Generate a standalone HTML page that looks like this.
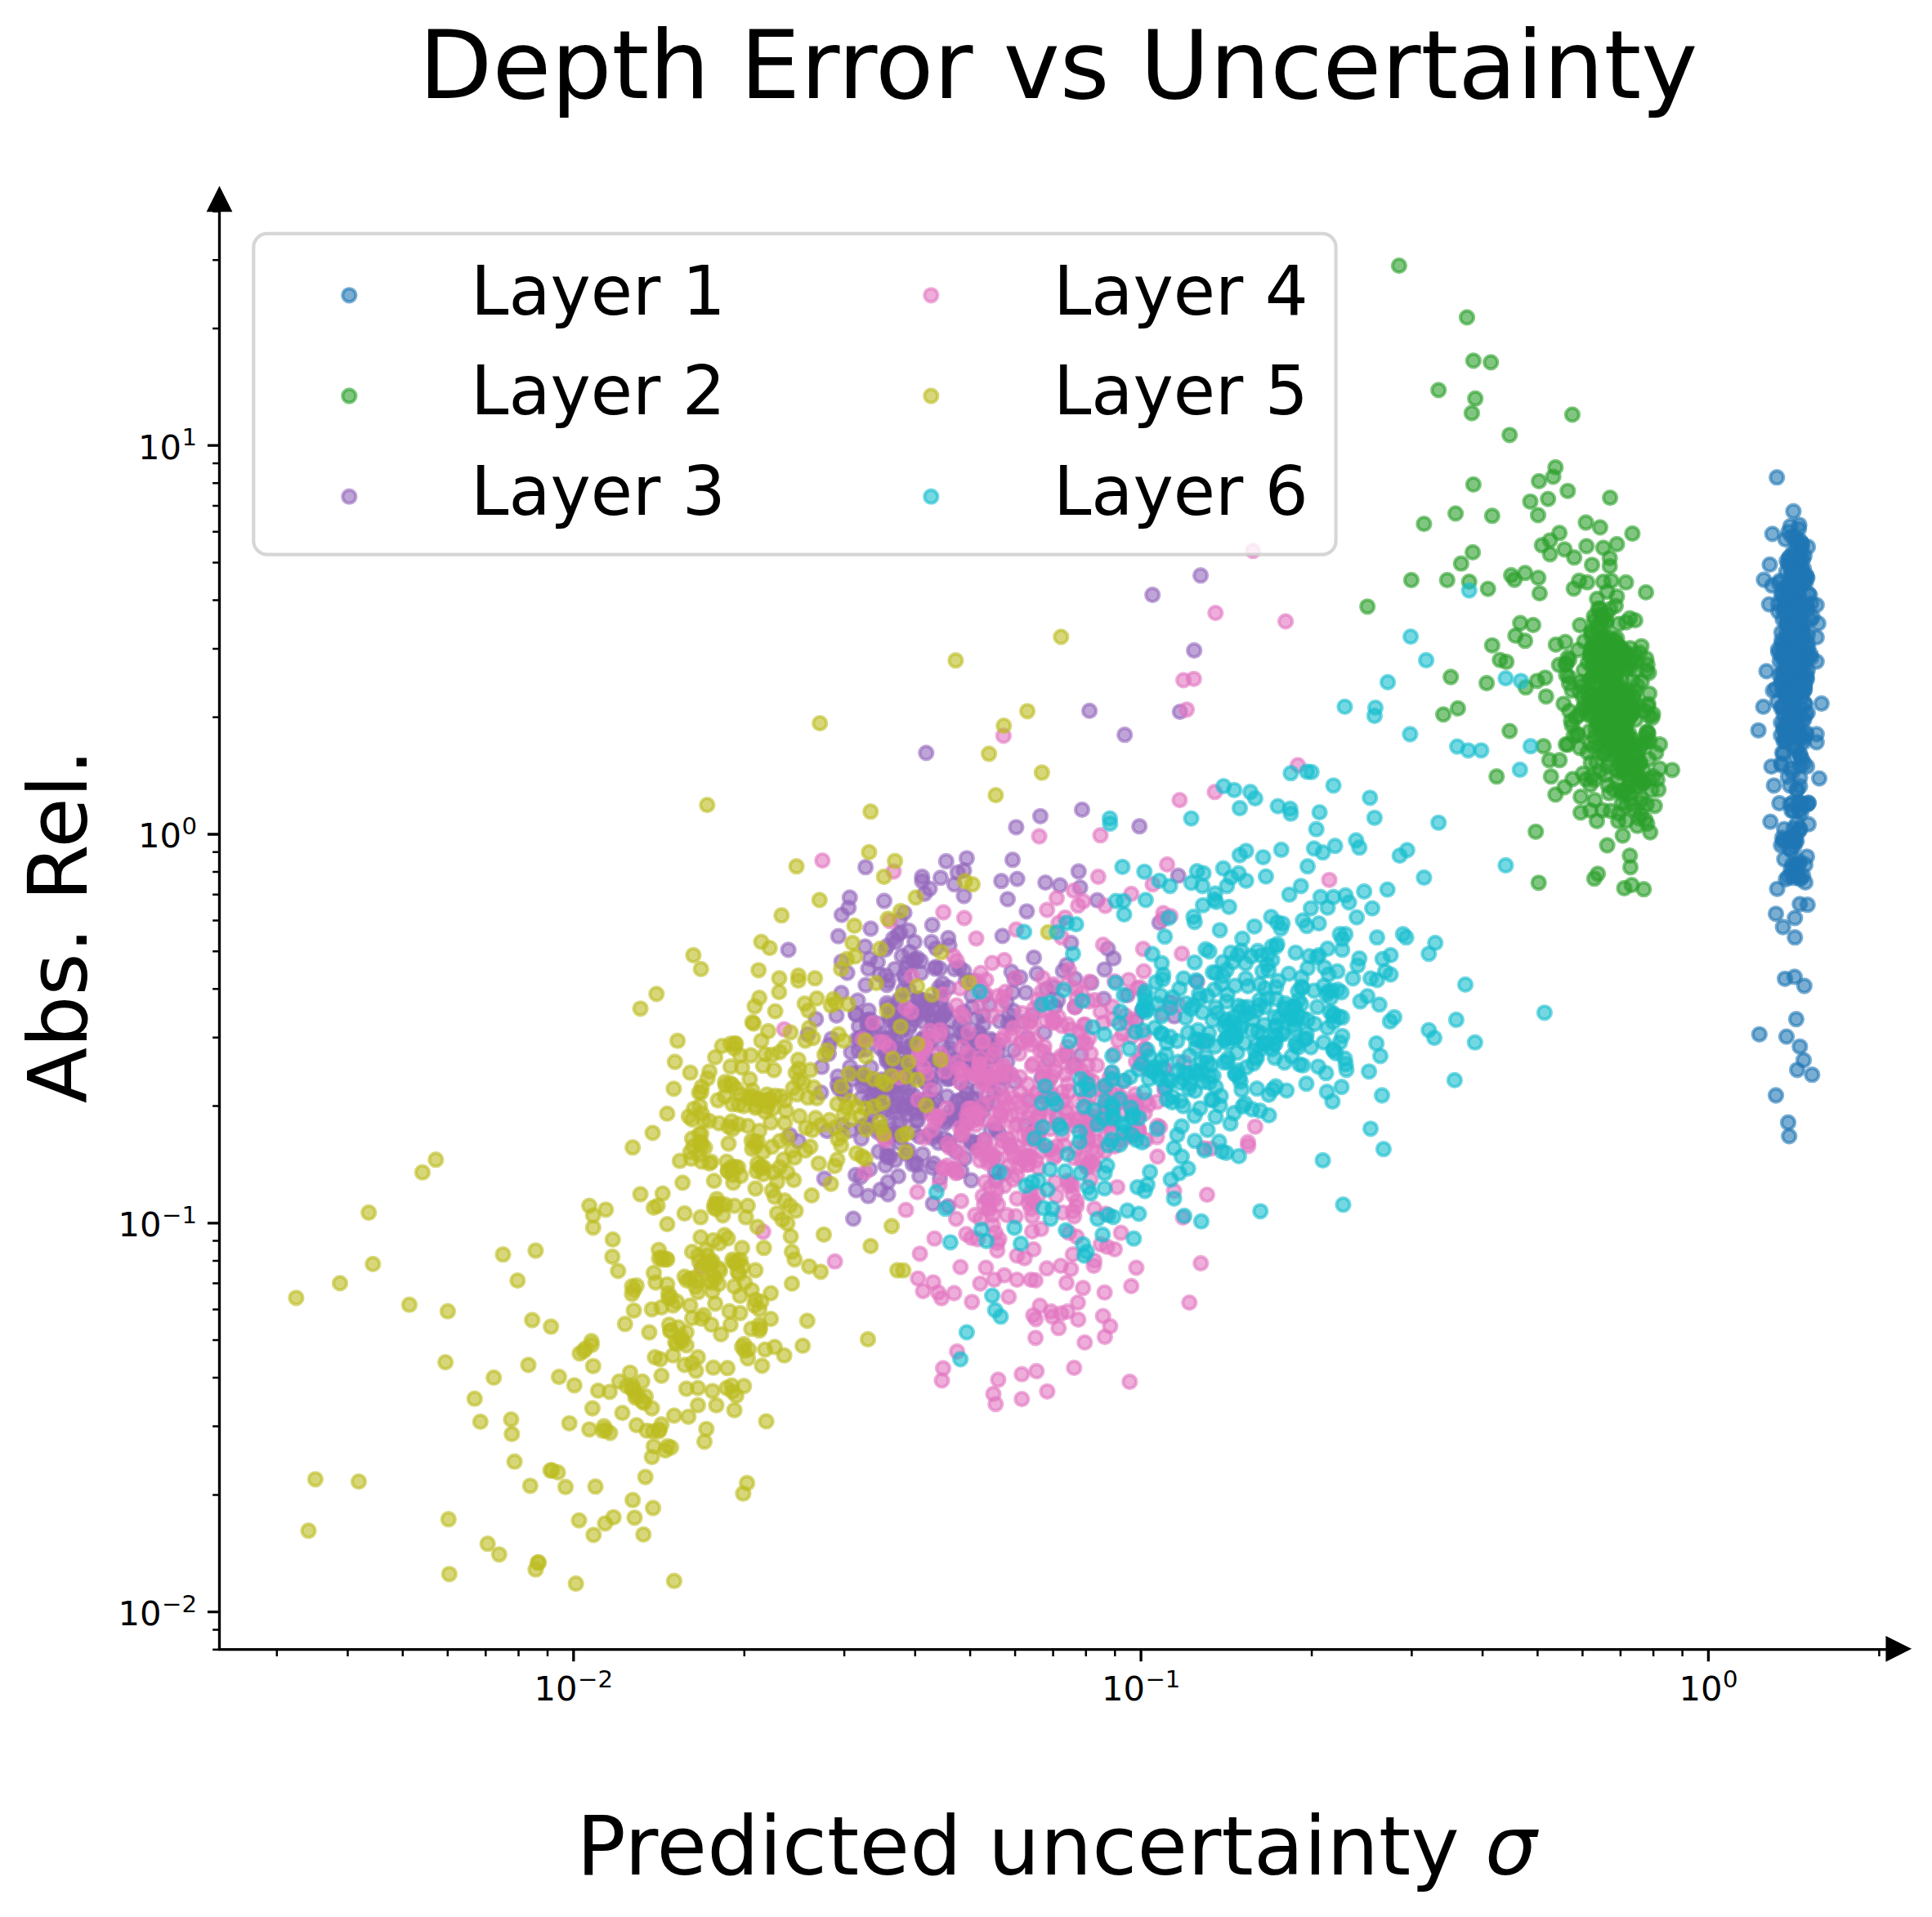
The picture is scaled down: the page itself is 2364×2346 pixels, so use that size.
<!DOCTYPE html>
<html><head><meta charset="utf-8"><title>Depth Error vs Uncertainty</title>
<style>html,body{margin:0;padding:0;background:#fff}svg{display:block}text{font-family:"DejaVu Sans","Liberation Sans",sans-serif;fill:#000}</style></head>
<body>
<svg width="2364" height="2346" viewBox="0 0 2364 2346">
<rect width="2364" height="2346" fill="#fff"/>
<g stroke="#000" fill="none">
<path stroke-width="2.5" d="M338.8 2018.7v8.33M425.5 2018.7v8.33M492.8 2018.7v8.33M547.8 2018.7v8.33M594.3 2018.7v8.33M634.5 2018.7v8.33M670.0 2018.7v8.33M910.8 2018.7v8.33M1033.1 2018.7v8.33M1119.8 2018.7v8.33M1187.1 2018.7v8.33M1242.1 2018.7v8.33M1288.6 2018.7v8.33M1328.8 2018.7v8.33M1364.3 2018.7v8.33M1605.1 2018.7v8.33M1727.4 2018.7v8.33M1814.1 2018.7v8.33M1881.4 2018.7v8.33M1936.4 2018.7v8.33M1982.9 2018.7v8.33M2023.1 2018.7v8.33M2058.6 2018.7v8.33M2299.4 2018.7v8.33"/>
<path stroke-width="2.5" d="M268.5 2018.7h-8.33M268.5 1994.4h-8.33M268.5 1829.4h-8.33M268.5 1745.6h-8.33M268.5 1686.1h-8.33M268.5 1640.0h-8.33M268.5 1602.4h-8.33M268.5 1570.5h-8.33M268.5 1542.9h-8.33M268.5 1518.6h-8.33M268.5 1353.6h-8.33M268.5 1269.8h-8.33M268.5 1210.3h-8.33M268.5 1164.2h-8.33M268.5 1126.6h-8.33M268.5 1094.7h-8.33M268.5 1067.1h-8.33M268.5 1042.8h-8.33M268.5 877.8h-8.33M268.5 794.0h-8.33M268.5 734.5h-8.33M268.5 688.4h-8.33M268.5 650.8h-8.33M268.5 618.9h-8.33M268.5 591.3h-8.33M268.5 567.0h-8.33M268.5 402.0h-8.33M268.5 318.2h-8.33M268.5 258.7h-8.33"/>
<path stroke-width="3.33" d="M701.8 2018.7v14.58M1396.1 2018.7v14.58M2090.4 2018.7v14.58M268.5 1972.6h-14.58M268.5 1496.8h-14.58M268.5 1021.0h-14.58M268.5 545.2h-14.58"/>
<path stroke-width="3.33" stroke-linecap="square" d="M268.5 244.6V2018.7H2322.0"/>
</g>
<path fill="#000" stroke="#000" stroke-width="4.17" stroke-linejoin="miter" d="M2334.5 2017.8L2309.5 2005.3V2030.3Z"/>
<path fill="#000" stroke="#000" stroke-width="4.17" stroke-linejoin="miter" d="M268.5 232.1L281.0 257.1H256.0Z"/>
<text x="653.6" y="2081" font-size="41.67">10<tspan dx="0.5" dy="-16.3" font-size="29.17">−2</tspan></text>
<text x="1347.9" y="2081" font-size="41.67">10<tspan dx="0.5" dy="-16.3" font-size="29.17">−1</tspan></text>
<text x="2054.4" y="2081" font-size="41.67">10<tspan dx="0.5" dy="-16.3" font-size="29.17">0</tspan></text>
<text x="144.5" y="1988.9" font-size="41.67">10<tspan dx="0.5" dy="-16.3" font-size="29.17">−2</tspan></text>
<text x="144.5" y="1513.1" font-size="41.67">10<tspan dx="0.5" dy="-16.3" font-size="29.17">−1</tspan></text>
<text x="168.9" y="1037.3" font-size="41.67">10<tspan dx="0.5" dy="-16.3" font-size="29.17">0</tspan></text>
<text x="168.9" y="561.5" font-size="41.67">10<tspan dx="0.5" dy="-16.3" font-size="29.17">1</tspan></text>
<text x="512.6" y="120.2" font-size="116.67" letter-spacing=".1">Depth Error vs Uncertainty</text>
<text x="705.5" y="2294" font-size="100" letter-spacing=".23">Predicted uncertainty <tspan font-style="oblique" dx="-1">σ</tspan></text>
<text transform="translate(105.8 1350.3) rotate(-90)" font-size="100">Abs. Rel.</text>
<g fill="#1f77b4" stroke="#1f77b4" stroke-width="4.17" fill-opacity=".6" stroke-opacity=".6">
<circle cx="2195.3" cy="902.0" r="8.07"/><circle cx="2207.2" cy="761.7" r="8.07"/><circle cx="2192.0" cy="760.4" r="8.07"/><circle cx="2200.7" cy="795.8" r="8.07"/><circle cx="2202.5" cy="661.5" r="8.07"/><circle cx="2210.7" cy="792.8" r="8.07"/><circle cx="2201.8" cy="789.8" r="8.07"/><circle cx="2191.2" cy="834.7" r="8.07"/>
<circle cx="2203.2" cy="784.8" r="8.07"/><circle cx="2193.5" cy="851.4" r="8.07"/><circle cx="2186.3" cy="686.4" r="8.07"/><circle cx="2198.9" cy="749.7" r="8.07"/><circle cx="2175.8" cy="738.9" r="8.07"/><circle cx="2190.3" cy="710.5" r="8.07"/><circle cx="2180.1" cy="802.7" r="8.07"/><circle cx="2204.0" cy="782.5" r="8.07"/>
<circle cx="2187.6" cy="828.9" r="8.07"/><circle cx="2202.2" cy="777.5" r="8.07"/><circle cx="2200.4" cy="878.2" r="8.07"/><circle cx="2192.9" cy="739.0" r="8.07"/><circle cx="2198.5" cy="818.6" r="8.07"/><circle cx="2206.0" cy="703.7" r="8.07"/><circle cx="2188.4" cy="737.1" r="8.07"/><circle cx="2177.7" cy="809.5" r="8.07"/>
<circle cx="2200.3" cy="744.6" r="8.07"/><circle cx="2208.9" cy="861.6" r="8.07"/><circle cx="2201.3" cy="830.1" r="8.07"/><circle cx="2204.6" cy="700.1" r="8.07"/><circle cx="2201.1" cy="845.2" r="8.07"/><circle cx="2177.3" cy="826.0" r="8.07"/><circle cx="2192.5" cy="858.6" r="8.07"/><circle cx="2190.6" cy="798.6" r="8.07"/>
<circle cx="2198.4" cy="734.3" r="8.07"/><circle cx="2201.0" cy="792.1" r="8.07"/><circle cx="2199.9" cy="760.9" r="8.07"/><circle cx="2205.9" cy="845.4" r="8.07"/><circle cx="2193.2" cy="847.4" r="8.07"/><circle cx="2207.6" cy="934.3" r="8.07"/><circle cx="2179.3" cy="866.2" r="8.07"/><circle cx="2199.7" cy="793.0" r="8.07"/>
<circle cx="2184.9" cy="894.3" r="8.07"/><circle cx="2182.4" cy="842.5" r="8.07"/><circle cx="2208.0" cy="680.0" r="8.07"/><circle cx="2192.0" cy="701.8" r="8.07"/><circle cx="2197.4" cy="913.6" r="8.07"/><circle cx="2189.3" cy="852.8" r="8.07"/><circle cx="2210.8" cy="831.6" r="8.07"/><circle cx="2187.5" cy="822.3" r="8.07"/>
<circle cx="2194.8" cy="784.7" r="8.07"/><circle cx="2187.7" cy="829.0" r="8.07"/><circle cx="2198.1" cy="793.0" r="8.07"/><circle cx="2192.8" cy="703.6" r="8.07"/><circle cx="2190.1" cy="890.5" r="8.07"/><circle cx="2193.1" cy="692.0" r="8.07"/><circle cx="2208.3" cy="839.8" r="8.07"/><circle cx="2216.1" cy="804.7" r="8.07"/>
<circle cx="2190.4" cy="691.4" r="8.07"/><circle cx="2186.8" cy="751.5" r="8.07"/><circle cx="2201.0" cy="737.7" r="8.07"/><circle cx="2192.3" cy="773.8" r="8.07"/><circle cx="2196.9" cy="882.1" r="8.07"/><circle cx="2195.2" cy="868.9" r="8.07"/><circle cx="2190.8" cy="824.6" r="8.07"/><circle cx="2203.0" cy="755.7" r="8.07"/>
<circle cx="2200.8" cy="840.7" r="8.07"/><circle cx="2208.2" cy="860.9" r="8.07"/><circle cx="2205.2" cy="791.6" r="8.07"/><circle cx="2188.0" cy="745.1" r="8.07"/><circle cx="2190.1" cy="715.3" r="8.07"/><circle cx="2189.5" cy="793.1" r="8.07"/><circle cx="2197.5" cy="774.6" r="8.07"/><circle cx="2175.8" cy="794.6" r="8.07"/>
<circle cx="2197.3" cy="881.3" r="8.07"/><circle cx="2200.8" cy="751.7" r="8.07"/><circle cx="2187.8" cy="950.8" r="8.07"/><circle cx="2202.6" cy="937.4" r="8.07"/><circle cx="2216.3" cy="738.6" r="8.07"/><circle cx="2198.9" cy="834.4" r="8.07"/><circle cx="2200.6" cy="840.6" r="8.07"/><circle cx="2197.0" cy="813.1" r="8.07"/>
<circle cx="2180.0" cy="787.6" r="8.07"/><circle cx="2187.5" cy="809.5" r="8.07"/><circle cx="2190.3" cy="846.4" r="8.07"/><circle cx="2203.2" cy="823.2" r="8.07"/><circle cx="2198.2" cy="807.0" r="8.07"/><circle cx="2190.5" cy="787.7" r="8.07"/><circle cx="2190.0" cy="829.1" r="8.07"/><circle cx="2195.1" cy="843.6" r="8.07"/>
<circle cx="2181.7" cy="866.6" r="8.07"/><circle cx="2187.4" cy="744.9" r="8.07"/><circle cx="2193.0" cy="757.7" r="8.07"/><circle cx="2197.9" cy="756.9" r="8.07"/><circle cx="2184.3" cy="736.6" r="8.07"/><circle cx="2208.1" cy="803.3" r="8.07"/><circle cx="2183.3" cy="800.6" r="8.07"/><circle cx="2179.4" cy="934.2" r="8.07"/>
<circle cx="2179.8" cy="835.9" r="8.07"/><circle cx="2200.4" cy="691.2" r="8.07"/><circle cx="2198.0" cy="874.8" r="8.07"/><circle cx="2199.7" cy="819.6" r="8.07"/><circle cx="2204.5" cy="812.1" r="8.07"/><circle cx="2198.4" cy="790.5" r="8.07"/><circle cx="2201.3" cy="729.4" r="8.07"/><circle cx="2202.9" cy="762.1" r="8.07"/>
<circle cx="2184.1" cy="827.4" r="8.07"/><circle cx="2211.9" cy="872.1" r="8.07"/><circle cx="2189.8" cy="852.4" r="8.07"/><circle cx="2190.5" cy="790.7" r="8.07"/><circle cx="2196.9" cy="722.8" r="8.07"/><circle cx="2188.0" cy="689.4" r="8.07"/><circle cx="2179.8" cy="729.3" r="8.07"/><circle cx="2203.3" cy="925.0" r="8.07"/>
<circle cx="2194.7" cy="881.9" r="8.07"/><circle cx="2192.4" cy="656.6" r="8.07"/><circle cx="2196.5" cy="833.4" r="8.07"/><circle cx="2190.7" cy="822.7" r="8.07"/><circle cx="2200.7" cy="735.2" r="8.07"/><circle cx="2180.2" cy="783.4" r="8.07"/><circle cx="2192.9" cy="773.6" r="8.07"/><circle cx="2204.9" cy="929.4" r="8.07"/>
<circle cx="2190.8" cy="852.4" r="8.07"/><circle cx="2204.4" cy="853.5" r="8.07"/><circle cx="2205.5" cy="770.8" r="8.07"/><circle cx="2202.4" cy="951.8" r="8.07"/><circle cx="2203.0" cy="753.5" r="8.07"/><circle cx="2201.1" cy="894.7" r="8.07"/><circle cx="2198.7" cy="757.7" r="8.07"/><circle cx="2210.4" cy="706.3" r="8.07"/>
<circle cx="2200.0" cy="798.8" r="8.07"/><circle cx="2183.1" cy="891.5" r="8.07"/><circle cx="2198.5" cy="712.5" r="8.07"/><circle cx="2201.0" cy="767.6" r="8.07"/><circle cx="2176.0" cy="748.3" r="8.07"/><circle cx="2197.6" cy="847.7" r="8.07"/><circle cx="2196.7" cy="803.4" r="8.07"/><circle cx="2199.7" cy="784.2" r="8.07"/>
<circle cx="2206.8" cy="811.1" r="8.07"/><circle cx="2197.9" cy="840.6" r="8.07"/><circle cx="2184.4" cy="746.8" r="8.07"/><circle cx="2210.3" cy="825.1" r="8.07"/><circle cx="2192.2" cy="825.6" r="8.07"/><circle cx="2190.2" cy="820.9" r="8.07"/><circle cx="2188.3" cy="820.7" r="8.07"/><circle cx="2179.2" cy="899.8" r="8.07"/>
<circle cx="2189.9" cy="681.4" r="8.07"/><circle cx="2192.8" cy="772.2" r="8.07"/><circle cx="2196.5" cy="714.1" r="8.07"/><circle cx="2182.2" cy="825.3" r="8.07"/><circle cx="2191.9" cy="814.4" r="8.07"/><circle cx="2176.9" cy="713.7" r="8.07"/><circle cx="2199.6" cy="797.1" r="8.07"/><circle cx="2211.4" cy="747.1" r="8.07"/>
<circle cx="2187.3" cy="732.2" r="8.07"/><circle cx="2194.6" cy="796.7" r="8.07"/><circle cx="2203.4" cy="809.7" r="8.07"/><circle cx="2187.4" cy="815.9" r="8.07"/><circle cx="2186.2" cy="846.7" r="8.07"/><circle cx="2193.3" cy="945.0" r="8.07"/><circle cx="2204.3" cy="866.8" r="8.07"/><circle cx="2196.9" cy="797.0" r="8.07"/>
<circle cx="2198.4" cy="897.1" r="8.07"/><circle cx="2200.3" cy="773.7" r="8.07"/><circle cx="2207.8" cy="814.4" r="8.07"/><circle cx="2194.2" cy="740.6" r="8.07"/><circle cx="2189.3" cy="752.3" r="8.07"/><circle cx="2200.7" cy="783.9" r="8.07"/><circle cx="2205.5" cy="832.8" r="8.07"/><circle cx="2192.7" cy="839.9" r="8.07"/>
<circle cx="2211.1" cy="938.0" r="8.07"/><circle cx="2209.3" cy="712.9" r="8.07"/><circle cx="2173.0" cy="842.8" r="8.07"/><circle cx="2195.3" cy="872.2" r="8.07"/><circle cx="2193.7" cy="816.5" r="8.07"/><circle cx="2180.0" cy="833.6" r="8.07"/><circle cx="2190.6" cy="826.2" r="8.07"/><circle cx="2199.6" cy="791.2" r="8.07"/>
<circle cx="2198.2" cy="799.0" r="8.07"/><circle cx="2202.6" cy="837.6" r="8.07"/><circle cx="2189.5" cy="755.9" r="8.07"/><circle cx="2212.4" cy="792.4" r="8.07"/><circle cx="2204.9" cy="829.5" r="8.07"/><circle cx="2189.4" cy="743.8" r="8.07"/><circle cx="2196.2" cy="819.2" r="8.07"/><circle cx="2201.1" cy="705.0" r="8.07"/>
<circle cx="2189.1" cy="792.9" r="8.07"/><circle cx="2199.4" cy="759.5" r="8.07"/><circle cx="2199.3" cy="763.1" r="8.07"/><circle cx="2198.6" cy="917.3" r="8.07"/><circle cx="2198.5" cy="832.5" r="8.07"/><circle cx="2198.7" cy="743.7" r="8.07"/><circle cx="2200.4" cy="784.4" r="8.07"/><circle cx="2186.9" cy="797.1" r="8.07"/>
<circle cx="2192.7" cy="856.5" r="8.07"/><circle cx="2194.6" cy="760.3" r="8.07"/><circle cx="2209.6" cy="874.1" r="8.07"/><circle cx="2207.7" cy="845.6" r="8.07"/><circle cx="2193.9" cy="768.6" r="8.07"/><circle cx="2192.2" cy="871.1" r="8.07"/><circle cx="2196.1" cy="688.8" r="8.07"/><circle cx="2194.6" cy="693.8" r="8.07"/>
<circle cx="2196.7" cy="709.7" r="8.07"/><circle cx="2182.4" cy="808.9" r="8.07"/><circle cx="2194.2" cy="675.4" r="8.07"/><circle cx="2202.5" cy="962.2" r="8.07"/><circle cx="2180.2" cy="936.5" r="8.07"/><circle cx="2188.1" cy="762.9" r="8.07"/><circle cx="2193.2" cy="691.6" r="8.07"/><circle cx="2208.0" cy="837.0" r="8.07"/>
<circle cx="2187.5" cy="779.2" r="8.07"/><circle cx="2179.8" cy="773.9" r="8.07"/><circle cx="2204.4" cy="671.4" r="8.07"/><circle cx="2190.6" cy="811.0" r="8.07"/><circle cx="2205.5" cy="901.2" r="8.07"/><circle cx="2190.4" cy="744.5" r="8.07"/><circle cx="2199.5" cy="772.8" r="8.07"/><circle cx="2191.9" cy="881.0" r="8.07"/>
<circle cx="2211.9" cy="819.9" r="8.07"/><circle cx="2193.1" cy="842.8" r="8.07"/><circle cx="2176.1" cy="798.6" r="8.07"/><circle cx="2202.2" cy="810.6" r="8.07"/><circle cx="2202.1" cy="922.2" r="8.07"/><circle cx="2187.7" cy="851.3" r="8.07"/><circle cx="2202.2" cy="683.9" r="8.07"/><circle cx="2204.4" cy="901.6" r="8.07"/>
<circle cx="2197.3" cy="795.3" r="8.07"/><circle cx="2202.9" cy="684.4" r="8.07"/><circle cx="2195.9" cy="879.1" r="8.07"/><circle cx="2182.6" cy="874.4" r="8.07"/><circle cx="2190.8" cy="643.9" r="8.07"/><circle cx="2193.9" cy="727.1" r="8.07"/><circle cx="2198.2" cy="712.1" r="8.07"/><circle cx="2205.5" cy="744.6" r="8.07"/>
<circle cx="2198.6" cy="755.5" r="8.07"/><circle cx="2191.8" cy="889.4" r="8.07"/><circle cx="2197.2" cy="770.4" r="8.07"/><circle cx="2182.5" cy="887.0" r="8.07"/><circle cx="2202.3" cy="775.5" r="8.07"/><circle cx="2197.4" cy="722.8" r="8.07"/><circle cx="2184.9" cy="738.0" r="8.07"/><circle cx="2198.5" cy="822.2" r="8.07"/>
<circle cx="2187.5" cy="855.3" r="8.07"/><circle cx="2202.8" cy="813.0" r="8.07"/><circle cx="2205.4" cy="778.4" r="8.07"/><circle cx="2193.9" cy="835.5" r="8.07"/><circle cx="2194.7" cy="859.5" r="8.07"/><circle cx="2182.5" cy="906.9" r="8.07"/><circle cx="2187.2" cy="787.6" r="8.07"/><circle cx="2181.2" cy="845.0" r="8.07"/>
<circle cx="2207.7" cy="880.3" r="8.07"/><circle cx="2203.3" cy="683.2" r="8.07"/><circle cx="2187.2" cy="765.3" r="8.07"/><circle cx="2185.7" cy="884.2" r="8.07"/><circle cx="2196.8" cy="798.2" r="8.07"/><circle cx="2199.9" cy="728.6" r="8.07"/><circle cx="2185.9" cy="733.9" r="8.07"/><circle cx="2200.0" cy="825.6" r="8.07"/>
<circle cx="2200.8" cy="880.9" r="8.07"/><circle cx="2181.4" cy="758.0" r="8.07"/><circle cx="2196.5" cy="698.8" r="8.07"/><circle cx="2189.7" cy="876.1" r="8.07"/><circle cx="2206.0" cy="880.8" r="8.07"/><circle cx="2195.4" cy="784.1" r="8.07"/><circle cx="2205.8" cy="772.1" r="8.07"/><circle cx="2198.4" cy="899.4" r="8.07"/>
<circle cx="2191.3" cy="754.2" r="8.07"/><circle cx="2194.9" cy="844.9" r="8.07"/><circle cx="2199.8" cy="811.7" r="8.07"/><circle cx="2200.6" cy="680.0" r="8.07"/><circle cx="2186.4" cy="812.2" r="8.07"/><circle cx="2185.7" cy="699.4" r="8.07"/><circle cx="2182.9" cy="731.1" r="8.07"/><circle cx="2193.2" cy="723.3" r="8.07"/>
<circle cx="2197.3" cy="927.2" r="8.07"/><circle cx="2193.5" cy="895.6" r="8.07"/><circle cx="2197.9" cy="716.0" r="8.07"/><circle cx="2192.4" cy="726.4" r="8.07"/><circle cx="2202.7" cy="713.5" r="8.07"/><circle cx="2208.2" cy="843.4" r="8.07"/><circle cx="2174.8" cy="858.8" r="8.07"/><circle cx="2210.5" cy="740.7" r="8.07"/>
<circle cx="2204.9" cy="665.1" r="8.07"/><circle cx="2197.5" cy="675.4" r="8.07"/><circle cx="2199.8" cy="665.9" r="8.07"/><circle cx="2217.9" cy="755.3" r="8.07"/><circle cx="2203.3" cy="808.3" r="8.07"/><circle cx="2191.8" cy="846.2" r="8.07"/><circle cx="2211.4" cy="707.4" r="8.07"/><circle cx="2200.6" cy="825.9" r="8.07"/>
<circle cx="2180.8" cy="921.1" r="8.07"/><circle cx="2214.5" cy="728.5" r="8.07"/><circle cx="2212.4" cy="804.2" r="8.07"/><circle cx="2193.4" cy="912.8" r="8.07"/><circle cx="2197.3" cy="824.2" r="8.07"/><circle cx="2210.2" cy="896.6" r="8.07"/><circle cx="2203.9" cy="695.0" r="8.07"/><circle cx="2179.3" cy="884.5" r="8.07"/>
<circle cx="2185.7" cy="811.1" r="8.07"/><circle cx="2184.3" cy="786.2" r="8.07"/><circle cx="2182.2" cy="922.3" r="8.07"/><circle cx="2184.8" cy="790.9" r="8.07"/><circle cx="2193.1" cy="890.5" r="8.07"/><circle cx="2180.8" cy="797.5" r="8.07"/><circle cx="2192.9" cy="839.7" r="8.07"/><circle cx="2199.7" cy="765.2" r="8.07"/>
<circle cx="2197.4" cy="771.9" r="8.07"/><circle cx="2199.7" cy="792.3" r="8.07"/><circle cx="2188.4" cy="797.9" r="8.07"/><circle cx="2190.1" cy="823.0" r="8.07"/><circle cx="2177.6" cy="710.9" r="8.07"/><circle cx="2198.9" cy="890.6" r="8.07"/><circle cx="2196.8" cy="702.6" r="8.07"/><circle cx="2206.2" cy="684.6" r="8.07"/>
<circle cx="2206.3" cy="908.9" r="8.07"/><circle cx="2187.4" cy="716.9" r="8.07"/><circle cx="2203.4" cy="717.9" r="8.07"/><circle cx="2203.6" cy="710.4" r="8.07"/><circle cx="2203.1" cy="807.0" r="8.07"/><circle cx="2190.7" cy="732.8" r="8.07"/><circle cx="2197.4" cy="658.1" r="8.07"/><circle cx="2192.2" cy="770.3" r="8.07"/>
<circle cx="2201.8" cy="706.0" r="8.07"/><circle cx="2212.1" cy="776.6" r="8.07"/><circle cx="2183.6" cy="904.0" r="8.07"/><circle cx="2211.6" cy="785.9" r="8.07"/><circle cx="2186.1" cy="801.2" r="8.07"/><circle cx="2188.1" cy="776.6" r="8.07"/><circle cx="2210.6" cy="829.4" r="8.07"/><circle cx="2196.5" cy="826.0" r="8.07"/>
<circle cx="2194.4" cy="863.1" r="8.07"/><circle cx="2203.8" cy="772.3" r="8.07"/><circle cx="2199.2" cy="786.1" r="8.07"/><circle cx="2215.5" cy="800.7" r="8.07"/><circle cx="2184.0" cy="850.6" r="8.07"/><circle cx="2186.0" cy="762.7" r="8.07"/><circle cx="2198.3" cy="790.5" r="8.07"/><circle cx="2187.4" cy="758.7" r="8.07"/>
<circle cx="2189.1" cy="887.5" r="8.07"/><circle cx="2187.8" cy="757.1" r="8.07"/><circle cx="2215.4" cy="758.5" r="8.07"/><circle cx="2209.9" cy="898.7" r="8.07"/><circle cx="2193.5" cy="693.5" r="8.07"/><circle cx="2199.5" cy="850.5" r="8.07"/><circle cx="2204.7" cy="805.4" r="8.07"/><circle cx="2207.0" cy="904.3" r="8.07"/>
<circle cx="2184.5" cy="907.2" r="8.07"/><circle cx="2196.7" cy="757.6" r="8.07"/><circle cx="2191.8" cy="940.8" r="8.07"/><circle cx="2204.8" cy="665.8" r="8.07"/><circle cx="2195.8" cy="789.5" r="8.07"/><circle cx="2193.2" cy="761.5" r="8.07"/><circle cx="2180.4" cy="864.6" r="8.07"/><circle cx="2185.6" cy="772.2" r="8.07"/>
<circle cx="2189.0" cy="745.4" r="8.07"/><circle cx="2202.4" cy="828.8" r="8.07"/><circle cx="2188.3" cy="729.1" r="8.07"/><circle cx="2190.3" cy="872.5" r="8.07"/><circle cx="2196.3" cy="817.5" r="8.07"/><circle cx="2191.7" cy="780.7" r="8.07"/><circle cx="2197.2" cy="661.7" r="8.07"/><circle cx="2211.1" cy="740.9" r="8.07"/>
<circle cx="2189.3" cy="900.4" r="8.07"/><circle cx="2197.2" cy="803.2" r="8.07"/><circle cx="2189.2" cy="682.9" r="8.07"/><circle cx="2196.8" cy="889.6" r="8.07"/><circle cx="2186.0" cy="902.2" r="8.07"/><circle cx="2183.7" cy="744.9" r="8.07"/><circle cx="2200.1" cy="800.0" r="8.07"/><circle cx="2201.9" cy="744.4" r="8.07"/>
<circle cx="2184.7" cy="660.0" r="8.07"/><circle cx="2183.0" cy="719.3" r="8.07"/><circle cx="2180.7" cy="823.1" r="8.07"/><circle cx="2188.4" cy="650.9" r="8.07"/><circle cx="2182.4" cy="893.0" r="8.07"/><circle cx="2206.7" cy="713.6" r="8.07"/><circle cx="2180.3" cy="725.0" r="8.07"/><circle cx="2206.3" cy="776.7" r="8.07"/>
<circle cx="2186.9" cy="797.9" r="8.07"/><circle cx="2207.0" cy="695.8" r="8.07"/><circle cx="2191.2" cy="696.2" r="8.07"/><circle cx="2204.5" cy="790.0" r="8.07"/><circle cx="2201.6" cy="642.3" r="8.07"/><circle cx="2197.8" cy="699.8" r="8.07"/><circle cx="2181.8" cy="747.1" r="8.07"/><circle cx="2191.5" cy="843.1" r="8.07"/>
<circle cx="2202.0" cy="819.7" r="8.07"/><circle cx="2185.6" cy="850.7" r="8.07"/><circle cx="2193.8" cy="888.5" r="8.07"/><circle cx="2190.2" cy="961.3" r="8.07"/><circle cx="2199.7" cy="785.4" r="8.07"/><circle cx="2203.8" cy="837.7" r="8.07"/><circle cx="2199.6" cy="761.5" r="8.07"/><circle cx="2195.8" cy="815.1" r="8.07"/>
<circle cx="2188.6" cy="716.1" r="8.07"/><circle cx="2196.4" cy="872.6" r="8.07"/><circle cx="2201.5" cy="837.0" r="8.07"/><circle cx="2201.7" cy="991.4" r="8.07"/><circle cx="2212.7" cy="982.5" r="8.07"/><circle cx="2201.7" cy="991.4" r="8.07"/><circle cx="2211.0" cy="984.8" r="8.07"/><circle cx="2202.4" cy="982.8" r="8.07"/>
<circle cx="2192.2" cy="992.1" r="8.07"/><circle cx="2198.4" cy="966.5" r="8.07"/><circle cx="2199.1" cy="966.5" r="8.07"/><circle cx="2193.5" cy="982.2" r="8.07"/><circle cx="2194.0" cy="991.7" r="8.07"/><circle cx="2190.5" cy="984.4" r="8.07"/><circle cx="2203.7" cy="995.2" r="8.07"/><circle cx="2206.0" cy="984.2" r="8.07"/>
<circle cx="2200.6" cy="981.5" r="8.07"/><circle cx="2200.6" cy="1017.9" r="8.07"/><circle cx="2196.0" cy="1024.1" r="8.07"/><circle cx="2193.9" cy="1022.2" r="8.07"/><circle cx="2194.0" cy="1028.2" r="8.07"/><circle cx="2196.6" cy="1030.1" r="8.07"/><circle cx="2195.3" cy="1035.9" r="8.07"/><circle cx="2180.8" cy="1025.2" r="8.07"/>
<circle cx="2182.8" cy="1027.7" r="8.07"/><circle cx="2183.2" cy="1014.6" r="8.07"/><circle cx="2191.6" cy="1040.5" r="8.07"/><circle cx="2196.4" cy="1028.4" r="8.07"/><circle cx="2202.6" cy="1014.7" r="8.07"/><circle cx="2190.0" cy="1038.7" r="8.07"/><circle cx="2198.4" cy="1029.2" r="8.07"/><circle cx="2188.6" cy="1026.7" r="8.07"/>
<circle cx="2181.8" cy="1030.3" r="8.07"/><circle cx="2191.3" cy="1028.8" r="8.07"/><circle cx="2194.8" cy="1013.5" r="8.07"/><circle cx="2202.0" cy="1014.0" r="8.07"/><circle cx="2198.8" cy="1007.6" r="8.07"/><circle cx="2199.5" cy="1057.7" r="8.07"/><circle cx="2197.4" cy="1059.3" r="8.07"/><circle cx="2197.5" cy="1070.8" r="8.07"/>
<circle cx="2191.4" cy="1063.2" r="8.07"/><circle cx="2193.0" cy="1057.9" r="8.07"/><circle cx="2202.6" cy="1073.8" r="8.07"/><circle cx="2201.9" cy="1056.7" r="8.07"/><circle cx="2197.6" cy="1063.4" r="8.07"/><circle cx="2187.8" cy="1073.1" r="8.07"/><circle cx="2197.7" cy="1060.8" r="8.07"/><circle cx="2206.3" cy="1072.0" r="8.07"/>
<circle cx="2202.7" cy="1075.9" r="8.07"/><circle cx="2201.8" cy="1053.7" r="8.07"/><circle cx="2194.6" cy="1074.2" r="8.07"/><circle cx="2174.2" cy="584.2" r="8.07"/><circle cx="2194.4" cy="625.7" r="8.07"/><circle cx="2168.7" cy="653.4" r="8.07"/><circle cx="2201.1" cy="647.4" r="8.07"/><circle cx="2212.1" cy="669.2" r="8.07"/>
<circle cx="2165.5" cy="690.9" r="8.07"/><circle cx="2158.4" cy="709.5" r="8.07"/><circle cx="2168.3" cy="716.6" r="8.07"/><circle cx="2210.2" cy="704.0" r="8.07"/><circle cx="2212.9" cy="726.5" r="8.07"/><circle cx="2164.7" cy="739.6" r="8.07"/><circle cx="2222.8" cy="740.4" r="8.07"/><circle cx="2224.8" cy="762.9" r="8.07"/>
<circle cx="2222.8" cy="779.9" r="8.07"/><circle cx="2161.5" cy="821.4" r="8.07"/><circle cx="2222.8" cy="809.6" r="8.07"/><circle cx="2169.4" cy="845.1" r="8.07"/><circle cx="2157.6" cy="864.9" r="8.07"/><circle cx="2228.8" cy="861.0" r="8.07"/><circle cx="2151.6" cy="893.8" r="8.07"/><circle cx="2222.8" cy="898.5" r="8.07"/>
<circle cx="2222.8" cy="908.4" r="8.07"/><circle cx="2167.5" cy="938.1" r="8.07"/><circle cx="2226.0" cy="952.6" r="8.07"/><circle cx="2170.6" cy="961.3" r="8.07"/><circle cx="2177.3" cy="983.0" r="8.07"/><circle cx="2212.9" cy="983.0" r="8.07"/><circle cx="2166.3" cy="1005.6" r="8.07"/><circle cx="2212.9" cy="1008.7" r="8.07"/>
<circle cx="2179.3" cy="1034.5" r="8.07"/><circle cx="2183.3" cy="1051.5" r="8.07"/><circle cx="2211.0" cy="1048.3" r="8.07"/><circle cx="2209.0" cy="1058.2" r="8.07"/><circle cx="2209.0" cy="1079.9" r="8.07"/><circle cx="2192.0" cy="1070.0" r="8.07"/><circle cx="2185.3" cy="1076.0" r="8.07"/><circle cx="2174.6" cy="1087.8" r="8.07"/>
<circle cx="2202.3" cy="1106.4" r="8.07"/><circle cx="2211.8" cy="1107.2" r="8.07"/><circle cx="2173.0" cy="1118.3" r="8.07"/><circle cx="2196.3" cy="1123.4" r="8.07"/><circle cx="2181.7" cy="1134.5" r="8.07"/><circle cx="2196.3" cy="1147.2" r="8.07"/><circle cx="2184.1" cy="1197.8" r="8.07"/><circle cx="2195.9" cy="1195.4" r="8.07"/>
<circle cx="2207.8" cy="1206.5" r="8.07"/><circle cx="2197.9" cy="1247.2" r="8.07"/><circle cx="2152.8" cy="1265.8" r="8.07"/><circle cx="2186.0" cy="1268.6" r="8.07"/><circle cx="2202.3" cy="1280.8" r="8.07"/><circle cx="2207.0" cy="1297.4" r="8.07"/><circle cx="2199.1" cy="1309.3" r="8.07"/><circle cx="2217.3" cy="1315.2" r="8.07"/>
<circle cx="2173.0" cy="1340.5" r="8.07"/><circle cx="2188.0" cy="1373.7" r="8.07"/><circle cx="2189.2" cy="1390.4" r="8.07"/>
</g>
<g fill="#2ca02c" stroke="#2ca02c" stroke-width="4.17" fill-opacity=".6" stroke-opacity=".6">
<circle cx="1954.7" cy="770.9" r="8.07"/><circle cx="1956.7" cy="806.9" r="8.07"/><circle cx="2014.4" cy="805.9" r="8.07"/><circle cx="2003.8" cy="963.2" r="8.07"/><circle cx="1976.5" cy="821.7" r="8.07"/><circle cx="1993.9" cy="950.7" r="8.07"/><circle cx="2029.3" cy="966.3" r="8.07"/><circle cx="2017.5" cy="876.3" r="8.07"/>
<circle cx="1965.6" cy="751.5" r="8.07"/><circle cx="1959.8" cy="825.1" r="8.07"/><circle cx="1988.1" cy="797.1" r="8.07"/><circle cx="2001.1" cy="880.7" r="8.07"/><circle cx="1970.5" cy="812.1" r="8.07"/><circle cx="2026.4" cy="921.2" r="8.07"/><circle cx="1965.1" cy="795.8" r="8.07"/><circle cx="2022.6" cy="873.8" r="8.07"/>
<circle cx="2009.0" cy="977.6" r="8.07"/><circle cx="1979.6" cy="802.3" r="8.07"/><circle cx="1972.6" cy="891.7" r="8.07"/><circle cx="1991.9" cy="902.6" r="8.07"/><circle cx="1968.8" cy="930.0" r="8.07"/><circle cx="2015.5" cy="1008.1" r="8.07"/><circle cx="2005.0" cy="1001.3" r="8.07"/><circle cx="2028.0" cy="954.1" r="8.07"/>
<circle cx="2002.5" cy="922.1" r="8.07"/><circle cx="1995.6" cy="931.8" r="8.07"/><circle cx="1948.1" cy="816.1" r="8.07"/><circle cx="1994.2" cy="756.6" r="8.07"/><circle cx="1953.7" cy="933.2" r="8.07"/><circle cx="1961.8" cy="821.2" r="8.07"/><circle cx="1991.9" cy="849.8" r="8.07"/><circle cx="1965.9" cy="822.2" r="8.07"/>
<circle cx="1975.0" cy="827.3" r="8.07"/><circle cx="1987.8" cy="967.9" r="8.07"/><circle cx="1991.5" cy="972.4" r="8.07"/><circle cx="1999.5" cy="934.1" r="8.07"/><circle cx="1996.3" cy="864.5" r="8.07"/><circle cx="1992.9" cy="896.4" r="8.07"/><circle cx="1960.6" cy="891.0" r="8.07"/><circle cx="1996.1" cy="903.4" r="8.07"/>
<circle cx="2014.8" cy="895.9" r="8.07"/><circle cx="1938.3" cy="863.5" r="8.07"/><circle cx="1969.3" cy="895.9" r="8.07"/><circle cx="1981.9" cy="934.3" r="8.07"/><circle cx="1988.9" cy="891.1" r="8.07"/><circle cx="1987.1" cy="945.1" r="8.07"/><circle cx="1956.8" cy="912.4" r="8.07"/><circle cx="1998.5" cy="851.6" r="8.07"/>
<circle cx="1984.0" cy="843.8" r="8.07"/><circle cx="1985.2" cy="926.2" r="8.07"/><circle cx="1969.7" cy="899.6" r="8.07"/><circle cx="2003.8" cy="926.5" r="8.07"/><circle cx="2016.8" cy="897.8" r="8.07"/><circle cx="1984.6" cy="862.4" r="8.07"/><circle cx="1984.1" cy="904.4" r="8.07"/><circle cx="1971.0" cy="843.0" r="8.07"/>
<circle cx="1947.1" cy="772.7" r="8.07"/><circle cx="1962.6" cy="781.2" r="8.07"/><circle cx="1974.7" cy="901.5" r="8.07"/><circle cx="1976.0" cy="784.7" r="8.07"/><circle cx="1989.1" cy="884.9" r="8.07"/><circle cx="1954.6" cy="850.0" r="8.07"/><circle cx="1961.5" cy="811.0" r="8.07"/><circle cx="1968.5" cy="902.9" r="8.07"/>
<circle cx="1966.7" cy="834.3" r="8.07"/><circle cx="1987.8" cy="934.1" r="8.07"/><circle cx="2008.8" cy="834.4" r="8.07"/><circle cx="2008.9" cy="911.6" r="8.07"/><circle cx="2009.1" cy="956.0" r="8.07"/><circle cx="1972.8" cy="861.3" r="8.07"/><circle cx="1977.8" cy="885.8" r="8.07"/><circle cx="2018.7" cy="907.0" r="8.07"/>
<circle cx="1963.1" cy="849.7" r="8.07"/><circle cx="1983.7" cy="795.3" r="8.07"/><circle cx="2000.6" cy="948.4" r="8.07"/><circle cx="1982.3" cy="871.7" r="8.07"/><circle cx="1980.6" cy="763.6" r="8.07"/><circle cx="1989.1" cy="802.2" r="8.07"/><circle cx="1963.9" cy="873.7" r="8.07"/><circle cx="2003.4" cy="838.2" r="8.07"/>
<circle cx="2007.9" cy="996.7" r="8.07"/><circle cx="1987.6" cy="869.1" r="8.07"/><circle cx="1988.3" cy="850.8" r="8.07"/><circle cx="1966.1" cy="890.4" r="8.07"/><circle cx="1999.1" cy="855.6" r="8.07"/><circle cx="1975.6" cy="825.6" r="8.07"/><circle cx="1969.4" cy="799.3" r="8.07"/><circle cx="1952.5" cy="892.3" r="8.07"/>
<circle cx="1976.7" cy="867.0" r="8.07"/><circle cx="2021.6" cy="878.4" r="8.07"/><circle cx="1996.1" cy="803.1" r="8.07"/><circle cx="1970.9" cy="897.8" r="8.07"/><circle cx="1978.5" cy="781.1" r="8.07"/><circle cx="1951.9" cy="858.0" r="8.07"/><circle cx="1964.4" cy="890.2" r="8.07"/><circle cx="1989.6" cy="856.4" r="8.07"/>
<circle cx="1982.4" cy="911.7" r="8.07"/><circle cx="1984.5" cy="814.9" r="8.07"/><circle cx="1990.8" cy="855.5" r="8.07"/><circle cx="1979.0" cy="897.6" r="8.07"/><circle cx="1990.6" cy="934.8" r="8.07"/><circle cx="1980.0" cy="839.2" r="8.07"/><circle cx="1976.8" cy="884.3" r="8.07"/><circle cx="1967.2" cy="832.3" r="8.07"/>
<circle cx="1966.4" cy="807.6" r="8.07"/><circle cx="1980.2" cy="1004.9" r="8.07"/><circle cx="1976.0" cy="876.7" r="8.07"/><circle cx="1985.8" cy="861.5" r="8.07"/><circle cx="1984.5" cy="982.7" r="8.07"/><circle cx="1978.6" cy="956.4" r="8.07"/><circle cx="1997.3" cy="833.0" r="8.07"/><circle cx="1970.6" cy="830.5" r="8.07"/>
<circle cx="1961.6" cy="913.8" r="8.07"/><circle cx="1992.4" cy="908.4" r="8.07"/><circle cx="1962.9" cy="876.0" r="8.07"/><circle cx="1982.1" cy="884.3" r="8.07"/><circle cx="1992.5" cy="851.1" r="8.07"/><circle cx="1976.0" cy="839.7" r="8.07"/><circle cx="2001.4" cy="845.4" r="8.07"/><circle cx="1980.7" cy="885.5" r="8.07"/>
<circle cx="1975.6" cy="783.9" r="8.07"/><circle cx="1959.6" cy="822.4" r="8.07"/><circle cx="1964.2" cy="905.4" r="8.07"/><circle cx="1984.2" cy="868.5" r="8.07"/><circle cx="1963.3" cy="879.4" r="8.07"/><circle cx="1976.6" cy="808.2" r="8.07"/><circle cx="1970.8" cy="992.3" r="8.07"/><circle cx="1971.4" cy="807.9" r="8.07"/>
<circle cx="2007.3" cy="934.2" r="8.07"/><circle cx="1978.0" cy="941.9" r="8.07"/><circle cx="1953.9" cy="812.8" r="8.07"/><circle cx="1950.3" cy="914.1" r="8.07"/><circle cx="1993.1" cy="904.9" r="8.07"/><circle cx="1960.6" cy="778.8" r="8.07"/><circle cx="1973.5" cy="909.3" r="8.07"/><circle cx="2000.4" cy="934.9" r="8.07"/>
<circle cx="1964.2" cy="872.2" r="8.07"/><circle cx="2005.5" cy="953.6" r="8.07"/><circle cx="1950.6" cy="836.8" r="8.07"/><circle cx="1966.6" cy="903.1" r="8.07"/><circle cx="1984.1" cy="796.3" r="8.07"/><circle cx="1984.2" cy="898.6" r="8.07"/><circle cx="1950.3" cy="754.2" r="8.07"/><circle cx="1968.0" cy="830.8" r="8.07"/>
<circle cx="1970.1" cy="745.5" r="8.07"/><circle cx="1949.5" cy="827.5" r="8.07"/><circle cx="1990.0" cy="818.4" r="8.07"/><circle cx="1985.0" cy="971.9" r="8.07"/><circle cx="1977.4" cy="832.1" r="8.07"/><circle cx="1967.4" cy="874.9" r="8.07"/><circle cx="1986.7" cy="881.7" r="8.07"/><circle cx="1974.5" cy="879.4" r="8.07"/>
<circle cx="1990.8" cy="864.0" r="8.07"/><circle cx="2006.2" cy="798.7" r="8.07"/><circle cx="1997.3" cy="872.1" r="8.07"/><circle cx="2000.0" cy="991.3" r="8.07"/><circle cx="1984.0" cy="856.3" r="8.07"/><circle cx="1982.7" cy="945.7" r="8.07"/><circle cx="2014.9" cy="907.8" r="8.07"/><circle cx="1996.7" cy="984.0" r="8.07"/>
<circle cx="1994.6" cy="793.2" r="8.07"/><circle cx="1966.9" cy="824.7" r="8.07"/><circle cx="1991.9" cy="844.9" r="8.07"/><circle cx="2012.5" cy="870.3" r="8.07"/><circle cx="2016.4" cy="863.9" r="8.07"/><circle cx="2011.9" cy="908.5" r="8.07"/><circle cx="2020.6" cy="966.9" r="8.07"/><circle cx="1969.1" cy="810.4" r="8.07"/>
<circle cx="2011.0" cy="957.6" r="8.07"/><circle cx="1971.1" cy="910.5" r="8.07"/><circle cx="1951.5" cy="806.1" r="8.07"/><circle cx="2010.7" cy="959.0" r="8.07"/><circle cx="1962.8" cy="847.9" r="8.07"/><circle cx="2008.5" cy="790.8" r="8.07"/><circle cx="2001.2" cy="800.3" r="8.07"/><circle cx="1998.3" cy="872.0" r="8.07"/>
<circle cx="2005.5" cy="863.8" r="8.07"/><circle cx="1977.6" cy="845.3" r="8.07"/><circle cx="1964.7" cy="836.3" r="8.07"/><circle cx="1963.2" cy="817.8" r="8.07"/><circle cx="1998.4" cy="865.7" r="8.07"/><circle cx="2006.5" cy="933.3" r="8.07"/><circle cx="2001.4" cy="821.0" r="8.07"/><circle cx="1992.7" cy="962.5" r="8.07"/>
<circle cx="2003.0" cy="960.1" r="8.07"/><circle cx="2015.8" cy="813.3" r="8.07"/><circle cx="1996.0" cy="913.9" r="8.07"/><circle cx="1980.0" cy="790.1" r="8.07"/><circle cx="1987.1" cy="864.0" r="8.07"/><circle cx="2024.8" cy="986.3" r="8.07"/><circle cx="1975.5" cy="800.7" r="8.07"/><circle cx="1966.4" cy="850.1" r="8.07"/>
<circle cx="1969.0" cy="970.7" r="8.07"/><circle cx="1959.2" cy="841.1" r="8.07"/><circle cx="1987.2" cy="897.9" r="8.07"/><circle cx="1964.9" cy="839.0" r="8.07"/><circle cx="1988.1" cy="894.0" r="8.07"/><circle cx="1972.2" cy="841.8" r="8.07"/><circle cx="1989.0" cy="987.4" r="8.07"/><circle cx="1959.4" cy="888.1" r="8.07"/>
<circle cx="2017.6" cy="823.4" r="8.07"/><circle cx="2014.9" cy="984.3" r="8.07"/><circle cx="1986.3" cy="931.0" r="8.07"/><circle cx="2016.0" cy="895.7" r="8.07"/><circle cx="1990.0" cy="817.4" r="8.07"/><circle cx="1971.0" cy="865.6" r="8.07"/><circle cx="1983.7" cy="967.9" r="8.07"/><circle cx="1981.1" cy="801.6" r="8.07"/>
<circle cx="2004.2" cy="948.2" r="8.07"/><circle cx="1994.1" cy="877.0" r="8.07"/><circle cx="1969.4" cy="823.4" r="8.07"/><circle cx="2017.6" cy="953.4" r="8.07"/><circle cx="1988.0" cy="903.6" r="8.07"/><circle cx="1978.7" cy="816.4" r="8.07"/><circle cx="1976.0" cy="864.2" r="8.07"/><circle cx="1951.5" cy="759.2" r="8.07"/>
<circle cx="1949.5" cy="814.1" r="8.07"/><circle cx="1998.0" cy="809.1" r="8.07"/><circle cx="1961.2" cy="756.8" r="8.07"/><circle cx="1975.0" cy="793.5" r="8.07"/><circle cx="1963.4" cy="786.8" r="8.07"/><circle cx="2031.1" cy="911.0" r="8.07"/><circle cx="1970.5" cy="830.8" r="8.07"/><circle cx="2002.2" cy="944.4" r="8.07"/>
<circle cx="1989.6" cy="761.5" r="8.07"/><circle cx="2004.6" cy="952.3" r="8.07"/><circle cx="2000.3" cy="913.7" r="8.07"/><circle cx="1985.7" cy="941.8" r="8.07"/><circle cx="1977.9" cy="925.1" r="8.07"/><circle cx="1974.2" cy="838.8" r="8.07"/><circle cx="1975.0" cy="829.6" r="8.07"/><circle cx="1974.0" cy="904.8" r="8.07"/>
<circle cx="2016.7" cy="861.5" r="8.07"/><circle cx="1962.5" cy="922.2" r="8.07"/><circle cx="1977.2" cy="880.0" r="8.07"/><circle cx="1987.3" cy="926.5" r="8.07"/><circle cx="1965.8" cy="919.1" r="8.07"/><circle cx="2000.8" cy="759.1" r="8.07"/><circle cx="1980.8" cy="845.0" r="8.07"/><circle cx="1992.0" cy="874.4" r="8.07"/>
<circle cx="1968.4" cy="834.8" r="8.07"/><circle cx="1991.3" cy="879.5" r="8.07"/><circle cx="1980.8" cy="995.6" r="8.07"/><circle cx="1995.0" cy="816.0" r="8.07"/><circle cx="1986.5" cy="891.3" r="8.07"/><circle cx="1963.4" cy="856.6" r="8.07"/><circle cx="1966.5" cy="724.0" r="8.07"/><circle cx="1991.2" cy="913.5" r="8.07"/>
<circle cx="1996.9" cy="874.1" r="8.07"/><circle cx="1971.7" cy="871.8" r="8.07"/><circle cx="1992.9" cy="932.1" r="8.07"/><circle cx="2011.9" cy="944.4" r="8.07"/><circle cx="1972.1" cy="855.7" r="8.07"/><circle cx="1955.0" cy="883.8" r="8.07"/><circle cx="1996.3" cy="951.6" r="8.07"/><circle cx="1994.4" cy="971.9" r="8.07"/>
<circle cx="1969.9" cy="876.3" r="8.07"/><circle cx="1979.2" cy="853.4" r="8.07"/><circle cx="1947.5" cy="791.9" r="8.07"/><circle cx="1942.8" cy="810.9" r="8.07"/><circle cx="1969.5" cy="863.4" r="8.07"/><circle cx="1946.0" cy="802.2" r="8.07"/><circle cx="1978.4" cy="730.0" r="8.07"/><circle cx="2017.5" cy="928.8" r="8.07"/>
<circle cx="1967.5" cy="961.0" r="8.07"/><circle cx="1977.0" cy="824.8" r="8.07"/><circle cx="1984.1" cy="812.6" r="8.07"/><circle cx="1977.7" cy="865.9" r="8.07"/><circle cx="2012.3" cy="902.3" r="8.07"/><circle cx="2007.1" cy="982.2" r="8.07"/><circle cx="1989.3" cy="896.1" r="8.07"/><circle cx="1991.9" cy="851.7" r="8.07"/>
<circle cx="2030.9" cy="940.6" r="8.07"/><circle cx="1995.4" cy="936.0" r="8.07"/><circle cx="2014.7" cy="820.6" r="8.07"/><circle cx="1962.6" cy="857.1" r="8.07"/><circle cx="1994.8" cy="810.0" r="8.07"/><circle cx="1955.3" cy="886.4" r="8.07"/><circle cx="1998.9" cy="867.2" r="8.07"/><circle cx="1977.7" cy="825.9" r="8.07"/>
<circle cx="1959.0" cy="793.1" r="8.07"/><circle cx="1986.8" cy="859.8" r="8.07"/><circle cx="2003.3" cy="809.4" r="8.07"/><circle cx="1947.5" cy="864.4" r="8.07"/><circle cx="1963.2" cy="827.9" r="8.07"/><circle cx="1983.3" cy="792.1" r="8.07"/><circle cx="1950.5" cy="848.6" r="8.07"/><circle cx="1945.1" cy="873.8" r="8.07"/>
<circle cx="1988.6" cy="882.9" r="8.07"/><circle cx="1992.4" cy="881.1" r="8.07"/><circle cx="1953.5" cy="883.2" r="8.07"/><circle cx="1984.9" cy="892.9" r="8.07"/><circle cx="1979.5" cy="845.7" r="8.07"/><circle cx="2001.5" cy="937.0" r="8.07"/><circle cx="1987.2" cy="798.6" r="8.07"/><circle cx="1962.9" cy="786.5" r="8.07"/>
<circle cx="2005.9" cy="917.1" r="8.07"/><circle cx="1984.3" cy="859.0" r="8.07"/><circle cx="1967.8" cy="899.4" r="8.07"/><circle cx="1961.6" cy="797.2" r="8.07"/><circle cx="2001.1" cy="922.2" r="8.07"/><circle cx="1982.3" cy="794.2" r="8.07"/><circle cx="1957.5" cy="893.2" r="8.07"/><circle cx="1991.8" cy="964.3" r="8.07"/>
<circle cx="1974.4" cy="856.6" r="8.07"/><circle cx="1964.6" cy="948.1" r="8.07"/><circle cx="1949.2" cy="873.1" r="8.07"/><circle cx="2018.1" cy="848.8" r="8.07"/><circle cx="1954.4" cy="783.5" r="8.07"/><circle cx="1954.7" cy="862.7" r="8.07"/><circle cx="1951.0" cy="799.4" r="8.07"/><circle cx="1945.9" cy="960.6" r="8.07"/>
<circle cx="1946.7" cy="830.9" r="8.07"/><circle cx="1940.8" cy="953.7" r="8.07"/><circle cx="1954.2" cy="732.9" r="8.07"/><circle cx="1935.4" cy="869.1" r="8.07"/><circle cx="1908.3" cy="930.2" r="8.07"/><circle cx="1986.5" cy="942.5" r="8.07"/><circle cx="1932.8" cy="846.4" r="8.07"/><circle cx="1967.4" cy="937.9" r="8.07"/>
<circle cx="1933.3" cy="765.1" r="8.07"/><circle cx="1943.3" cy="867.0" r="8.07"/><circle cx="1976.9" cy="887.2" r="8.07"/><circle cx="1951.4" cy="979.2" r="8.07"/><circle cx="1922.3" cy="882.3" r="8.07"/><circle cx="1938.5" cy="785.0" r="8.07"/><circle cx="1918.4" cy="804.6" r="8.07"/><circle cx="1952.4" cy="860.9" r="8.07"/>
<circle cx="1982.9" cy="862.6" r="8.07"/><circle cx="1960.9" cy="752.6" r="8.07"/><circle cx="1934.3" cy="834.3" r="8.07"/><circle cx="1976.0" cy="883.5" r="8.07"/><circle cx="1958.0" cy="863.5" r="8.07"/><circle cx="1919.8" cy="836.3" r="8.07"/><circle cx="1936.9" cy="853.3" r="8.07"/><circle cx="1954.0" cy="868.8" r="8.07"/>
<circle cx="1916.4" cy="826.4" r="8.07"/><circle cx="1945.8" cy="803.5" r="8.07"/><circle cx="1978.8" cy="879.8" r="8.07"/><circle cx="1903.8" cy="788.9" r="8.07"/><circle cx="1953.3" cy="806.5" r="8.07"/><circle cx="1949.6" cy="826.5" r="8.07"/><circle cx="1945.2" cy="852.8" r="8.07"/><circle cx="1947.3" cy="778.4" r="8.07"/>
<circle cx="1934.1" cy="994.4" r="8.07"/><circle cx="1920.2" cy="807.4" r="8.07"/><circle cx="1916.8" cy="811.8" r="8.07"/><circle cx="1957.5" cy="943.7" r="8.07"/><circle cx="1956.8" cy="859.8" r="8.07"/><circle cx="1960.7" cy="901.9" r="8.07"/><circle cx="1950.0" cy="853.1" r="8.07"/><circle cx="1984.3" cy="832.7" r="8.07"/>
<circle cx="1948.8" cy="790.0" r="8.07"/><circle cx="1937.0" cy="946.7" r="8.07"/><circle cx="1931.8" cy="875.1" r="8.07"/><circle cx="1946.5" cy="797.7" r="8.07"/><circle cx="1925.7" cy="900.4" r="8.07"/><circle cx="1969.5" cy="779.6" r="8.07"/><circle cx="1967.4" cy="823.3" r="8.07"/><circle cx="1969.1" cy="842.6" r="8.07"/>
<circle cx="1983.2" cy="921.1" r="8.07"/><circle cx="1945.4" cy="909.4" r="8.07"/><circle cx="1930.3" cy="898.3" r="8.07"/><circle cx="1957.9" cy="751.6" r="8.07"/><circle cx="1966.1" cy="868.5" r="8.07"/><circle cx="1942.3" cy="846.9" r="8.07"/><circle cx="1973.8" cy="799.3" r="8.07"/><circle cx="1923.5" cy="887.7" r="8.07"/>
<circle cx="1957.5" cy="744.8" r="8.07"/><circle cx="1955.6" cy="744.8" r="8.07"/><circle cx="1971.0" cy="893.3" r="8.07"/><circle cx="1965.1" cy="763.0" r="8.07"/><circle cx="1930.2" cy="899.2" r="8.07"/><circle cx="1913.3" cy="861.3" r="8.07"/><circle cx="1945.2" cy="860.7" r="8.07"/><circle cx="1928.5" cy="878.3" r="8.07"/>
<circle cx="1961.6" cy="922.5" r="8.07"/><circle cx="1953.2" cy="785.6" r="8.07"/><circle cx="1972.7" cy="796.4" r="8.07"/><circle cx="1945.1" cy="894.8" r="8.07"/><circle cx="1965.1" cy="851.0" r="8.07"/><circle cx="1976.8" cy="888.2" r="8.07"/><circle cx="1981.4" cy="868.3" r="8.07"/><circle cx="1970.7" cy="844.3" r="8.07"/>
<circle cx="1987.9" cy="891.1" r="8.07"/><circle cx="1955.1" cy="825.6" r="8.07"/><circle cx="1981.0" cy="897.0" r="8.07"/><circle cx="1947.6" cy="950.4" r="8.07"/><circle cx="1933.0" cy="915.3" r="8.07"/><circle cx="1977.8" cy="920.3" r="8.07"/><circle cx="1958.7" cy="891.5" r="8.07"/><circle cx="1920.1" cy="870.1" r="8.07"/>
<circle cx="1959.1" cy="764.4" r="8.07"/><circle cx="1947.7" cy="774.2" r="8.07"/><circle cx="1955.3" cy="802.0" r="8.07"/><circle cx="1955.6" cy="764.8" r="8.07"/><circle cx="1937.9" cy="820.1" r="8.07"/><circle cx="1946.6" cy="933.2" r="8.07"/><circle cx="1974.9" cy="859.0" r="8.07"/><circle cx="1944.6" cy="832.7" r="8.07"/>
<circle cx="1948.3" cy="850.9" r="8.07"/><circle cx="1975.0" cy="966.2" r="8.07"/><circle cx="1962.4" cy="872.3" r="8.07"/><circle cx="1968.3" cy="901.8" r="8.07"/><circle cx="1915.6" cy="813.1" r="8.07"/><circle cx="1960.7" cy="851.6" r="8.07"/><circle cx="1931.1" cy="795.3" r="8.07"/><circle cx="1915.3" cy="785.6" r="8.07"/>
<circle cx="1944.5" cy="875.5" r="8.07"/><circle cx="1925.7" cy="720.3" r="8.07"/><circle cx="1960.9" cy="991.5" r="8.07"/><circle cx="1954.0" cy="863.3" r="8.07"/><circle cx="1923.5" cy="845.0" r="8.07"/><circle cx="1977.0" cy="741.3" r="8.07"/><circle cx="1989.8" cy="940.2" r="8.07"/><circle cx="1942.2" cy="866.3" r="8.07"/>
<circle cx="1982.3" cy="920.2" r="8.07"/><circle cx="1951.3" cy="954.2" r="8.07"/><circle cx="1907.7" cy="813.7" r="8.07"/><circle cx="1919.7" cy="828.1" r="8.07"/><circle cx="1965.7" cy="759.9" r="8.07"/><circle cx="1959.0" cy="882.3" r="8.07"/><circle cx="1935.9" cy="839.2" r="8.07"/><circle cx="1980.5" cy="901.7" r="8.07"/>
<circle cx="1918.3" cy="911.3" r="8.07"/><circle cx="1916.0" cy="911.0" r="8.07"/><circle cx="1951.2" cy="902.5" r="8.07"/><circle cx="1942.6" cy="920.8" r="8.07"/><circle cx="1987.2" cy="968.4" r="8.07"/><circle cx="1965.1" cy="780.3" r="8.07"/><circle cx="1711.9" cy="325.1" r="8.07"/><circle cx="1795.0" cy="388.4" r="8.07"/>
<circle cx="1802.9" cy="441.4" r="8.07"/><circle cx="1824.2" cy="443.4" r="8.07"/><circle cx="1760.2" cy="477.4" r="8.07"/><circle cx="1805.2" cy="487.7" r="8.07"/><circle cx="1800.9" cy="505.5" r="8.07"/><circle cx="1923.9" cy="507.4" r="8.07"/><circle cx="1847.2" cy="532.3" r="8.07"/><circle cx="1903.3" cy="571.9" r="8.07"/>
<circle cx="1883.1" cy="588.9" r="8.07"/><circle cx="1900.5" cy="583.4" r="8.07"/><circle cx="1918.3" cy="600.8" r="8.07"/><circle cx="1802.9" cy="592.9" r="8.07"/><circle cx="1894.2" cy="610.6" r="8.07"/><circle cx="1872.5" cy="613.8" r="8.07"/><circle cx="1970.1" cy="609.1" r="8.07"/><circle cx="1882.0" cy="630.4" r="8.07"/>
<circle cx="1781.1" cy="628.4" r="8.07"/><circle cx="1825.8" cy="631.2" r="8.07"/><circle cx="1742.4" cy="641.1" r="8.07"/><circle cx="1940.5" cy="639.5" r="8.07"/><circle cx="1957.9" cy="645.4" r="8.07"/><circle cx="1997.4" cy="653.0" r="8.07"/><circle cx="1908.1" cy="652.2" r="8.07"/><circle cx="1896.6" cy="661.3" r="8.07"/>
<circle cx="1886.7" cy="667.2" r="8.07"/><circle cx="1978.4" cy="666.0" r="8.07"/><circle cx="1961.8" cy="670.4" r="8.07"/><circle cx="1941.3" cy="668.4" r="8.07"/><circle cx="1914.4" cy="672.3" r="8.07"/><circle cx="1896.6" cy="678.3" r="8.07"/><circle cx="1926.2" cy="682.2" r="8.07"/><circle cx="1969.7" cy="683.0" r="8.07"/>
<circle cx="1802.1" cy="675.9" r="8.07"/><circle cx="1787.8" cy="689.7" r="8.07"/><circle cx="1948.0" cy="691.3" r="8.07"/><circle cx="1969.7" cy="692.9" r="8.07"/><circle cx="1726.9" cy="709.9" r="8.07"/><circle cx="1770.8" cy="709.9" r="8.07"/><circle cx="1797.7" cy="711.9" r="8.07"/><circle cx="1820.7" cy="720.6" r="8.07"/>
<circle cx="1849.1" cy="704.0" r="8.07"/><circle cx="1853.1" cy="709.5" r="8.07"/><circle cx="1866.1" cy="701.2" r="8.07"/><circle cx="1882.3" cy="707.1" r="8.07"/><circle cx="1883.9" cy="726.1" r="8.07"/><circle cx="2014.0" cy="724.9" r="8.07"/><circle cx="1989.5" cy="712.7" r="8.07"/><circle cx="1971.7" cy="710.7" r="8.07"/>
<circle cx="1961.8" cy="711.9" r="8.07"/><circle cx="1932.2" cy="710.7" r="8.07"/><circle cx="1942.1" cy="712.7" r="8.07"/><circle cx="1673.2" cy="742.3" r="8.07"/><circle cx="1860.2" cy="762.5" r="8.07"/><circle cx="1876.0" cy="764.9" r="8.07"/><circle cx="1854.3" cy="777.9" r="8.07"/><circle cx="1866.1" cy="784.2" r="8.07"/>
<circle cx="1825.8" cy="789.8" r="8.07"/><circle cx="1835.3" cy="807.6" r="8.07"/><circle cx="1843.2" cy="810.0" r="8.07"/><circle cx="1775.2" cy="828.5" r="8.07"/><circle cx="1819.1" cy="836.0" r="8.07"/><circle cx="1880.8" cy="833.3" r="8.07"/><circle cx="1890.7" cy="829.3" r="8.07"/><circle cx="1866.9" cy="841.2" r="8.07"/>
<circle cx="1891.8" cy="852.3" r="8.07"/><circle cx="1783.9" cy="866.9" r="8.07"/><circle cx="1766.1" cy="874.4" r="8.07"/><circle cx="1847.2" cy="894.6" r="8.07"/><circle cx="1888.7" cy="913.2" r="8.07"/><circle cx="1895.8" cy="930.2" r="8.07"/><circle cx="1831.3" cy="950.2" r="8.07"/><circle cx="1897.8" cy="950.2" r="8.07"/>
<circle cx="2046.1" cy="942.3" r="8.07"/><circle cx="1903.3" cy="972.4" r="8.07"/><circle cx="1924.3" cy="953.4" r="8.07"/><circle cx="1914.4" cy="963.3" r="8.07"/><circle cx="1934.2" cy="975.1" r="8.07"/><circle cx="1946.0" cy="991.7" r="8.07"/><circle cx="1953.9" cy="1004.8" r="8.07"/><circle cx="2023.1" cy="950.2" r="8.07"/>
<circle cx="2013.2" cy="1002.8" r="8.07"/><circle cx="2019.2" cy="1018.6" r="8.07"/><circle cx="2003.4" cy="1010.7" r="8.07"/><circle cx="1985.6" cy="1022.6" r="8.07"/><circle cx="1989.5" cy="1004.8" r="8.07"/><circle cx="1879.2" cy="1017.8" r="8.07"/><circle cx="1966.6" cy="1034.5" r="8.07"/><circle cx="1994.3" cy="1047.1" r="8.07"/>
<circle cx="1995.0" cy="1061.3" r="8.07"/><circle cx="1955.1" cy="1069.3" r="8.07"/><circle cx="1950.8" cy="1075.2" r="8.07"/><circle cx="1882.7" cy="1080.3" r="8.07"/><circle cx="1987.5" cy="1087.0" r="8.07"/><circle cx="1996.6" cy="1083.1" r="8.07"/><circle cx="2011.3" cy="1088.2" r="8.07"/>
</g>
<g fill="#9467bd" stroke="#9467bd" stroke-width="4.17" fill-opacity=".6" stroke-opacity=".6">
<circle cx="1237.5" cy="1189.2" r="8.07"/><circle cx="1335.3" cy="1202.7" r="8.07"/><circle cx="1300.6" cy="1188.3" r="8.07"/><circle cx="1431.9" cy="1226.4" r="8.07"/><circle cx="1310.5" cy="1154.0" r="8.07"/><circle cx="1342.6" cy="1101.7" r="8.07"/><circle cx="1223.9" cy="1332.8" r="8.07"/><circle cx="1397.5" cy="1236.8" r="8.07"/>
<circle cx="1424.9" cy="1332.7" r="8.07"/><circle cx="1241.3" cy="1198.3" r="8.07"/><circle cx="1379.6" cy="1217.8" r="8.07"/><circle cx="1256.4" cy="1115.3" r="8.07"/><circle cx="1263.5" cy="1241.8" r="8.07"/><circle cx="1315.5" cy="1198.0" r="8.07"/><circle cx="1265.1" cy="1171.9" r="8.07"/><circle cx="1362.5" cy="1172.9" r="8.07"/>
<circle cx="1390.1" cy="1249.4" r="8.07"/><circle cx="1304.5" cy="1290.0" r="8.07"/><circle cx="1288.9" cy="1208.0" r="8.07"/><circle cx="1354.2" cy="1353.2" r="8.07"/><circle cx="1436.9" cy="1243.7" r="8.07"/><circle cx="1464.7" cy="1201.4" r="8.07"/><circle cx="1350.6" cy="1222.5" r="8.07"/><circle cx="1314.4" cy="1303.6" r="8.07"/>
<circle cx="1255.2" cy="1214.8" r="8.07"/><circle cx="1322.8" cy="1290.7" r="8.07"/><circle cx="1294.5" cy="1224.0" r="8.07"/><circle cx="1355.6" cy="1161.1" r="8.07"/><circle cx="1293.4" cy="1367.3" r="8.07"/><circle cx="1240.6" cy="1285.0" r="8.07"/><circle cx="1351.6" cy="1186.3" r="8.07"/><circle cx="1221.9" cy="1278.1" r="8.07"/>
<circle cx="1291.0" cy="1231.8" r="8.07"/><circle cx="1305.2" cy="1180.8" r="8.07"/><circle cx="1425.2" cy="1307.7" r="8.07"/><circle cx="1268.6" cy="1191.4" r="8.07"/><circle cx="1152.7" cy="1264.5" r="8.07"/><circle cx="1164.5" cy="1308.0" r="8.07"/><circle cx="1030.6" cy="1377.1" r="8.07"/><circle cx="1121.9" cy="1349.6" r="8.07"/>
<circle cx="1241.9" cy="1324.3" r="8.07"/><circle cx="1061.4" cy="1256.0" r="8.07"/><circle cx="1191.0" cy="1200.1" r="8.07"/><circle cx="1144.3" cy="1332.0" r="8.07"/><circle cx="1056.7" cy="1317.2" r="8.07"/><circle cx="1162.5" cy="1249.4" r="8.07"/><circle cx="1098.2" cy="1344.2" r="8.07"/><circle cx="1047.5" cy="1241.6" r="8.07"/>
<circle cx="1187.1" cy="1311.2" r="8.07"/><circle cx="1040.2" cy="1305.8" r="8.07"/><circle cx="1248.4" cy="1196.1" r="8.07"/><circle cx="1178.6" cy="1359.6" r="8.07"/><circle cx="1117.0" cy="1348.6" r="8.07"/><circle cx="1086.2" cy="1416.2" r="8.07"/><circle cx="1234.7" cy="1241.6" r="8.07"/><circle cx="1114.8" cy="1314.5" r="8.07"/>
<circle cx="1089.2" cy="1330.4" r="8.07"/><circle cx="1063.7" cy="1346.6" r="8.07"/><circle cx="1109.4" cy="1301.5" r="8.07"/><circle cx="1157.2" cy="1371.7" r="8.07"/><circle cx="1067.0" cy="1361.8" r="8.07"/><circle cx="1182.5" cy="1296.7" r="8.07"/><circle cx="1223.3" cy="1249.9" r="8.07"/><circle cx="1094.2" cy="1332.5" r="8.07"/>
<circle cx="1085.8" cy="1405.3" r="8.07"/><circle cx="1140.3" cy="1428.8" r="8.07"/><circle cx="1062.6" cy="1236.6" r="8.07"/><circle cx="1210.8" cy="1229.5" r="8.07"/><circle cx="1194.7" cy="1246.9" r="8.07"/><circle cx="1144.4" cy="1388.9" r="8.07"/><circle cx="1124.3" cy="1222.4" r="8.07"/><circle cx="1097.8" cy="1387.0" r="8.07"/>
<circle cx="1140.1" cy="1356.0" r="8.07"/><circle cx="1133.5" cy="1325.8" r="8.07"/><circle cx="1116.4" cy="1232.1" r="8.07"/><circle cx="1161.9" cy="1318.4" r="8.07"/><circle cx="1005.4" cy="1305.7" r="8.07"/><circle cx="1188.5" cy="1444.4" r="8.07"/><circle cx="1044.2" cy="1313.4" r="8.07"/><circle cx="1162.8" cy="1359.8" r="8.07"/>
<circle cx="1085.0" cy="1342.1" r="8.07"/><circle cx="1102.4" cy="1302.0" r="8.07"/><circle cx="1095.2" cy="1327.4" r="8.07"/><circle cx="1104.1" cy="1327.0" r="8.07"/><circle cx="1123.0" cy="1371.2" r="8.07"/><circle cx="1232.5" cy="1299.6" r="8.07"/><circle cx="1082.7" cy="1288.7" r="8.07"/><circle cx="1095.1" cy="1185.8" r="8.07"/>
<circle cx="1129.7" cy="1269.9" r="8.07"/><circle cx="1184.1" cy="1296.0" r="8.07"/><circle cx="1185.7" cy="1360.5" r="8.07"/><circle cx="1097.3" cy="1281.5" r="8.07"/><circle cx="1095.6" cy="1272.5" r="8.07"/><circle cx="1179.0" cy="1267.7" r="8.07"/><circle cx="1102.0" cy="1247.0" r="8.07"/><circle cx="1214.7" cy="1278.9" r="8.07"/>
<circle cx="1118.2" cy="1242.3" r="8.07"/><circle cx="1141.9" cy="1247.9" r="8.07"/><circle cx="1085.9" cy="1157.4" r="8.07"/><circle cx="1025.2" cy="1317.3" r="8.07"/><circle cx="1173.9" cy="1183.8" r="8.07"/><circle cx="1136.8" cy="1316.9" r="8.07"/><circle cx="1315.4" cy="1232.0" r="8.07"/><circle cx="1085.1" cy="1227.7" r="8.07"/>
<circle cx="1177.6" cy="1378.5" r="8.07"/><circle cx="1109.8" cy="1412.5" r="8.07"/><circle cx="1256.9" cy="1269.9" r="8.07"/><circle cx="1160.8" cy="1289.6" r="8.07"/><circle cx="1087.5" cy="1270.3" r="8.07"/><circle cx="1112.2" cy="1211.3" r="8.07"/><circle cx="1121.7" cy="1361.5" r="8.07"/><circle cx="1068.8" cy="1266.5" r="8.07"/>
<circle cx="1070.9" cy="1331.5" r="8.07"/><circle cx="1120.9" cy="1371.2" r="8.07"/><circle cx="1107.9" cy="1198.6" r="8.07"/><circle cx="1162.4" cy="1282.9" r="8.07"/><circle cx="1198.3" cy="1356.1" r="8.07"/><circle cx="964.6" cy="1162.4" r="8.07"/><circle cx="1129.4" cy="1250.2" r="8.07"/><circle cx="988.5" cy="1265.8" r="8.07"/>
<circle cx="1207.4" cy="1350.1" r="8.07"/><circle cx="1072.5" cy="1324.9" r="8.07"/><circle cx="1190.3" cy="1291.0" r="8.07"/><circle cx="1237.4" cy="1253.3" r="8.07"/><circle cx="1258.0" cy="1414.8" r="8.07"/><circle cx="1159.7" cy="1320.7" r="8.07"/><circle cx="1129.6" cy="1237.2" r="8.07"/><circle cx="1188.4" cy="1396.2" r="8.07"/>
<circle cx="1176.3" cy="1324.9" r="8.07"/><circle cx="1134.3" cy="1237.5" r="8.07"/><circle cx="1087.0" cy="1200.6" r="8.07"/><circle cx="1157.6" cy="1239.7" r="8.07"/><circle cx="1179.6" cy="1256.9" r="8.07"/><circle cx="1215.8" cy="1417.6" r="8.07"/><circle cx="1222.7" cy="1387.0" r="8.07"/><circle cx="1108.8" cy="1282.0" r="8.07"/>
<circle cx="1082.0" cy="1328.3" r="8.07"/><circle cx="1231.6" cy="1226.2" r="8.07"/><circle cx="1277.9" cy="1263.7" r="8.07"/><circle cx="1055.2" cy="1329.0" r="8.07"/><circle cx="1194.4" cy="1278.8" r="8.07"/><circle cx="1064.3" cy="1430.8" r="8.07"/><circle cx="1059.4" cy="1376.2" r="8.07"/><circle cx="1137.0" cy="1277.7" r="8.07"/>
<circle cx="1130.6" cy="1226.3" r="8.07"/><circle cx="1058.7" cy="1326.7" r="8.07"/><circle cx="1063.3" cy="1249.2" r="8.07"/><circle cx="1217.5" cy="1434.1" r="8.07"/><circle cx="1196.4" cy="1369.1" r="8.07"/><circle cx="1112.1" cy="1311.2" r="8.07"/><circle cx="1081.9" cy="1102.5" r="8.07"/><circle cx="1139.9" cy="1320.6" r="8.07"/>
<circle cx="1188.9" cy="1218.3" r="8.07"/><circle cx="1198.8" cy="1265.7" r="8.07"/><circle cx="1050.7" cy="1285.8" r="8.07"/><circle cx="1185.0" cy="1303.4" r="8.07"/><circle cx="1154.7" cy="1240.7" r="8.07"/><circle cx="1156.8" cy="1374.9" r="8.07"/><circle cx="1072.4" cy="1334.3" r="8.07"/><circle cx="1043.8" cy="1320.5" r="8.07"/>
<circle cx="1034.4" cy="1333.2" r="8.07"/><circle cx="1126.8" cy="1223.3" r="8.07"/><circle cx="1149.5" cy="1233.1" r="8.07"/><circle cx="1132.5" cy="1238.4" r="8.07"/><circle cx="1160.5" cy="1263.9" r="8.07"/><circle cx="1216.1" cy="1337.0" r="8.07"/><circle cx="1160.7" cy="1208.7" r="8.07"/><circle cx="998.4" cy="1247.2" r="8.07"/>
<circle cx="1239.9" cy="1237.0" r="8.07"/><circle cx="1203.5" cy="1395.2" r="8.07"/><circle cx="1091.7" cy="1289.6" r="8.07"/><circle cx="1208.9" cy="1286.5" r="8.07"/><circle cx="1102.7" cy="1263.5" r="8.07"/><circle cx="1132.4" cy="1297.0" r="8.07"/><circle cx="1204.5" cy="1322.0" r="8.07"/><circle cx="1201.1" cy="1297.3" r="8.07"/>
<circle cx="1283.1" cy="1296.7" r="8.07"/><circle cx="1119.0" cy="1247.7" r="8.07"/><circle cx="1023.5" cy="1242.8" r="8.07"/><circle cx="1141.3" cy="1233.9" r="8.07"/><circle cx="1179.5" cy="1188.1" r="8.07"/><circle cx="1024.6" cy="1327.1" r="8.07"/><circle cx="1151.8" cy="1224.1" r="8.07"/><circle cx="1195.2" cy="1404.8" r="8.07"/>
<circle cx="1150.7" cy="1213.1" r="8.07"/><circle cx="1205.4" cy="1284.9" r="8.07"/><circle cx="1117.6" cy="1340.3" r="8.07"/><circle cx="1085.5" cy="1414.1" r="8.07"/><circle cx="1090.1" cy="1382.2" r="8.07"/><circle cx="1176.4" cy="1432.9" r="8.07"/><circle cx="1159.9" cy="1367.9" r="8.07"/><circle cx="1104.8" cy="1289.5" r="8.07"/>
<circle cx="1091.7" cy="1360.6" r="8.07"/><circle cx="1089.2" cy="1415.2" r="8.07"/><circle cx="1122.9" cy="1222.1" r="8.07"/><circle cx="1088.8" cy="1390.6" r="8.07"/><circle cx="1100.4" cy="1350.0" r="8.07"/><circle cx="1033.1" cy="1340.1" r="8.07"/><circle cx="1178.3" cy="1344.6" r="8.07"/><circle cx="1179.5" cy="1238.2" r="8.07"/>
<circle cx="1029.4" cy="1215.2" r="8.07"/><circle cx="1183.4" cy="1338.2" r="8.07"/><circle cx="1181.5" cy="1269.7" r="8.07"/><circle cx="1181.8" cy="1199.6" r="8.07"/><circle cx="1157.8" cy="1236.1" r="8.07"/><circle cx="1106.3" cy="1357.6" r="8.07"/><circle cx="1186.9" cy="1299.7" r="8.07"/><circle cx="1111.4" cy="1407.9" r="8.07"/>
<circle cx="1197.5" cy="1263.3" r="8.07"/><circle cx="1151.9" cy="1297.0" r="8.07"/><circle cx="1193.8" cy="1345.0" r="8.07"/><circle cx="1161.2" cy="1319.5" r="8.07"/><circle cx="1101.7" cy="1391.5" r="8.07"/><circle cx="1160.3" cy="1147.9" r="8.07"/><circle cx="1111.7" cy="1332.3" r="8.07"/><circle cx="1089.6" cy="1247.4" r="8.07"/>
<circle cx="1096.0" cy="1338.1" r="8.07"/><circle cx="1076.4" cy="1339.2" r="8.07"/><circle cx="1218.5" cy="1380.8" r="8.07"/><circle cx="1195.6" cy="1298.0" r="8.07"/><circle cx="1207.9" cy="1314.7" r="8.07"/><circle cx="1189.4" cy="1232.4" r="8.07"/><circle cx="1212.0" cy="1271.6" r="8.07"/><circle cx="1136.9" cy="1388.4" r="8.07"/>
<circle cx="1134.9" cy="1279.2" r="8.07"/><circle cx="1124.7" cy="1390.8" r="8.07"/><circle cx="1202.8" cy="1359.9" r="8.07"/><circle cx="1095.6" cy="1283.1" r="8.07"/><circle cx="1174.4" cy="1365.1" r="8.07"/><circle cx="1089.9" cy="1261.6" r="8.07"/><circle cx="1176.4" cy="1389.3" r="8.07"/><circle cx="1138.5" cy="1226.3" r="8.07"/>
<circle cx="1231.1" cy="1313.8" r="8.07"/><circle cx="1161.7" cy="1157.1" r="8.07"/><circle cx="1088.1" cy="1296.4" r="8.07"/><circle cx="1151.1" cy="1245.7" r="8.07"/><circle cx="1036.7" cy="1190.6" r="8.07"/><circle cx="1106.7" cy="1328.0" r="8.07"/><circle cx="1145.0" cy="1183.3" r="8.07"/><circle cx="1085.4" cy="1298.8" r="8.07"/>
<circle cx="1189.4" cy="1344.9" r="8.07"/><circle cx="1144.0" cy="1185.3" r="8.07"/><circle cx="1194.5" cy="1298.3" r="8.07"/><circle cx="1140.9" cy="1256.7" r="8.07"/><circle cx="1115.0" cy="1280.2" r="8.07"/><circle cx="1102.5" cy="1241.3" r="8.07"/><circle cx="1168.7" cy="1368.5" r="8.07"/><circle cx="1094.4" cy="1245.1" r="8.07"/>
<circle cx="1077.0" cy="1282.6" r="8.07"/><circle cx="1214.3" cy="1294.5" r="8.07"/><circle cx="1239.0" cy="1214.3" r="8.07"/><circle cx="1060.6" cy="1248.4" r="8.07"/><circle cx="1074.6" cy="1327.3" r="8.07"/><circle cx="1233.7" cy="1252.0" r="8.07"/><circle cx="1148.3" cy="1398.6" r="8.07"/><circle cx="1274.3" cy="1319.5" r="8.07"/>
<circle cx="1188.0" cy="1399.0" r="8.07"/><circle cx="1134.0" cy="1345.5" r="8.07"/><circle cx="1106.7" cy="1242.5" r="8.07"/><circle cx="1092.1" cy="1387.5" r="8.07"/><circle cx="1210.5" cy="1323.5" r="8.07"/><circle cx="1054.0" cy="1393.4" r="8.07"/><circle cx="1128.9" cy="1412.5" r="8.07"/><circle cx="1135.3" cy="1224.6" r="8.07"/>
<circle cx="1111.9" cy="1259.2" r="8.07"/><circle cx="1226.6" cy="1145.4" r="8.07"/><circle cx="1093.3" cy="1284.5" r="8.07"/><circle cx="1004.6" cy="1337.1" r="8.07"/><circle cx="1167.2" cy="1367.2" r="8.07"/><circle cx="1180.6" cy="1300.0" r="8.07"/><circle cx="1187.3" cy="1275.3" r="8.07"/><circle cx="1131.6" cy="1322.6" r="8.07"/>
<circle cx="1134.2" cy="1343.4" r="8.07"/><circle cx="1089.6" cy="1298.3" r="8.07"/><circle cx="1093.7" cy="1311.8" r="8.07"/><circle cx="1148.7" cy="1253.6" r="8.07"/><circle cx="1218.3" cy="1444.9" r="8.07"/><circle cx="1164.1" cy="1314.2" r="8.07"/><circle cx="1092.0" cy="1295.5" r="8.07"/><circle cx="1117.1" cy="1356.9" r="8.07"/>
<circle cx="1130.1" cy="1357.9" r="8.07"/><circle cx="1165.2" cy="1273.9" r="8.07"/><circle cx="1049.6" cy="1224.5" r="8.07"/><circle cx="1065.7" cy="1306.4" r="8.07"/><circle cx="1203.0" cy="1242.8" r="8.07"/><circle cx="1170.7" cy="1296.1" r="8.07"/><circle cx="1208.2" cy="1468.1" r="8.07"/><circle cx="1196.3" cy="1333.0" r="8.07"/>
<circle cx="1162.4" cy="1402.3" r="8.07"/><circle cx="1114.1" cy="1254.5" r="8.07"/><circle cx="1142.5" cy="1423.9" r="8.07"/><circle cx="1089.1" cy="1389.0" r="8.07"/><circle cx="1185.9" cy="1294.2" r="8.07"/><circle cx="1083.9" cy="1193.8" r="8.07"/><circle cx="1061.1" cy="1321.2" r="8.07"/><circle cx="1176.7" cy="1264.3" r="8.07"/>
<circle cx="1096.4" cy="1253.8" r="8.07"/><circle cx="1280.4" cy="1210.5" r="8.07"/><circle cx="1040.1" cy="1383.3" r="8.07"/><circle cx="1063.0" cy="1378.5" r="8.07"/><circle cx="1078.9" cy="1380.1" r="8.07"/><circle cx="1214.1" cy="1273.8" r="8.07"/><circle cx="1128.0" cy="1235.8" r="8.07"/><circle cx="1183.0" cy="1283.7" r="8.07"/>
<circle cx="1070.6" cy="1337.2" r="8.07"/><circle cx="1151.3" cy="1302.3" r="8.07"/><circle cx="1102.0" cy="1373.9" r="8.07"/><circle cx="1088.1" cy="1243.7" r="8.07"/><circle cx="1113.0" cy="1342.2" r="8.07"/><circle cx="1104.1" cy="1259.8" r="8.07"/><circle cx="1064.8" cy="1247.5" r="8.07"/><circle cx="1086.5" cy="1446.6" r="8.07"/>
<circle cx="1017.5" cy="1271.3" r="8.07"/><circle cx="1131.2" cy="1240.8" r="8.07"/><circle cx="1053.8" cy="1343.8" r="8.07"/><circle cx="1212.3" cy="1383.0" r="8.07"/><circle cx="1128.3" cy="1272.4" r="8.07"/><circle cx="1168.0" cy="1186.0" r="8.07"/><circle cx="1075.4" cy="1409.3" r="8.07"/><circle cx="1153.8" cy="1315.8" r="8.07"/>
<circle cx="1115.8" cy="1276.9" r="8.07"/><circle cx="1075.3" cy="1345.8" r="8.07"/><circle cx="1158.8" cy="1341.8" r="8.07"/><circle cx="976.8" cy="1396.6" r="8.07"/><circle cx="1180.7" cy="1417.3" r="8.07"/><circle cx="1093.0" cy="1148.5" r="8.07"/><circle cx="1047.1" cy="1240.9" r="8.07"/><circle cx="1252.3" cy="1250.7" r="8.07"/>
<circle cx="1099.0" cy="1376.5" r="8.07"/><circle cx="1183.3" cy="1374.7" r="8.07"/><circle cx="1099.1" cy="1439.4" r="8.07"/><circle cx="1152.8" cy="1244.0" r="8.07"/><circle cx="1153.3" cy="1203.4" r="8.07"/><circle cx="1050.9" cy="1255.9" r="8.07"/><circle cx="1054.4" cy="1269.2" r="8.07"/><circle cx="1087.6" cy="1271.0" r="8.07"/>
<circle cx="1073.9" cy="1385.4" r="8.07"/><circle cx="1066.2" cy="1266.6" r="8.07"/><circle cx="1071.5" cy="1262.2" r="8.07"/><circle cx="1047.6" cy="1456.5" r="8.07"/><circle cx="1111.0" cy="1364.0" r="8.07"/><circle cx="1105.4" cy="1211.3" r="8.07"/><circle cx="1096.1" cy="1255.9" r="8.07"/><circle cx="1051.8" cy="1312.8" r="8.07"/>
<circle cx="1228.1" cy="1319.0" r="8.07"/><circle cx="1192.7" cy="1398.6" r="8.07"/><circle cx="1008.7" cy="1442.5" r="8.07"/><circle cx="1047.0" cy="1437.9" r="8.07"/><circle cx="1142.1" cy="1349.4" r="8.07"/><circle cx="1265.9" cy="1382.0" r="8.07"/><circle cx="1029.7" cy="1176.8" r="8.07"/><circle cx="1054.9" cy="1378.8" r="8.07"/>
<circle cx="1148.8" cy="1371.0" r="8.07"/><circle cx="1155.5" cy="1393.4" r="8.07"/><circle cx="1064.4" cy="1173.3" r="8.07"/><circle cx="1086.6" cy="1363.6" r="8.07"/><circle cx="1065.4" cy="1136.5" r="8.07"/><circle cx="1094.2" cy="1354.2" r="8.07"/><circle cx="1153.7" cy="1280.2" r="8.07"/><circle cx="1096.0" cy="1152.8" r="8.07"/>
<circle cx="1125.1" cy="1439.3" r="8.07"/><circle cx="1095.2" cy="1419.7" r="8.07"/><circle cx="1048.5" cy="1271.5" r="8.07"/><circle cx="1094.5" cy="1298.4" r="8.07"/><circle cx="1011.8" cy="1384.1" r="8.07"/><circle cx="1101.7" cy="1141.6" r="8.07"/><circle cx="1160.6" cy="1306.5" r="8.07"/><circle cx="1041.4" cy="1287.8" r="8.07"/>
<circle cx="1171.0" cy="1347.2" r="8.07"/><circle cx="1142.9" cy="1250.5" r="8.07"/><circle cx="1140.7" cy="1392.5" r="8.07"/><circle cx="1259.3" cy="1347.2" r="8.07"/><circle cx="1176.6" cy="1373.1" r="8.07"/><circle cx="1111.2" cy="1178.0" r="8.07"/><circle cx="1091.5" cy="1288.3" r="8.07"/><circle cx="1138.2" cy="1298.0" r="8.07"/>
<circle cx="1074.0" cy="1252.6" r="8.07"/><circle cx="1099.7" cy="1223.6" r="8.07"/><circle cx="1058.5" cy="1158.4" r="8.07"/><circle cx="1084.1" cy="1285.4" r="8.07"/><circle cx="1062.6" cy="1255.3" r="8.07"/><circle cx="1106.2" cy="1193.7" r="8.07"/><circle cx="1059.3" cy="1205.5" r="8.07"/><circle cx="1127.0" cy="1190.7" r="8.07"/>
<circle cx="1100.8" cy="1126.1" r="8.07"/><circle cx="1207.6" cy="1312.6" r="8.07"/><circle cx="1051.6" cy="1271.6" r="8.07"/><circle cx="1221.4" cy="1285.8" r="8.07"/><circle cx="1014.8" cy="1278.8" r="8.07"/><circle cx="1078.7" cy="1321.1" r="8.07"/><circle cx="1122.3" cy="1172.5" r="8.07"/><circle cx="1129.6" cy="1361.0" r="8.07"/>
<circle cx="1204.4" cy="1319.1" r="8.07"/><circle cx="1235.2" cy="1400.8" r="8.07"/><circle cx="1169.4" cy="1409.6" r="8.07"/><circle cx="966.7" cy="1389.2" r="8.07"/><circle cx="1213.2" cy="1292.6" r="8.07"/><circle cx="1174.6" cy="1253.1" r="8.07"/><circle cx="1113.5" cy="1287.4" r="8.07"/><circle cx="1058.9" cy="1284.2" r="8.07"/>
<circle cx="1014.0" cy="1289.6" r="8.07"/><circle cx="1228.5" cy="1436.0" r="8.07"/><circle cx="1122.3" cy="1425.3" r="8.07"/><circle cx="1149.2" cy="1208.5" r="8.07"/><circle cx="1085.5" cy="1296.5" r="8.07"/><circle cx="1123.1" cy="1347.6" r="8.07"/><circle cx="1080.8" cy="1271.5" r="8.07"/><circle cx="1189.2" cy="1311.4" r="8.07"/>
<circle cx="1151.0" cy="1298.2" r="8.07"/><circle cx="1169.7" cy="1357.6" r="8.07"/><circle cx="1078.7" cy="1385.7" r="8.07"/><circle cx="1087.2" cy="1329.4" r="8.07"/><circle cx="1108.9" cy="1352.3" r="8.07"/><circle cx="1145.2" cy="1346.1" r="8.07"/><circle cx="1136.6" cy="1296.7" r="8.07"/><circle cx="1140.5" cy="1304.0" r="8.07"/>
<circle cx="1076.5" cy="1193.0" r="8.07"/><circle cx="1160.7" cy="1397.1" r="8.07"/><circle cx="1068.0" cy="1341.1" r="8.07"/><circle cx="1090.0" cy="1317.8" r="8.07"/><circle cx="1182.2" cy="1330.7" r="8.07"/><circle cx="1113.0" cy="1165.1" r="8.07"/><circle cx="1114.5" cy="1302.1" r="8.07"/><circle cx="1203.4" cy="1253.9" r="8.07"/>
<circle cx="1120.6" cy="1317.5" r="8.07"/><circle cx="1204.5" cy="1218.3" r="8.07"/><circle cx="1177.8" cy="1296.4" r="8.07"/><circle cx="1085.2" cy="1205.4" r="8.07"/><circle cx="1066.9" cy="1362.7" r="8.07"/><circle cx="1094.6" cy="1235.4" r="8.07"/><circle cx="1101.6" cy="1398.7" r="8.07"/><circle cx="1187.7" cy="1362.4" r="8.07"/>
<circle cx="1187.2" cy="1359.4" r="8.07"/><circle cx="1101.8" cy="1225.1" r="8.07"/><circle cx="1203.2" cy="1295.2" r="8.07"/><circle cx="1135.0" cy="1270.8" r="8.07"/><circle cx="1158.5" cy="1400.5" r="8.07"/><circle cx="1102.4" cy="1315.3" r="8.07"/><circle cx="1131.4" cy="1352.0" r="8.07"/><circle cx="1127.2" cy="1307.8" r="8.07"/>
<circle cx="1091.2" cy="1307.6" r="8.07"/><circle cx="1083.7" cy="1357.9" r="8.07"/><circle cx="1120.1" cy="1423.0" r="8.07"/><circle cx="1086.6" cy="1232.0" r="8.07"/><circle cx="1184.6" cy="1350.7" r="8.07"/><circle cx="1044.1" cy="1491.4" r="8.07"/><circle cx="1117.9" cy="1385.2" r="8.07"/><circle cx="1104.3" cy="1354.7" r="8.07"/>
<circle cx="1196.6" cy="1271.1" r="8.07"/><circle cx="1150.3" cy="1368.1" r="8.07"/><circle cx="1254.9" cy="1376.8" r="8.07"/><circle cx="1215.8" cy="1349.0" r="8.07"/><circle cx="1173.1" cy="1348.1" r="8.07"/><circle cx="1117.9" cy="1177.1" r="8.07"/><circle cx="1026.8" cy="1332.4" r="8.07"/><circle cx="1159.7" cy="1311.8" r="8.07"/>
<circle cx="1469.1" cy="704.2" r="8.07"/><circle cx="1410.2" cy="728.0" r="8.07"/><circle cx="1461.2" cy="796.0" r="8.07"/><circle cx="1333.1" cy="869.9" r="8.07"/><circle cx="1443.8" cy="871.1" r="8.07"/><circle cx="1376.2" cy="899.2" r="8.07"/><circle cx="1324.0" cy="990.9" r="8.07"/><circle cx="1273.0" cy="998.8" r="8.07"/>
<circle cx="1133.3" cy="921.4" r="8.07"/><circle cx="1059.1" cy="1061.2" r="8.07"/><circle cx="1157.8" cy="1054.0" r="8.07"/><circle cx="1128.3" cy="1073.0" r="8.07"/><circle cx="1128.3" cy="1078.3" r="8.07"/><circle cx="1151.0" cy="1074.2" r="8.07"/><circle cx="1137.6" cy="1087.6" r="8.07"/><circle cx="1131.4" cy="1093.8" r="8.07"/>
<circle cx="1039.8" cy="1098.4" r="8.07"/><circle cx="1038.3" cy="1110.9" r="8.07"/><circle cx="1029.9" cy="1119.6" r="8.07"/><circle cx="1106.6" cy="1117.1" r="8.07"/><circle cx="1140.7" cy="1132.0" r="8.07"/><circle cx="1111.9" cy="1138.8" r="8.07"/><circle cx="1098.8" cy="1143.5" r="8.07"/><circle cx="1025.8" cy="1145.7" r="8.07"/>
<circle cx="1119.0" cy="1152.8" r="8.07"/><circle cx="1139.8" cy="1152.8" r="8.07"/><circle cx="1145.4" cy="1160.6" r="8.07"/><circle cx="1083.3" cy="1162.1" r="8.07"/><circle cx="1103.5" cy="1169.9" r="8.07"/><circle cx="1119.0" cy="1174.5" r="8.07"/><circle cx="1126.8" cy="1176.1" r="8.07"/><circle cx="1074.0" cy="1177.6" r="8.07"/>
<circle cx="1062.5" cy="1185.4" r="8.07"/><circle cx="1109.1" cy="1184.8" r="8.07"/><circle cx="1150.1" cy="1185.4" r="8.07"/><circle cx="1243.4" cy="1012.3" r="8.07"/><circle cx="1394.2" cy="1011.2" r="8.07"/><circle cx="1182.9" cy="1050.3" r="8.07"/><circle cx="1239.0" cy="1052.2" r="8.07"/><circle cx="1319.8" cy="1066.5" r="8.07"/>
<circle cx="1171.7" cy="1067.8" r="8.07"/><circle cx="1179.5" cy="1065.2" r="8.07"/><circle cx="1167.8" cy="1082.2" r="8.07"/><circle cx="1179.5" cy="1096.5" r="8.07"/><circle cx="1225.2" cy="1078.2" r="8.07"/><circle cx="1244.7" cy="1075.6" r="8.07"/><circle cx="1279.2" cy="1080.1" r="8.07"/><circle cx="1296.9" cy="1083.5" r="8.07"/>
<circle cx="1321.7" cy="1086.1" r="8.07"/><circle cx="1233.0" cy="1100.4" r="8.07"/><circle cx="1441.7" cy="1071.7" r="8.07"/><circle cx="1418.7" cy="1129.1" r="8.07"/><circle cx="1062.4" cy="1463.7" r="8.07"/><circle cx="1077.3" cy="1455.9" r="8.07"/><circle cx="1086.6" cy="1461.5" r="8.07"/><circle cx="1053.1" cy="1440.4" r="8.07"/>
<circle cx="1150.0" cy="1441.9" r="8.07"/><circle cx="1083.5" cy="1426.4" r="8.07"/><circle cx="1116.8" cy="1424.8" r="8.07"/><circle cx="1141.6" cy="1473.0" r="8.07"/><circle cx="1160.2" cy="1476.1" r="8.07"/>
</g>
<g fill="#e377c2" stroke="#e377c2" stroke-width="4.17" fill-opacity=".6" stroke-opacity=".6">
<circle cx="1393.5" cy="1383.5" r="8.07"/><circle cx="1240.1" cy="1257.9" r="8.07"/><circle cx="1303.6" cy="1314.7" r="8.07"/><circle cx="1341.5" cy="1395.7" r="8.07"/><circle cx="1331.6" cy="1391.9" r="8.07"/><circle cx="1332.7" cy="1270.3" r="8.07"/><circle cx="1201.5" cy="1324.8" r="8.07"/><circle cx="1393.2" cy="1364.8" r="8.07"/>
<circle cx="1264.1" cy="1301.9" r="8.07"/><circle cx="1324.4" cy="1276.0" r="8.07"/><circle cx="1314.6" cy="1377.9" r="8.07"/><circle cx="1416.1" cy="1348.4" r="8.07"/><circle cx="1377.1" cy="1242.6" r="8.07"/><circle cx="1298.3" cy="1292.3" r="8.07"/><circle cx="1189.4" cy="1356.5" r="8.07"/><circle cx="1295.3" cy="1129.5" r="8.07"/>
<circle cx="1330.9" cy="1303.7" r="8.07"/><circle cx="1352.4" cy="1108.5" r="8.07"/><circle cx="1419.3" cy="1379.5" r="8.07"/><circle cx="1381.1" cy="1199.3" r="8.07"/><circle cx="1361.8" cy="1339.1" r="8.07"/><circle cx="1227.4" cy="1328.3" r="8.07"/><circle cx="1206.0" cy="1396.6" r="8.07"/><circle cx="1388.9" cy="1339.2" r="8.07"/>
<circle cx="1362.2" cy="1247.1" r="8.07"/><circle cx="1326.0" cy="1254.2" r="8.07"/><circle cx="1154.2" cy="1296.3" r="8.07"/><circle cx="1248.2" cy="1318.1" r="8.07"/><circle cx="1299.4" cy="1255.5" r="8.07"/><circle cx="1283.1" cy="1366.1" r="8.07"/><circle cx="1170.4" cy="1230.3" r="8.07"/><circle cx="1194.5" cy="1148.5" r="8.07"/>
<circle cx="1212.0" cy="1328.6" r="8.07"/><circle cx="1395.1" cy="1208.4" r="8.07"/><circle cx="1310.2" cy="1259.9" r="8.07"/><circle cx="1177.6" cy="1385.9" r="8.07"/><circle cx="1318.7" cy="1371.2" r="8.07"/><circle cx="1194.1" cy="1376.6" r="8.07"/><circle cx="1257.8" cy="1273.3" r="8.07"/><circle cx="1395.1" cy="1302.1" r="8.07"/>
<circle cx="1349.8" cy="1251.6" r="8.07"/><circle cx="1154.7" cy="1216.6" r="8.07"/><circle cx="1179.2" cy="1244.1" r="8.07"/><circle cx="1249.5" cy="1275.9" r="8.07"/><circle cx="1327.4" cy="1342.5" r="8.07"/><circle cx="1306.9" cy="1293.4" r="8.07"/><circle cx="1238.9" cy="1342.9" r="8.07"/><circle cx="1269.7" cy="1223.4" r="8.07"/>
<circle cx="1324.6" cy="1272.6" r="8.07"/><circle cx="1527.3" cy="1402.3" r="8.07"/><circle cx="1330.1" cy="1380.8" r="8.07"/><circle cx="1144.2" cy="1373.4" r="8.07"/><circle cx="1055.5" cy="1271.7" r="8.07"/><circle cx="1385.5" cy="1390.9" r="8.07"/><circle cx="1267.6" cy="1273.2" r="8.07"/><circle cx="1199.4" cy="1294.2" r="8.07"/>
<circle cx="1154.3" cy="1116.5" r="8.07"/><circle cx="1275.3" cy="1227.6" r="8.07"/><circle cx="1271.3" cy="1365.8" r="8.07"/><circle cx="1271.7" cy="1384.4" r="8.07"/><circle cx="1227.5" cy="1220.2" r="8.07"/><circle cx="1201.2" cy="1354.0" r="8.07"/><circle cx="1139.6" cy="1364.0" r="8.07"/><circle cx="1244.4" cy="1376.0" r="8.07"/>
<circle cx="1358.2" cy="1377.1" r="8.07"/><circle cx="1399.5" cy="1188.6" r="8.07"/><circle cx="1373.9" cy="1265.1" r="8.07"/><circle cx="1205.7" cy="1370.1" r="8.07"/><circle cx="1446.1" cy="1167.1" r="8.07"/><circle cx="1216.7" cy="1374.6" r="8.07"/><circle cx="1325.3" cy="1357.2" r="8.07"/><circle cx="1306.6" cy="1253.7" r="8.07"/>
<circle cx="1177.6" cy="1281.5" r="8.07"/><circle cx="1315.2" cy="1232.8" r="8.07"/><circle cx="1237.5" cy="1315.0" r="8.07"/><circle cx="1385.3" cy="1359.7" r="8.07"/><circle cx="1228.1" cy="1268.2" r="8.07"/><circle cx="1139.5" cy="1383.4" r="8.07"/><circle cx="1274.6" cy="1213.5" r="8.07"/><circle cx="1150.4" cy="1289.2" r="8.07"/>
<circle cx="1282.2" cy="1337.9" r="8.07"/><circle cx="1067.9" cy="1251.8" r="8.07"/><circle cx="1473.4" cy="1405.1" r="8.07"/><circle cx="1213.8" cy="1243.4" r="8.07"/><circle cx="1339.4" cy="1223.8" r="8.07"/><circle cx="1282.1" cy="1345.3" r="8.07"/><circle cx="1308.2" cy="1187.5" r="8.07"/><circle cx="1266.9" cy="1385.5" r="8.07"/>
<circle cx="1226.1" cy="1395.9" r="8.07"/><circle cx="1182.9" cy="1377.2" r="8.07"/><circle cx="1199.9" cy="1206.8" r="8.07"/><circle cx="1398.8" cy="1161.2" r="8.07"/><circle cx="1423.3" cy="1124.4" r="8.07"/><circle cx="1351.2" cy="1392.8" r="8.07"/><circle cx="1134.1" cy="1314.0" r="8.07"/><circle cx="1184.9" cy="1263.5" r="8.07"/>
<circle cx="1346.7" cy="1238.1" r="8.07"/><circle cx="1304.9" cy="1371.9" r="8.07"/><circle cx="1303.4" cy="1358.7" r="8.07"/><circle cx="1527.0" cy="1397.7" r="8.07"/><circle cx="1128.6" cy="1289.1" r="8.07"/><circle cx="1179.9" cy="1123.5" r="8.07"/><circle cx="1365.1" cy="1334.4" r="8.07"/><circle cx="1392.1" cy="1209.3" r="8.07"/>
<circle cx="1373.4" cy="1395.4" r="8.07"/><circle cx="1368.8" cy="1394.7" r="8.07"/><circle cx="1200.0" cy="1190.6" r="8.07"/><circle cx="1177.3" cy="1315.0" r="8.07"/><circle cx="1115.2" cy="1238.7" r="8.07"/><circle cx="1174.7" cy="1380.0" r="8.07"/><circle cx="1130.3" cy="1305.9" r="8.07"/><circle cx="1404.4" cy="1308.2" r="8.07"/>
<circle cx="1193.9" cy="1362.7" r="8.07"/><circle cx="1352.7" cy="1350.0" r="8.07"/><circle cx="1329.4" cy="1330.3" r="8.07"/><circle cx="1195.4" cy="1200.6" r="8.07"/><circle cx="1331.8" cy="1378.8" r="8.07"/><circle cx="1323.1" cy="1310.0" r="8.07"/><circle cx="1415.6" cy="1391.5" r="8.07"/><circle cx="1400.6" cy="1283.5" r="8.07"/>
<circle cx="1250.9" cy="1355.4" r="8.07"/><circle cx="1058.5" cy="1434.7" r="8.07"/><circle cx="1279.0" cy="1303.9" r="8.07"/><circle cx="1337.9" cy="1357.0" r="8.07"/><circle cx="1276.9" cy="1311.4" r="8.07"/><circle cx="1346.6" cy="1375.0" r="8.07"/><circle cx="1284.3" cy="1356.0" r="8.07"/><circle cx="1352.7" cy="1329.5" r="8.07"/>
<circle cx="1252.1" cy="1390.6" r="8.07"/><circle cx="1416.4" cy="1377.6" r="8.07"/><circle cx="1400.5" cy="1284.3" r="8.07"/><circle cx="1334.6" cy="1289.5" r="8.07"/><circle cx="1317.6" cy="1220.6" r="8.07"/><circle cx="1174.7" cy="1209.6" r="8.07"/><circle cx="1299.5" cy="1336.3" r="8.07"/><circle cx="1212.4" cy="1318.1" r="8.07"/>
<circle cx="1268.7" cy="1339.1" r="8.07"/><circle cx="1233.2" cy="1394.4" r="8.07"/><circle cx="1194.6" cy="1315.1" r="8.07"/><circle cx="1124.8" cy="1287.9" r="8.07"/><circle cx="1219.6" cy="1311.0" r="8.07"/><circle cx="1207.3" cy="1302.6" r="8.07"/><circle cx="1262.8" cy="1304.4" r="8.07"/><circle cx="1123.3" cy="1346.1" r="8.07"/>
<circle cx="1190.6" cy="1361.4" r="8.07"/><circle cx="1323.5" cy="1215.4" r="8.07"/><circle cx="1360.2" cy="1313.2" r="8.07"/><circle cx="1276.9" cy="1316.1" r="8.07"/><circle cx="1175.5" cy="1240.3" r="8.07"/><circle cx="1318.2" cy="1347.7" r="8.07"/><circle cx="1331.5" cy="1377.8" r="8.07"/><circle cx="1395.4" cy="1295.7" r="8.07"/>
<circle cx="1137.5" cy="1261.5" r="8.07"/><circle cx="1257.6" cy="1326.9" r="8.07"/><circle cx="1399.7" cy="1265.7" r="8.07"/><circle cx="1269.4" cy="1389.6" r="8.07"/><circle cx="1224.6" cy="1314.7" r="8.07"/><circle cx="1290.1" cy="1248.8" r="8.07"/><circle cx="1207.3" cy="1339.0" r="8.07"/><circle cx="1422.1" cy="1240.0" r="8.07"/>
<circle cx="1159.8" cy="1399.5" r="8.07"/><circle cx="1392.8" cy="1381.1" r="8.07"/><circle cx="1393.0" cy="1383.9" r="8.07"/><circle cx="1225.5" cy="1307.2" r="8.07"/><circle cx="1075.6" cy="1275.0" r="8.07"/><circle cx="1214.1" cy="1178.4" r="8.07"/><circle cx="1225.5" cy="1366.4" r="8.07"/><circle cx="1334.2" cy="1365.7" r="8.07"/>
<circle cx="1448.9" cy="1300.0" r="8.07"/><circle cx="1233.1" cy="1351.7" r="8.07"/><circle cx="1329.1" cy="1277.4" r="8.07"/><circle cx="1260.6" cy="1360.5" r="8.07"/><circle cx="1265.2" cy="1234.5" r="8.07"/><circle cx="1100.4" cy="1318.9" r="8.07"/><circle cx="1442.0" cy="1229.2" r="8.07"/><circle cx="1132.2" cy="1279.0" r="8.07"/>
<circle cx="1309.4" cy="1371.2" r="8.07"/><circle cx="1360.1" cy="1385.2" r="8.07"/><circle cx="1384.7" cy="1247.3" r="8.07"/><circle cx="1328.5" cy="1367.8" r="8.07"/><circle cx="1192.3" cy="1314.7" r="8.07"/><circle cx="1171.5" cy="1300.2" r="8.07"/><circle cx="1340.1" cy="1376.0" r="8.07"/><circle cx="1286.9" cy="1339.2" r="8.07"/>
<circle cx="1277.1" cy="1342.3" r="8.07"/><circle cx="1306.6" cy="1326.2" r="8.07"/><circle cx="1389.0" cy="1353.4" r="8.07"/><circle cx="1333.1" cy="1201.4" r="8.07"/><circle cx="1224.9" cy="1230.6" r="8.07"/><circle cx="1083.8" cy="1395.8" r="8.07"/><circle cx="1363.9" cy="1290.0" r="8.07"/><circle cx="1357.3" cy="1319.3" r="8.07"/>
<circle cx="1318.2" cy="1369.0" r="8.07"/><circle cx="1262.9" cy="1393.9" r="8.07"/><circle cx="1261.5" cy="1278.3" r="8.07"/><circle cx="1138.5" cy="1333.7" r="8.07"/><circle cx="1306.1" cy="1204.2" r="8.07"/><circle cx="1270.7" cy="1392.6" r="8.07"/><circle cx="1272.2" cy="1231.8" r="8.07"/><circle cx="1203.0" cy="1274.6" r="8.07"/>
<circle cx="1382.6" cy="1388.2" r="8.07"/><circle cx="1258.5" cy="1388.0" r="8.07"/><circle cx="1184.9" cy="1289.7" r="8.07"/><circle cx="1166.7" cy="1169.9" r="8.07"/><circle cx="1320.6" cy="1263.3" r="8.07"/><circle cx="1185.0" cy="1356.6" r="8.07"/><circle cx="1370.9" cy="1341.6" r="8.07"/><circle cx="1243.5" cy="1137.5" r="8.07"/>
<circle cx="1387.4" cy="1346.9" r="8.07"/><circle cx="1237.4" cy="1364.7" r="8.07"/><circle cx="1328.4" cy="1320.1" r="8.07"/><circle cx="1285.1" cy="1321.0" r="8.07"/><circle cx="1390.0" cy="1299.5" r="8.07"/><circle cx="1278.2" cy="1236.6" r="8.07"/><circle cx="1198.4" cy="1309.8" r="8.07"/><circle cx="1259.4" cy="1387.5" r="8.07"/>
<circle cx="1482.0" cy="1405.6" r="8.07"/><circle cx="1363.8" cy="1200.9" r="8.07"/><circle cx="1282.1" cy="1326.6" r="8.07"/><circle cx="1277.8" cy="1280.6" r="8.07"/><circle cx="1210.5" cy="1318.2" r="8.07"/><circle cx="1235.3" cy="1313.5" r="8.07"/><circle cx="1287.7" cy="1246.5" r="8.07"/><circle cx="1402.4" cy="1394.8" r="8.07"/>
<circle cx="1471.4" cy="1275.9" r="8.07"/><circle cx="1300.7" cy="1346.5" r="8.07"/><circle cx="1199.6" cy="1231.9" r="8.07"/><circle cx="1368.9" cy="1348.8" r="8.07"/><circle cx="1194.5" cy="1316.6" r="8.07"/><circle cx="1535.9" cy="1378.8" r="8.07"/><circle cx="1215.6" cy="1350.3" r="8.07"/><circle cx="1374.4" cy="1362.7" r="8.07"/>
<circle cx="1258.5" cy="1367.2" r="8.07"/><circle cx="1230.1" cy="1345.8" r="8.07"/><circle cx="1390.1" cy="1349.8" r="8.07"/><circle cx="1303.3" cy="1122.8" r="8.07"/><circle cx="1260.6" cy="1250.4" r="8.07"/><circle cx="1272.1" cy="1356.4" r="8.07"/><circle cx="1351.3" cy="1366.9" r="8.07"/><circle cx="1328.8" cy="1385.0" r="8.07"/>
<circle cx="1216.1" cy="1289.9" r="8.07"/><circle cx="1217.4" cy="1284.9" r="8.07"/><circle cx="1246.1" cy="1347.7" r="8.07"/><circle cx="1317.5" cy="1303.2" r="8.07"/><circle cx="1316.9" cy="1209.7" r="8.07"/><circle cx="1277.3" cy="1287.7" r="8.07"/><circle cx="1400.7" cy="1362.4" r="8.07"/><circle cx="1148.8" cy="1366.3" r="8.07"/>
<circle cx="1352.3" cy="1364.7" r="8.07"/><circle cx="1206.7" cy="1199.2" r="8.07"/><circle cx="1170.7" cy="1175.7" r="8.07"/><circle cx="1145.2" cy="1367.5" r="8.07"/><circle cx="1175.1" cy="1324.5" r="8.07"/><circle cx="1245.0" cy="1363.6" r="8.07"/><circle cx="1352.2" cy="1335.7" r="8.07"/><circle cx="1260.3" cy="1392.1" r="8.07"/>
<circle cx="1306.1" cy="1361.7" r="8.07"/><circle cx="1342.0" cy="1303.8" r="8.07"/><circle cx="1291.7" cy="1310.0" r="8.07"/><circle cx="1123.2" cy="1295.0" r="8.07"/><circle cx="1287.1" cy="1316.8" r="8.07"/><circle cx="1332.2" cy="1225.6" r="8.07"/><circle cx="1385.0" cy="1385.4" r="8.07"/><circle cx="1373.4" cy="1348.1" r="8.07"/>
<circle cx="1311.2" cy="1306.6" r="8.07"/><circle cx="1233.6" cy="1393.6" r="8.07"/><circle cx="1376.1" cy="1323.2" r="8.07"/><circle cx="1221.2" cy="1219.0" r="8.07"/><circle cx="1337.2" cy="1323.3" r="8.07"/><circle cx="1228.9" cy="1174.9" r="8.07"/><circle cx="1237.5" cy="1267.5" r="8.07"/><circle cx="1248.1" cy="1336.5" r="8.07"/>
<circle cx="1182.6" cy="1365.8" r="8.07"/><circle cx="1227.1" cy="1342.3" r="8.07"/><circle cx="1331.6" cy="1394.9" r="8.07"/><circle cx="1241.5" cy="1378.3" r="8.07"/><circle cx="1288.9" cy="1204.6" r="8.07"/><circle cx="1178.2" cy="1310.5" r="8.07"/><circle cx="1279.5" cy="1249.0" r="8.07"/><circle cx="1378.9" cy="1251.8" r="8.07"/>
<circle cx="1416.3" cy="1415.4" r="8.07"/><circle cx="1327.9" cy="1253.9" r="8.07"/><circle cx="1257.5" cy="1344.4" r="8.07"/><circle cx="1432.3" cy="1121.1" r="8.07"/><circle cx="1289.0" cy="1251.5" r="8.07"/><circle cx="1279.2" cy="1342.2" r="8.07"/><circle cx="1150.5" cy="1260.4" r="8.07"/><circle cx="1338.2" cy="1374.9" r="8.07"/>
<circle cx="1250.4" cy="1239.8" r="8.07"/><circle cx="1204.9" cy="1395.7" r="8.07"/><circle cx="1333.7" cy="1341.6" r="8.07"/><circle cx="1269.3" cy="1336.5" r="8.07"/><circle cx="1299.6" cy="1347.5" r="8.07"/><circle cx="1204.4" cy="1323.7" r="8.07"/><circle cx="1345.9" cy="1333.2" r="8.07"/><circle cx="1385.1" cy="1268.5" r="8.07"/>
<circle cx="1259.6" cy="1249.4" r="8.07"/><circle cx="1293.8" cy="1376.3" r="8.07"/><circle cx="1295.1" cy="1244.5" r="8.07"/><circle cx="1242.5" cy="1196.8" r="8.07"/><circle cx="1328.3" cy="1324.1" r="8.07"/><circle cx="1331.4" cy="1319.5" r="8.07"/><circle cx="1250.6" cy="1274.1" r="8.07"/><circle cx="1289.7" cy="1250.6" r="8.07"/>
<circle cx="1272.9" cy="1286.2" r="8.07"/><circle cx="1176.7" cy="1389.7" r="8.07"/><circle cx="1405.6" cy="1352.1" r="8.07"/><circle cx="1201.9" cy="1275.3" r="8.07"/><circle cx="1349.8" cy="1156.1" r="8.07"/><circle cx="1228.3" cy="1357.8" r="8.07"/><circle cx="1284.4" cy="1381.6" r="8.07"/><circle cx="1351.0" cy="1361.2" r="8.07"/>
<circle cx="1130.9" cy="1392.3" r="8.07"/><circle cx="1228.5" cy="1304.4" r="8.07"/><circle cx="1368.3" cy="1273.2" r="8.07"/><circle cx="1270.4" cy="1366.9" r="8.07"/><circle cx="1197.1" cy="1361.5" r="8.07"/><circle cx="1356.9" cy="1372.9" r="8.07"/><circle cx="1210.9" cy="1317.1" r="8.07"/><circle cx="1361.1" cy="1231.9" r="8.07"/>
<circle cx="1307.9" cy="1335.6" r="8.07"/><circle cx="1299.1" cy="1147.3" r="8.07"/><circle cx="1136.8" cy="1271.0" r="8.07"/><circle cx="1269.4" cy="1369.7" r="8.07"/><circle cx="1306.0" cy="1281.3" r="8.07"/><circle cx="1197.9" cy="1302.6" r="8.07"/><circle cx="1156.9" cy="1311.7" r="8.07"/><circle cx="1249.2" cy="1255.6" r="8.07"/>
<circle cx="1198.9" cy="1302.2" r="8.07"/><circle cx="1262.4" cy="1257.0" r="8.07"/><circle cx="1247.3" cy="1289.4" r="8.07"/><circle cx="1206.3" cy="1216.5" r="8.07"/><circle cx="1276.1" cy="1197.1" r="8.07"/><circle cx="1402.4" cy="1346.3" r="8.07"/><circle cx="1080.7" cy="1391.6" r="8.07"/><circle cx="1191.9" cy="1371.1" r="8.07"/>
<circle cx="1361.9" cy="1358.2" r="8.07"/><circle cx="1224.3" cy="1363.2" r="8.07"/><circle cx="1222.5" cy="1362.4" r="8.07"/><circle cx="1226.5" cy="1272.4" r="8.07"/><circle cx="1230.4" cy="1213.6" r="8.07"/><circle cx="1158.6" cy="1356.3" r="8.07"/><circle cx="1185.0" cy="1367.4" r="8.07"/><circle cx="1132.7" cy="1282.2" r="8.07"/>
<circle cx="1270.0" cy="1396.7" r="8.07"/><circle cx="1299.7" cy="1388.5" r="8.07"/><circle cx="1293.4" cy="1298.0" r="8.07"/><circle cx="1334.3" cy="1371.9" r="8.07"/><circle cx="1173.7" cy="1307.9" r="8.07"/><circle cx="1223.0" cy="1375.1" r="8.07"/><circle cx="1626.5" cy="1076.8" r="8.07"/><circle cx="1533.2" cy="674.2" r="8.07"/>
<circle cx="1487.3" cy="750.1" r="8.07"/><circle cx="1573.1" cy="760.4" r="8.07"/><circle cx="1448.1" cy="832.4" r="8.07"/><circle cx="1460.8" cy="830.8" r="8.07"/><circle cx="1452.1" cy="868.3" r="8.07"/><circle cx="1227.9" cy="900.4" r="8.07"/><circle cx="1588.1" cy="936.4" r="8.07"/><circle cx="1486.5" cy="969.2" r="8.07"/>
<circle cx="1443.4" cy="979.1" r="8.07"/><circle cx="959.6" cy="1259.6" r="8.07"/><circle cx="933.8" cy="1507.5" r="8.07"/><circle cx="1021.6" cy="1543.7" r="8.07"/><circle cx="858.7" cy="1550.7" r="8.07"/><circle cx="1006.3" cy="1053.1" r="8.07"/><circle cx="1093.5" cy="1066.5" r="8.07"/><circle cx="1088.9" cy="1127.3" r="8.07"/>
<circle cx="1115.9" cy="1194.7" r="8.07"/><circle cx="1108.1" cy="1233.5" r="8.07"/><circle cx="1150.1" cy="1266.1" r="8.07"/><circle cx="1081.7" cy="1275.5" r="8.07"/><circle cx="1088.0" cy="1281.7" r="8.07"/><circle cx="1264.3" cy="1609.6" r="8.07"/><circle cx="1267.4" cy="1614.3" r="8.07"/><circle cx="1286.0" cy="1605.0" r="8.07"/>
<circle cx="1287.6" cy="1611.2" r="8.07"/><circle cx="1298.4" cy="1607.5" r="8.07"/><circle cx="1306.2" cy="1605.0" r="8.07"/><circle cx="1319.3" cy="1614.9" r="8.07"/><circle cx="1349.7" cy="1610.6" r="8.07"/><circle cx="1358.4" cy="1623.0" r="8.07"/><circle cx="1295.3" cy="1625.2" r="8.07"/><circle cx="1267.1" cy="1637.3" r="8.07"/>
<circle cx="1327.3" cy="1642.9" r="8.07"/><circle cx="1351.9" cy="1636.0" r="8.07"/><circle cx="1455.3" cy="1594.1" r="8.07"/><circle cx="1469.3" cy="1546.0" r="8.07"/><circle cx="1477.0" cy="1462.1" r="8.07"/><circle cx="1171.1" cy="1654.0" r="8.07"/><circle cx="1154.0" cy="1674.5" r="8.07"/><circle cx="1152.5" cy="1689.4" r="8.07"/>
<circle cx="1221.4" cy="1688.5" r="8.07"/><circle cx="1250.3" cy="1681.7" r="8.07"/><circle cx="1268.3" cy="1678.0" r="8.07"/><circle cx="1314.3" cy="1673.9" r="8.07"/><circle cx="1382.3" cy="1691.0" r="8.07"/><circle cx="1215.5" cy="1705.9" r="8.07"/><circle cx="1218.3" cy="1718.3" r="8.07"/><circle cx="1250.3" cy="1712.1" r="8.07"/>
<circle cx="1281.4" cy="1702.8" r="8.07"/><circle cx="1447.5" cy="1490.1" r="8.07"/><circle cx="1436.6" cy="1457.5" r="8.07"/><circle cx="1271.6" cy="1023.5" r="8.07"/><circle cx="1346.5" cy="1022.2" r="8.07"/><circle cx="1343.8" cy="1073.0" r="8.07"/><circle cx="1428.1" cy="1057.9" r="8.07"/><circle cx="1293.0" cy="1099.1" r="8.07"/>
<circle cx="1313.8" cy="1090.0" r="8.07"/><circle cx="1325.6" cy="1103.0" r="8.07"/><circle cx="1319.1" cy="1108.2" r="8.07"/><circle cx="1384.3" cy="1093.9" r="8.07"/><circle cx="1410.4" cy="1082.2" r="8.07"/><circle cx="1281.2" cy="1113.5" r="8.07"/><circle cx="1423.4" cy="1117.4" r="8.07"/><circle cx="1162.1" cy="1404.7" r="8.07"/>
<circle cx="1173.0" cy="1409.3" r="8.07"/><circle cx="1176.1" cy="1417.1" r="8.07"/><circle cx="1159.0" cy="1426.4" r="8.07"/><circle cx="1154.3" cy="1429.5" r="8.07"/><circle cx="1166.8" cy="1431.1" r="8.07"/><circle cx="1169.9" cy="1435.7" r="8.07"/><circle cx="1196.3" cy="1407.8" r="8.07"/><circle cx="1202.5" cy="1412.4" r="8.07"/>
<circle cx="1208.7" cy="1406.2" r="8.07"/><circle cx="1214.9" cy="1414.0" r="8.07"/><circle cx="1208.7" cy="1423.3" r="8.07"/><circle cx="1199.4" cy="1420.2" r="8.07"/><circle cx="1221.1" cy="1418.6" r="8.07"/><circle cx="1236.6" cy="1404.7" r="8.07"/><circle cx="1246.0" cy="1403.1" r="8.07"/><circle cx="1255.3" cy="1407.8" r="8.07"/>
<circle cx="1239.8" cy="1415.5" r="8.07"/><circle cx="1249.1" cy="1418.6" r="8.07"/><circle cx="1261.5" cy="1415.5" r="8.07"/><circle cx="1267.7" cy="1420.2" r="8.07"/><circle cx="1273.9" cy="1409.3" r="8.07"/><circle cx="1283.2" cy="1406.2" r="8.07"/><circle cx="1292.5" cy="1403.1" r="8.07"/><circle cx="1301.9" cy="1401.6" r="8.07"/>
<circle cx="1258.4" cy="1424.8" r="8.07"/><circle cx="1270.8" cy="1429.5" r="8.07"/><circle cx="1246.0" cy="1428.0" r="8.07"/><circle cx="1235.1" cy="1426.4" r="8.07"/><circle cx="1289.4" cy="1417.1" r="8.07"/><circle cx="1317.4" cy="1404.7" r="8.07"/><circle cx="1326.7" cy="1403.1" r="8.07"/><circle cx="1336.0" cy="1406.2" r="8.07"/>
<circle cx="1342.2" cy="1409.3" r="8.07"/><circle cx="1323.6" cy="1420.2" r="8.07"/><circle cx="1332.9" cy="1423.3" r="8.07"/><circle cx="1339.1" cy="1426.4" r="8.07"/><circle cx="1314.3" cy="1417.1" r="8.07"/><circle cx="1351.6" cy="1409.3" r="8.07"/><circle cx="1364.0" cy="1403.1" r="8.07"/><circle cx="1149.7" cy="1449.7" r="8.07"/>
<circle cx="1122.5" cy="1459.0" r="8.07"/><circle cx="1205.6" cy="1446.6" r="8.07"/><circle cx="1211.8" cy="1452.8" r="8.07"/><circle cx="1219.6" cy="1455.9" r="8.07"/><circle cx="1228.9" cy="1451.2" r="8.07"/><circle cx="1239.8" cy="1443.5" r="8.07"/><circle cx="1244.4" cy="1438.8" r="8.07"/><circle cx="1202.5" cy="1463.7" r="8.07"/>
<circle cx="1213.4" cy="1468.3" r="8.07"/><circle cx="1244.4" cy="1466.8" r="8.07"/><circle cx="1259.9" cy="1465.2" r="8.07"/><circle cx="1264.6" cy="1471.4" r="8.07"/><circle cx="1270.8" cy="1462.1" r="8.07"/><circle cx="1291.0" cy="1446.6" r="8.07"/><circle cx="1306.5" cy="1445.0" r="8.07"/><circle cx="1312.7" cy="1451.2" r="8.07"/>
<circle cx="1292.5" cy="1463.7" r="8.07"/><circle cx="1312.7" cy="1462.1" r="8.07"/><circle cx="1317.4" cy="1469.9" r="8.07"/><circle cx="1367.1" cy="1452.8" r="8.07"/><circle cx="1334.5" cy="1443.5" r="8.07"/><circle cx="1108.5" cy="1480.7" r="8.07"/><circle cx="1176.1" cy="1469.9" r="8.07"/><circle cx="1169.9" cy="1491.6" r="8.07"/>
<circle cx="1193.2" cy="1487.0" r="8.07"/><circle cx="1199.4" cy="1491.6" r="8.07"/><circle cx="1210.2" cy="1480.7" r="8.07"/><circle cx="1221.1" cy="1474.5" r="8.07"/><circle cx="1214.9" cy="1487.0" r="8.07"/><circle cx="1232.0" cy="1487.0" r="8.07"/><circle cx="1242.9" cy="1488.5" r="8.07"/><circle cx="1261.5" cy="1479.2" r="8.07"/>
<circle cx="1263.0" cy="1488.5" r="8.07"/><circle cx="1300.3" cy="1483.9" r="8.07"/><circle cx="1312.7" cy="1482.3" r="8.07"/><circle cx="1317.4" cy="1476.1" r="8.07"/><circle cx="1339.1" cy="1479.2" r="8.07"/><circle cx="1353.1" cy="1485.4" r="8.07"/><circle cx="1314.3" cy="1488.5" r="8.07"/><circle cx="1143.5" cy="1515.7" r="8.07"/>
<circle cx="1182.3" cy="1510.2" r="8.07"/><circle cx="1188.5" cy="1514.9" r="8.07"/><circle cx="1196.3" cy="1516.5" r="8.07"/><circle cx="1214.9" cy="1499.4" r="8.07"/><circle cx="1218.0" cy="1508.7" r="8.07"/><circle cx="1222.7" cy="1516.5" r="8.07"/><circle cx="1220.3" cy="1521.1" r="8.07"/><circle cx="1263.0" cy="1507.1" r="8.07"/>
<circle cx="1273.9" cy="1504.0" r="8.07"/><circle cx="1308.1" cy="1508.7" r="8.07"/><circle cx="1317.4" cy="1513.4" r="8.07"/><circle cx="1371.7" cy="1508.7" r="8.07"/><circle cx="1264.6" cy="1528.9" r="8.07"/><circle cx="1346.9" cy="1522.7" r="8.07"/><circle cx="1354.7" cy="1525.8" r="8.07"/><circle cx="1364.0" cy="1528.9" r="8.07"/>
<circle cx="1312.7" cy="1535.1" r="8.07"/><circle cx="1125.6" cy="1534.3" r="8.07"/><circle cx="1220.3" cy="1530.4" r="8.07"/><circle cx="1244.4" cy="1536.6" r="8.07"/><circle cx="1253.7" cy="1539.8" r="8.07"/><circle cx="1175.3" cy="1550.6" r="8.07"/><circle cx="1206.4" cy="1551.4" r="8.07"/><circle cx="1280.9" cy="1552.2" r="8.07"/>
<circle cx="1298.0" cy="1549.1" r="8.07"/><circle cx="1310.4" cy="1553.0" r="8.07"/><circle cx="1339.1" cy="1542.9" r="8.07"/><circle cx="1338.4" cy="1549.1" r="8.07"/><circle cx="1390.4" cy="1551.4" r="8.07"/><circle cx="1123.3" cy="1564.6" r="8.07"/><circle cx="1141.9" cy="1569.3" r="8.07"/><circle cx="1129.5" cy="1580.1" r="8.07"/>
<circle cx="1148.1" cy="1581.7" r="8.07"/><circle cx="1152.0" cy="1588.7" r="8.07"/><circle cx="1167.5" cy="1582.5" r="8.07"/><circle cx="1199.4" cy="1570.8" r="8.07"/><circle cx="1216.5" cy="1566.1" r="8.07"/><circle cx="1228.9" cy="1560.7" r="8.07"/><circle cx="1244.4" cy="1566.1" r="8.07"/><circle cx="1261.5" cy="1566.1" r="8.07"/>
<circle cx="1266.9" cy="1566.9" r="8.07"/><circle cx="1234.3" cy="1587.1" r="8.07"/><circle cx="1189.3" cy="1593.3" r="8.07"/><circle cx="1305.0" cy="1570.0" r="8.07"/><circle cx="1325.2" cy="1576.2" r="8.07"/><circle cx="1351.6" cy="1581.7" r="8.07"/><circle cx="1384.2" cy="1573.9" r="8.07"/><circle cx="1272.4" cy="1598.0" r="8.07"/>
<circle cx="1318.9" cy="1594.1" r="8.07"/><circle cx="1171.5" cy="1434.6" r="8.07"/><circle cx="1165.7" cy="1430.6" r="8.07"/><circle cx="1154.7" cy="1431.0" r="8.07"/><circle cx="1200.5" cy="1406.9" r="8.07"/><circle cx="1209.7" cy="1412.8" r="8.07"/><circle cx="1210.0" cy="1411.9" r="8.07"/><circle cx="1211.6" cy="1420.7" r="8.07"/>
<circle cx="1253.5" cy="1420.4" r="8.07"/><circle cx="1255.6" cy="1418.8" r="8.07"/><circle cx="1256.7" cy="1425.7" r="8.07"/><circle cx="1254.3" cy="1416.4" r="8.07"/><circle cx="1329.6" cy="1426.7" r="8.07"/><circle cx="1337.3" cy="1422.7" r="8.07"/><circle cx="1330.0" cy="1429.0" r="8.07"/><circle cx="1333.1" cy="1420.9" r="8.07"/>
<circle cx="1260.8" cy="1459.5" r="8.07"/><circle cx="1264.2" cy="1469.0" r="8.07"/><circle cx="1258.5" cy="1472.3" r="8.07"/><circle cx="1209.9" cy="1478.1" r="8.07"/><circle cx="1204.1" cy="1473.7" r="8.07"/><circle cx="1217.5" cy="1467.3" r="8.07"/><circle cx="1307.0" cy="1451.5" r="8.07"/><circle cx="1309.8" cy="1448.8" r="8.07"/>
<circle cx="1225.8" cy="1404.0" r="8.07"/><circle cx="1239.9" cy="1409.4" r="8.07"/><circle cx="1292.1" cy="1413.6" r="8.07"/><circle cx="1286.0" cy="1406.5" r="8.07"/>
</g>
<g fill="#bcbd22" stroke="#bcbd22" stroke-width="4.17" fill-opacity=".6" stroke-opacity=".6">
<circle cx="1298.3" cy="779.4" r="8.07"/><circle cx="1169.4" cy="808.2" r="8.07"/><circle cx="1257.1" cy="870.3" r="8.07"/><circle cx="1228.3" cy="888.1" r="8.07"/><circle cx="1210.1" cy="922.5" r="8.07"/><circle cx="1274.9" cy="945.5" r="8.07"/><circle cx="1218.4" cy="973.1" r="8.07"/><circle cx="1002.8" cy="1101.4" r="8.07"/>
<circle cx="956.3" cy="1120.2" r="8.07"/><circle cx="1086.4" cy="1124.4" r="8.07"/><circle cx="1045.5" cy="1132.9" r="8.07"/><circle cx="931.5" cy="1152.6" r="8.07"/><circle cx="941.8" cy="1160.1" r="8.07"/><circle cx="1043.2" cy="1154.0" r="8.07"/><circle cx="1077.0" cy="1161.0" r="8.07"/><circle cx="848.4" cy="1169.0" r="8.07"/>
<circle cx="857.7" cy="1185.9" r="8.07"/><circle cx="928.2" cy="1187.3" r="8.07"/><circle cx="1029.1" cy="1185.9" r="8.07"/><circle cx="1036.2" cy="1173.7" r="8.07"/><circle cx="1046.5" cy="1170.4" r="8.07"/><circle cx="953.5" cy="1197.2" r="8.07"/><circle cx="977.0" cy="1193.9" r="8.07"/><circle cx="997.2" cy="1197.2" r="8.07"/>
<circle cx="803.3" cy="1216.4" r="8.07"/><circle cx="783.6" cy="1234.3" r="8.07"/><circle cx="929.1" cy="1221.1" r="8.07"/><circle cx="923.5" cy="1231.5" r="8.07"/><circle cx="922.1" cy="1252.6" r="8.07"/><circle cx="939.9" cy="1262.0" r="8.07"/><circle cx="931.5" cy="1273.7" r="8.07"/><circle cx="829.1" cy="1273.7" r="8.07"/>
<circle cx="893.9" cy="1277.5" r="8.07"/><circle cx="898.6" cy="1283.1" r="8.07"/><circle cx="875.1" cy="1293.9" r="8.07"/><circle cx="825.8" cy="1299.5" r="8.07"/><circle cx="905.6" cy="1291.5" r="8.07"/><circle cx="918.8" cy="1291.5" r="8.07"/><circle cx="936.2" cy="1290.1" r="8.07"/><circle cx="893.9" cy="1305.2" r="8.07"/>
<circle cx="908.0" cy="1306.6" r="8.07"/><circle cx="933.8" cy="1304.2" r="8.07"/><circle cx="844.6" cy="1312.7" r="8.07"/><circle cx="868.1" cy="1311.3" r="8.07"/><circle cx="865.7" cy="1319.7" r="8.07"/><circle cx="917.4" cy="1320.7" r="8.07"/><circle cx="896.2" cy="1327.7" r="8.07"/><circle cx="900.9" cy="1332.4" r="8.07"/>
<circle cx="858.7" cy="1330.0" r="8.07"/><circle cx="855.4" cy="1337.1" r="8.07"/><circle cx="824.4" cy="1332.4" r="8.07"/><circle cx="886.9" cy="1341.8" r="8.07"/><circle cx="878.4" cy="1346.5" r="8.07"/><circle cx="905.6" cy="1339.4" r="8.07"/><circle cx="915.0" cy="1344.1" r="8.07"/><circle cx="926.8" cy="1346.5" r="8.07"/>
<circle cx="938.5" cy="1339.4" r="8.07"/><circle cx="856.3" cy="1353.5" r="8.07"/><circle cx="896.2" cy="1351.2" r="8.07"/><circle cx="910.3" cy="1353.5" r="8.07"/><circle cx="924.4" cy="1355.9" r="8.07"/><circle cx="936.2" cy="1360.6" r="8.07"/><circle cx="816.4" cy="1362.9" r="8.07"/><circle cx="846.9" cy="1370.0" r="8.07"/>
<circle cx="861.0" cy="1370.9" r="8.07"/><circle cx="879.8" cy="1374.6" r="8.07"/><circle cx="895.3" cy="1372.3" r="8.07"/><circle cx="896.2" cy="1381.7" r="8.07"/><circle cx="915.0" cy="1377.9" r="8.07"/><circle cx="929.1" cy="1384.0" r="8.07"/><circle cx="798.6" cy="1386.4" r="8.07"/><circle cx="774.2" cy="1404.2" r="8.07"/>
<circle cx="846.9" cy="1393.4" r="8.07"/><circle cx="856.3" cy="1398.1" r="8.07"/><circle cx="858.7" cy="1402.8" r="8.07"/><circle cx="891.5" cy="1399.5" r="8.07"/><circle cx="919.7" cy="1395.8" r="8.07"/><circle cx="924.4" cy="1402.8" r="8.07"/><circle cx="933.8" cy="1409.9" r="8.07"/><circle cx="926.8" cy="1423.9" r="8.07"/>
<circle cx="929.1" cy="1428.6" r="8.07"/><circle cx="903.3" cy="1428.6" r="8.07"/><circle cx="889.2" cy="1421.6" r="8.07"/><circle cx="868.1" cy="1423.9" r="8.07"/><circle cx="858.7" cy="1421.6" r="8.07"/><circle cx="844.6" cy="1409.9" r="8.07"/><circle cx="831.9" cy="1420.7" r="8.07"/><circle cx="890.6" cy="1433.3" r="8.07"/>
<circle cx="896.2" cy="1438.0" r="8.07"/><circle cx="873.7" cy="1445.1" r="8.07"/><circle cx="897.2" cy="1447.4" r="8.07"/><circle cx="835.2" cy="1447.4" r="8.07"/><circle cx="924.4" cy="1454.5" r="8.07"/><circle cx="783.6" cy="1461.5" r="8.07"/><circle cx="810.8" cy="1460.6" r="8.07"/><circle cx="804.7" cy="1475.6" r="8.07"/>
<circle cx="800.0" cy="1477.9" r="8.07"/><circle cx="721.1" cy="1475.6" r="8.07"/><circle cx="741.3" cy="1480.3" r="8.07"/><circle cx="725.8" cy="1487.3" r="8.07"/><circle cx="877.5" cy="1473.2" r="8.07"/><circle cx="873.7" cy="1477.9" r="8.07"/><circle cx="898.6" cy="1475.6" r="8.07"/><circle cx="915.0" cy="1475.6" r="8.07"/>
<circle cx="837.6" cy="1485.0" r="8.07"/><circle cx="857.3" cy="1489.7" r="8.07"/><circle cx="884.5" cy="1487.3" r="8.07"/><circle cx="912.7" cy="1489.7" r="8.07"/><circle cx="816.4" cy="1498.1" r="8.07"/><circle cx="725.8" cy="1502.3" r="8.07"/><circle cx="926.8" cy="1501.4" r="8.07"/><circle cx="857.3" cy="1514.1" r="8.07"/>
<circle cx="872.8" cy="1517.8" r="8.07"/><circle cx="890.6" cy="1515.5" r="8.07"/><circle cx="908.0" cy="1527.2" r="8.07"/><circle cx="934.7" cy="1527.2" r="8.07"/><circle cx="967.6" cy="1513.1" r="8.07"/><circle cx="1008.0" cy="1510.8" r="8.07"/><circle cx="1091.1" cy="1500.5" r="8.07"/><circle cx="1065.3" cy="1524.9" r="8.07"/>
<circle cx="749.8" cy="1516.9" r="8.07"/><circle cx="806.1" cy="1529.6" r="8.07"/><circle cx="809.4" cy="1539.0" r="8.07"/><circle cx="816.4" cy="1541.3" r="8.07"/><circle cx="846.9" cy="1531.9" r="8.07"/><circle cx="865.7" cy="1536.6" r="8.07"/><circle cx="855.4" cy="1543.7" r="8.07"/><circle cx="896.2" cy="1541.3" r="8.07"/>
<circle cx="903.3" cy="1543.7" r="8.07"/><circle cx="969.0" cy="1531.9" r="8.07"/><circle cx="972.3" cy="1541.3" r="8.07"/><circle cx="749.3" cy="1538.0" r="8.07"/><circle cx="756.3" cy="1555.4" r="8.07"/><circle cx="800.0" cy="1557.7" r="8.07"/><circle cx="837.6" cy="1562.4" r="8.07"/><circle cx="844.6" cy="1564.8" r="8.07"/>
<circle cx="858.7" cy="1553.1" r="8.07"/><circle cx="875.1" cy="1564.8" r="8.07"/><circle cx="870.4" cy="1569.5" r="8.07"/><circle cx="924.4" cy="1554.5" r="8.07"/><circle cx="990.1" cy="1549.8" r="8.07"/><circle cx="1004.2" cy="1556.3" r="8.07"/><circle cx="1098.1" cy="1554.5" r="8.07"/><circle cx="615.5" cy="1535.2" r="8.07"/>
<circle cx="655.4" cy="1530.5" r="8.07"/><circle cx="456.3" cy="1546.9" r="8.07"/><circle cx="633.3" cy="1567.1" r="8.07"/><circle cx="778.9" cy="1573.2" r="8.07"/><circle cx="775.6" cy="1578.9" r="8.07"/><circle cx="802.3" cy="1569.5" r="8.07"/><circle cx="816.4" cy="1571.8" r="8.07"/><circle cx="854.0" cy="1581.2" r="8.07"/>
<circle cx="898.6" cy="1574.2" r="8.07"/><circle cx="911.3" cy="1569.5" r="8.07"/><circle cx="969.0" cy="1570.9" r="8.07"/><circle cx="943.2" cy="1582.6" r="8.07"/><circle cx="416.0" cy="1570.4" r="8.07"/><circle cx="362.4" cy="1588.3" r="8.07"/><circle cx="500.9" cy="1596.7" r="8.07"/><circle cx="547.9" cy="1604.7" r="8.07"/>
<circle cx="817.8" cy="1582.6" r="8.07"/><circle cx="828.2" cy="1593.0" r="8.07"/><circle cx="823.5" cy="1597.7" r="8.07"/><circle cx="809.4" cy="1600.0" r="8.07"/><circle cx="797.7" cy="1602.3" r="8.07"/><circle cx="775.6" cy="1603.8" r="8.07"/><circle cx="844.6" cy="1597.7" r="8.07"/><circle cx="875.1" cy="1595.3" r="8.07"/>
<circle cx="905.6" cy="1585.9" r="8.07"/><circle cx="924.4" cy="1590.6" r="8.07"/><circle cx="931.5" cy="1593.0" r="8.07"/><circle cx="929.1" cy="1602.3" r="8.07"/><circle cx="892.5" cy="1604.7" r="8.07"/><circle cx="905.6" cy="1607.0" r="8.07"/><circle cx="861.0" cy="1609.4" r="8.07"/><circle cx="846.9" cy="1613.1" r="8.07"/>
<circle cx="870.4" cy="1621.1" r="8.07"/><circle cx="893.9" cy="1621.1" r="8.07"/><circle cx="818.8" cy="1621.1" r="8.07"/><circle cx="821.1" cy="1628.2" r="8.07"/><circle cx="764.8" cy="1620.2" r="8.07"/><circle cx="794.4" cy="1630.5" r="8.07"/><circle cx="882.2" cy="1632.9" r="8.07"/><circle cx="839.9" cy="1630.5" r="8.07"/>
<circle cx="832.9" cy="1639.9" r="8.07"/><circle cx="828.2" cy="1644.6" r="8.07"/><circle cx="943.2" cy="1614.1" r="8.07"/><circle cx="929.1" cy="1621.1" r="8.07"/><circle cx="929.1" cy="1628.2" r="8.07"/><circle cx="987.8" cy="1616.4" r="8.07"/><circle cx="651.2" cy="1615.5" r="8.07"/><circle cx="674.2" cy="1623.5" r="8.07"/>
<circle cx="1062.0" cy="1639.0" r="8.07"/><circle cx="723.9" cy="1646.0" r="8.07"/><circle cx="716.4" cy="1650.2" r="8.07"/><circle cx="709.4" cy="1656.3" r="8.07"/><circle cx="908.0" cy="1648.4" r="8.07"/><circle cx="911.3" cy="1653.1" r="8.07"/><circle cx="936.2" cy="1651.6" r="8.07"/><circle cx="947.9" cy="1648.4" r="8.07"/>
<circle cx="959.6" cy="1658.7" r="8.07"/><circle cx="982.2" cy="1646.9" r="8.07"/><circle cx="801.4" cy="1661.0" r="8.07"/><circle cx="808.0" cy="1663.4" r="8.07"/><circle cx="823.5" cy="1658.7" r="8.07"/><circle cx="837.6" cy="1670.4" r="8.07"/><circle cx="846.9" cy="1668.1" r="8.07"/><circle cx="854.0" cy="1661.0" r="8.07"/>
<circle cx="915.0" cy="1662.4" r="8.07"/><circle cx="545.1" cy="1667.1" r="8.07"/><circle cx="646.5" cy="1670.4" r="8.07"/><circle cx="725.8" cy="1671.8" r="8.07"/><circle cx="851.6" cy="1677.5" r="8.07"/><circle cx="872.8" cy="1673.7" r="8.07"/><circle cx="890.1" cy="1674.2" r="8.07"/><circle cx="932.4" cy="1671.4" r="8.07"/>
<circle cx="809.4" cy="1683.6" r="8.07"/><circle cx="770.9" cy="1679.8" r="8.07"/><circle cx="604.2" cy="1685.9" r="8.07"/><circle cx="684.0" cy="1685.0" r="8.07"/><circle cx="702.8" cy="1695.3" r="8.07"/><circle cx="757.7" cy="1690.6" r="8.07"/><circle cx="785.9" cy="1690.6" r="8.07"/><circle cx="767.1" cy="1696.2" r="8.07"/>
<circle cx="731.9" cy="1701.9" r="8.07"/><circle cx="746.0" cy="1703.3" r="8.07"/><circle cx="774.2" cy="1700.9" r="8.07"/><circle cx="839.9" cy="1699.5" r="8.07"/><circle cx="854.0" cy="1698.6" r="8.07"/><circle cx="871.8" cy="1702.3" r="8.07"/><circle cx="889.2" cy="1698.6" r="8.07"/><circle cx="910.3" cy="1696.2" r="8.07"/>
<circle cx="900.9" cy="1708.0" r="8.07"/><circle cx="778.9" cy="1708.0" r="8.07"/><circle cx="785.9" cy="1715.0" r="8.07"/><circle cx="797.7" cy="1723.5" r="8.07"/><circle cx="898.6" cy="1725.8" r="8.07"/><circle cx="876.5" cy="1719.7" r="8.07"/><circle cx="854.0" cy="1719.7" r="8.07"/><circle cx="724.9" cy="1723.5" r="8.07"/>
<circle cx="761.5" cy="1729.1" r="8.07"/><circle cx="824.9" cy="1732.4" r="8.07"/><circle cx="842.3" cy="1733.8" r="8.07"/><circle cx="580.8" cy="1711.7" r="8.07"/><circle cx="587.8" cy="1739.9" r="8.07"/><circle cx="625.4" cy="1737.1" r="8.07"/><circle cx="626.3" cy="1754.9" r="8.07"/><circle cx="696.7" cy="1741.8" r="8.07"/>
<circle cx="739.0" cy="1745.5" r="8.07"/><circle cx="741.3" cy="1750.2" r="8.07"/><circle cx="721.1" cy="1749.3" r="8.07"/><circle cx="778.9" cy="1744.1" r="8.07"/><circle cx="809.4" cy="1743.2" r="8.07"/><circle cx="807.0" cy="1749.3" r="8.07"/><circle cx="799.1" cy="1751.6" r="8.07"/><circle cx="864.3" cy="1748.8" r="8.07"/>
<circle cx="937.6" cy="1739.4" r="8.07"/><circle cx="862.0" cy="1764.3" r="8.07"/><circle cx="821.1" cy="1771.4" r="8.07"/><circle cx="814.1" cy="1775.1" r="8.07"/><circle cx="797.7" cy="1783.1" r="8.07"/><circle cx="629.6" cy="1788.7" r="8.07"/><circle cx="675.6" cy="1799.5" r="8.07"/><circle cx="682.6" cy="1801.9" r="8.07"/>
<circle cx="385.9" cy="1810.3" r="8.07"/><circle cx="439.0" cy="1813.1" r="8.07"/><circle cx="789.7" cy="1807.5" r="8.07"/><circle cx="648.8" cy="1818.3" r="8.07"/><circle cx="692.0" cy="1819.7" r="8.07"/><circle cx="728.6" cy="1819.2" r="8.07"/><circle cx="914.1" cy="1815.0" r="8.07"/><circle cx="909.4" cy="1827.7" r="8.07"/>
<circle cx="774.2" cy="1835.7" r="8.07"/><circle cx="799.1" cy="1845.5" r="8.07"/><circle cx="548.8" cy="1859.2" r="8.07"/><circle cx="377.5" cy="1873.2" r="8.07"/><circle cx="708.5" cy="1860.6" r="8.07"/><circle cx="750.7" cy="1856.8" r="8.07"/><circle cx="740.4" cy="1864.3" r="8.07"/><circle cx="776.5" cy="1857.3" r="8.07"/>
<circle cx="726.3" cy="1878.4" r="8.07"/><circle cx="787.3" cy="1877.9" r="8.07"/><circle cx="596.7" cy="1889.2" r="8.07"/><circle cx="610.8" cy="1902.3" r="8.07"/><circle cx="659.2" cy="1912.2" r="8.07"/><circle cx="655.4" cy="1920.7" r="8.07"/><circle cx="549.8" cy="1926.3" r="8.07"/><circle cx="704.7" cy="1938.0" r="8.07"/>
<circle cx="824.9" cy="1934.7" r="8.07"/><circle cx="533.3" cy="1419.2" r="8.07"/><circle cx="516.9" cy="1434.7" r="8.07"/><circle cx="451.2" cy="1484.0" r="8.07"/><circle cx="1003.2" cy="885.1" r="8.07"/><circle cx="865.3" cy="985.1" r="8.07"/><circle cx="1065.3" cy="993.2" r="8.07"/><circle cx="1063.4" cy="1042.9" r="8.07"/>
<circle cx="1095.1" cy="1053.7" r="8.07"/><circle cx="974.6" cy="1060.2" r="8.07"/><circle cx="1081.7" cy="1073.0" r="8.07"/><circle cx="1120.6" cy="1098.4" r="8.07"/><circle cx="1101.9" cy="1114.9" r="8.07"/><circle cx="1151.6" cy="1165.2" r="8.07"/><circle cx="1180.8" cy="1078.2" r="8.07"/><circle cx="1190.0" cy="1082.2" r="8.07"/>
<circle cx="1282.6" cy="1140.8" r="8.07"/><circle cx="1105.3" cy="1554.7" r="8.07"/><circle cx="976.8" cy="1200.0" r="8.07"/><circle cx="1072.2" cy="1203.1" r="8.07"/><circle cx="1122.3" cy="1207.0" r="8.07"/><circle cx="1185.7" cy="1202.3" r="8.07"/><circle cx="953.3" cy="1214.1" r="8.07"/><circle cx="1140.3" cy="1217.2" r="8.07"/>
<circle cx="1104.3" cy="1218.0" r="8.07"/><circle cx="999.5" cy="1221.9" r="8.07"/><circle cx="984.6" cy="1228.2" r="8.07"/><circle cx="1019.8" cy="1222.7" r="8.07"/><circle cx="1022.9" cy="1227.4" r="8.07"/><circle cx="1016.7" cy="1230.5" r="8.07"/><circle cx="1037.8" cy="1229.0" r="8.07"/><circle cx="989.3" cy="1236.8" r="8.07"/>
<circle cx="948.6" cy="1237.6" r="8.07"/><circle cx="1085.5" cy="1236.8" r="8.07"/><circle cx="990.1" cy="1257.9" r="8.07"/><circle cx="1102.0" cy="1256.3" r="8.07"/><circle cx="967.4" cy="1263.4" r="8.07"/><circle cx="1026.1" cy="1265.7" r="8.07"/><circle cx="1032.3" cy="1273.6" r="8.07"/><circle cx="1058.9" cy="1273.6" r="8.07"/>
<circle cx="985.4" cy="1273.6" r="8.07"/><circle cx="994.8" cy="1270.4" r="8.07"/><circle cx="960.3" cy="1281.4" r="8.07"/><circle cx="954.1" cy="1287.6" r="8.07"/><circle cx="1122.3" cy="1277.5" r="8.07"/><circle cx="1012.0" cy="1285.3" r="8.07"/><circle cx="1008.9" cy="1290.8" r="8.07"/><circle cx="1059.7" cy="1293.1" r="8.07"/>
<circle cx="1092.6" cy="1295.5" r="8.07"/><circle cx="1111.4" cy="1300.2" r="8.07"/><circle cx="1150.5" cy="1297.0" r="8.07"/><circle cx="944.7" cy="1290.8" r="8.07"/><circle cx="976.8" cy="1297.0" r="8.07"/><circle cx="947.0" cy="1309.5" r="8.07"/><circle cx="977.6" cy="1308.0" r="8.07"/><circle cx="973.6" cy="1312.7" r="8.07"/>
<circle cx="991.6" cy="1309.5" r="8.07"/><circle cx="1038.6" cy="1314.2" r="8.07"/><circle cx="1057.4" cy="1315.0" r="8.07"/><circle cx="1069.1" cy="1320.5" r="8.07"/><circle cx="1091.0" cy="1316.6" r="8.07"/><circle cx="1109.0" cy="1317.4" r="8.07"/><circle cx="1122.3" cy="1321.3" r="8.07"/><circle cx="1084.0" cy="1326.8" r="8.07"/>
<circle cx="1079.3" cy="1323.6" r="8.07"/><circle cx="977.6" cy="1322.1" r="8.07"/><circle cx="983.0" cy="1325.2" r="8.07"/><circle cx="970.5" cy="1331.5" r="8.07"/><circle cx="995.6" cy="1330.7" r="8.07"/><circle cx="1029.2" cy="1329.9" r="8.07"/><circle cx="948.6" cy="1340.8" r="8.07"/><circle cx="960.3" cy="1347.1" r="8.07"/>
<circle cx="955.6" cy="1341.6" r="8.07"/><circle cx="975.2" cy="1339.3" r="8.07"/><circle cx="988.5" cy="1343.2" r="8.07"/><circle cx="999.5" cy="1344.0" r="8.07"/><circle cx="1024.5" cy="1351.0" r="8.07"/><circle cx="1040.2" cy="1347.1" r="8.07"/><circle cx="1035.5" cy="1354.9" r="8.07"/><circle cx="1048.0" cy="1354.1" r="8.07"/>
<circle cx="1058.9" cy="1356.5" r="8.07"/><circle cx="1069.9" cy="1354.1" r="8.07"/><circle cx="1080.1" cy="1349.5" r="8.07"/><circle cx="1133.3" cy="1352.6" r="8.07"/><circle cx="941.6" cy="1348.7" r="8.07"/><circle cx="945.5" cy="1356.5" r="8.07"/><circle cx="961.9" cy="1359.6" r="8.07"/><circle cx="978.3" cy="1365.9" r="8.07"/>
<circle cx="997.9" cy="1368.2" r="8.07"/><circle cx="1015.1" cy="1370.6" r="8.07"/><circle cx="1032.3" cy="1364.3" r="8.07"/><circle cx="1040.2" cy="1370.6" r="8.07"/><circle cx="1052.7" cy="1365.9" r="8.07"/><circle cx="1076.2" cy="1372.9" r="8.07"/><circle cx="960.3" cy="1374.5" r="8.07"/><circle cx="986.2" cy="1380.0" r="8.07"/>
<circle cx="994.0" cy="1383.1" r="8.07"/><circle cx="1004.2" cy="1376.8" r="8.07"/><circle cx="1021.4" cy="1380.0" r="8.07"/><circle cx="1059.7" cy="1382.3" r="8.07"/><circle cx="1077.7" cy="1380.0" r="8.07"/><circle cx="1081.6" cy="1387.8" r="8.07"/><circle cx="1104.3" cy="1389.4" r="8.07"/><circle cx="1109.8" cy="1387.0" r="8.07"/>
<circle cx="1030.8" cy="1388.6" r="8.07"/><circle cx="1025.3" cy="1394.1" r="8.07"/><circle cx="943.1" cy="1373.7" r="8.07"/><circle cx="954.1" cy="1396.4" r="8.07"/><circle cx="963.5" cy="1392.5" r="8.07"/><circle cx="991.6" cy="1403.4" r="8.07"/><circle cx="985.4" cy="1408.1" r="8.07"/><circle cx="1029.2" cy="1401.9" r="8.07"/>
<circle cx="1048.0" cy="1411.3" r="8.07"/><circle cx="1055.0" cy="1415.2" r="8.07"/><circle cx="1058.9" cy="1418.3" r="8.07"/><circle cx="1108.2" cy="1409.7" r="8.07"/><circle cx="969.0" cy="1408.1" r="8.07"/><circle cx="972.1" cy="1416.7" r="8.07"/><circle cx="958.8" cy="1419.1" r="8.07"/><circle cx="944.7" cy="1403.4" r="8.07"/>
<circle cx="1024.5" cy="1419.1" r="8.07"/><circle cx="1021.4" cy="1426.9" r="8.07"/><circle cx="1001.8" cy="1423.8" r="8.07"/><circle cx="954.1" cy="1428.5" r="8.07"/><circle cx="946.3" cy="1434.7" r="8.07"/><circle cx="971.3" cy="1444.1" r="8.07"/><circle cx="951.0" cy="1446.5" r="8.07"/><circle cx="1016.7" cy="1448.8" r="8.07"/>
<circle cx="963.5" cy="1434.7" r="8.07"/><circle cx="993.2" cy="1462.9" r="8.07"/><circle cx="947.8" cy="1464.5" r="8.07"/><circle cx="960.3" cy="1469.2" r="8.07"/><circle cx="966.6" cy="1475.4" r="8.07"/><circle cx="973.6" cy="1481.7" r="8.07"/><circle cx="951.0" cy="1484.8" r="8.07"/><circle cx="957.2" cy="1492.6" r="8.07"/>
<circle cx="944.7" cy="1456.7" r="8.07"/><circle cx="963.5" cy="1497.3" r="8.07"/><circle cx="900.4" cy="1277.2" r="8.07"/><circle cx="883.5" cy="1280.1" r="8.07"/><circle cx="899.0" cy="1277.1" r="8.07"/><circle cx="920.6" cy="1250.9" r="8.07"/><circle cx="920.5" cy="1334.3" r="8.07"/><circle cx="926.4" cy="1344.6" r="8.07"/>
<circle cx="918.5" cy="1340.5" r="8.07"/><circle cx="938.7" cy="1354.9" r="8.07"/><circle cx="925.0" cy="1353.0" r="8.07"/><circle cx="932.7" cy="1346.8" r="8.07"/><circle cx="941.7" cy="1344.6" r="8.07"/><circle cx="938.5" cy="1346.8" r="8.07"/><circle cx="903.9" cy="1352.1" r="8.07"/><circle cx="918.5" cy="1343.3" r="8.07"/>
<circle cx="887.8" cy="1328.6" r="8.07"/><circle cx="893.4" cy="1325.7" r="8.07"/><circle cx="887.1" cy="1324.1" r="8.07"/><circle cx="858.0" cy="1336.7" r="8.07"/><circle cx="849.2" cy="1356.8" r="8.07"/><circle cx="842.8" cy="1366.3" r="8.07"/><circle cx="858.8" cy="1362.7" r="8.07"/><circle cx="867.6" cy="1371.6" r="8.07"/>
<circle cx="848.3" cy="1402.9" r="8.07"/><circle cx="862.6" cy="1404.4" r="8.07"/><circle cx="858.1" cy="1398.1" r="8.07"/><circle cx="858.1" cy="1387.6" r="8.07"/><circle cx="855.9" cy="1387.6" r="8.07"/><circle cx="845.9" cy="1418.1" r="8.07"/><circle cx="855.2" cy="1413.0" r="8.07"/><circle cx="870.2" cy="1421.7" r="8.07"/>
<circle cx="891.5" cy="1378.7" r="8.07"/><circle cx="903.8" cy="1375.8" r="8.07"/><circle cx="920.3" cy="1406.0" r="8.07"/><circle cx="927.3" cy="1397.3" r="8.07"/><circle cx="923.7" cy="1397.5" r="8.07"/><circle cx="895.2" cy="1429.9" r="8.07"/><circle cx="906.4" cy="1439.0" r="8.07"/><circle cx="890.8" cy="1432.4" r="8.07"/>
<circle cx="900.0" cy="1428.2" r="8.07"/><circle cx="895.1" cy="1428.1" r="8.07"/><circle cx="934.9" cy="1429.2" r="8.07"/><circle cx="931.9" cy="1428.0" r="8.07"/><circle cx="934.1" cy="1436.9" r="8.07"/><circle cx="925.9" cy="1433.2" r="8.07"/><circle cx="887.3" cy="1474.1" r="8.07"/><circle cx="874.4" cy="1473.3" r="8.07"/>
<circle cx="877.1" cy="1467.3" r="8.07"/><circle cx="882.0" cy="1474.0" r="8.07"/><circle cx="876.3" cy="1479.8" r="8.07"/><circle cx="870.2" cy="1544.5" r="8.07"/><circle cx="862.6" cy="1547.3" r="8.07"/><circle cx="871.7" cy="1543.3" r="8.07"/><circle cx="899.4" cy="1545.8" r="8.07"/><circle cx="898.3" cy="1544.0" r="8.07"/>
<circle cx="850.6" cy="1563.4" r="8.07"/><circle cx="851.2" cy="1574.7" r="8.07"/><circle cx="818.1" cy="1588.9" r="8.07"/><circle cx="820.8" cy="1587.5" r="8.07"/><circle cx="840.0" cy="1646.4" r="8.07"/><circle cx="826.2" cy="1642.6" r="8.07"/><circle cx="833.2" cy="1635.8" r="8.07"/><circle cx="820.0" cy="1628.8" r="8.07"/>
<circle cx="830.0" cy="1624.4" r="8.07"/><circle cx="773.5" cy="1699.3" r="8.07"/><circle cx="780.6" cy="1707.1" r="8.07"/><circle cx="774.1" cy="1696.0" r="8.07"/><circle cx="777.4" cy="1710.2" r="8.07"/><circle cx="788.2" cy="1716.9" r="8.07"/><circle cx="790.1" cy="1708.9" r="8.07"/><circle cx="916.3" cy="1651.4" r="8.07"/>
<circle cx="910.3" cy="1644.9" r="8.07"/><circle cx="930.1" cy="1625.2" r="8.07"/><circle cx="919.3" cy="1626.2" r="8.07"/><circle cx="791.5" cy="1750.9" r="8.07"/><circle cx="806.3" cy="1751.5" r="8.07"/><circle cx="737.7" cy="1751.0" r="8.07"/><circle cx="746.5" cy="1753.6" r="8.07"/><circle cx="723.7" cy="1641.2" r="8.07"/>
<circle cx="714.4" cy="1653.3" r="8.07"/><circle cx="799.9" cy="1770.0" r="8.07"/><circle cx="816.8" cy="1769.8" r="8.07"/><circle cx="810.9" cy="1541.6" r="8.07"/><circle cx="806.4" cy="1540.0" r="8.07"/><circle cx="879.9" cy="1552.3" r="8.07"/><circle cx="873.0" cy="1561.9" r="8.07"/><circle cx="773.4" cy="1574.1" r="8.07"/>
<circle cx="773.3" cy="1583.5" r="8.07"/><circle cx="896.3" cy="1703.1" r="8.07"/><circle cx="895.3" cy="1695.6" r="8.07"/><circle cx="658.0" cy="1912.2" r="8.07"/><circle cx="673.6" cy="1799.5" r="8.07"/><circle cx="863.9" cy="1529.6" r="8.07"/><circle cx="870.0" cy="1547.4" r="8.07"/><circle cx="908.7" cy="1550.5" r="8.07"/>
<circle cx="906.1" cy="1541.9" r="8.07"/><circle cx="902.6" cy="1556.6" r="8.07"/><circle cx="840.6" cy="1567.1" r="8.07"/><circle cx="853.4" cy="1568.4" r="8.07"/><circle cx="871.7" cy="1580.5" r="8.07"/><circle cx="867.3" cy="1568.1" r="8.07"/><circle cx="879.4" cy="1571.4" r="8.07"/><circle cx="880.0" cy="1521.6" r="8.07"/>
<circle cx="886.6" cy="1511.5" r="8.07"/><circle cx="919.7" cy="1578.8" r="8.07"/><circle cx="923.0" cy="1597.5" r="8.07"/><circle cx="815.1" cy="1540.4" r="8.07"/><circle cx="865.7" cy="1549.0" r="8.07"/><circle cx="854.5" cy="1536.4" r="8.07"/><circle cx="904.4" cy="1558.9" r="8.07"/><circle cx="881.0" cy="1555.5" r="8.07"/>
<circle cx="858.3" cy="1613.9" r="8.07"/><circle cx="835.1" cy="1641.4" r="8.07"/>
</g>
<g fill="#17becf" stroke="#17becf" stroke-width="4.17" fill-opacity=".6" stroke-opacity=".6">
<circle cx="1457.5" cy="1234.9" r="8.07"/><circle cx="1469.7" cy="1299.8" r="8.07"/><circle cx="1480.4" cy="1317.5" r="8.07"/><circle cx="1487.6" cy="1233.0" r="8.07"/><circle cx="1535.6" cy="1285.5" r="8.07"/><circle cx="1585.4" cy="1165.8" r="8.07"/><circle cx="1551.3" cy="1276.5" r="8.07"/><circle cx="1487.7" cy="1330.3" r="8.07"/>
<circle cx="1484.1" cy="1189.8" r="8.07"/><circle cx="1374.6" cy="1322.6" r="8.07"/><circle cx="1557.5" cy="1333.3" r="8.07"/><circle cx="1562.3" cy="1255.0" r="8.07"/><circle cx="1569.4" cy="1130.3" r="8.07"/><circle cx="1556.6" cy="1284.0" r="8.07"/><circle cx="1484.8" cy="1316.4" r="8.07"/><circle cx="1536.6" cy="1293.9" r="8.07"/>
<circle cx="1493.8" cy="1341.2" r="8.07"/><circle cx="1543.3" cy="1169.3" r="8.07"/><circle cx="1593.9" cy="1208.9" r="8.07"/><circle cx="1592.6" cy="1196.2" r="8.07"/><circle cx="1590.1" cy="1302.6" r="8.07"/><circle cx="1520.8" cy="1232.9" r="8.07"/><circle cx="1477.5" cy="1274.0" r="8.07"/><circle cx="1570.6" cy="1265.2" r="8.07"/>
<circle cx="1532.2" cy="1357.5" r="8.07"/><circle cx="1550.8" cy="1180.4" r="8.07"/><circle cx="1436.5" cy="1405.1" r="8.07"/><circle cx="1541.0" cy="1230.2" r="8.07"/><circle cx="1565.1" cy="1245.5" r="8.07"/><circle cx="1560.7" cy="1277.2" r="8.07"/><circle cx="1501.5" cy="1299.4" r="8.07"/><circle cx="1500.8" cy="1187.0" r="8.07"/>
<circle cx="1489.6" cy="1239.6" r="8.07"/><circle cx="1584.0" cy="1232.8" r="8.07"/><circle cx="1481.8" cy="1303.4" r="8.07"/><circle cx="1519.3" cy="1333.8" r="8.07"/><circle cx="1510.5" cy="1244.0" r="8.07"/><circle cx="1520.4" cy="1354.1" r="8.07"/><circle cx="1420.5" cy="1264.5" r="8.07"/><circle cx="1423.3" cy="1192.8" r="8.07"/>
<circle cx="1559.1" cy="1277.9" r="8.07"/><circle cx="1574.3" cy="1334.6" r="8.07"/><circle cx="1511.3" cy="1206.3" r="8.07"/><circle cx="1544.3" cy="1265.2" r="8.07"/><circle cx="1401.7" cy="1224.2" r="8.07"/><circle cx="1421.5" cy="1178.7" r="8.07"/><circle cx="1448.3" cy="1197.4" r="8.07"/><circle cx="1415.8" cy="1381.5" r="8.07"/>
<circle cx="1398.5" cy="1235.2" r="8.07"/><circle cx="1516.7" cy="1238.1" r="8.07"/><circle cx="1598.2" cy="1270.7" r="8.07"/><circle cx="1562.9" cy="1155.2" r="8.07"/><circle cx="1502.8" cy="1254.4" r="8.07"/><circle cx="1533.8" cy="1301.5" r="8.07"/><circle cx="1432.4" cy="1233.2" r="8.07"/><circle cx="1516.6" cy="1318.8" r="8.07"/>
<circle cx="1547.1" cy="1254.3" r="8.07"/><circle cx="1522.6" cy="1243.6" r="8.07"/><circle cx="1578.5" cy="1243.5" r="8.07"/><circle cx="1547.5" cy="1232.3" r="8.07"/><circle cx="1526.6" cy="1232.3" r="8.07"/><circle cx="1385.2" cy="1389.1" r="8.07"/><circle cx="1453.7" cy="1263.7" r="8.07"/><circle cx="1598.7" cy="1265.0" r="8.07"/>
<circle cx="1589.0" cy="1223.9" r="8.07"/><circle cx="1475.6" cy="1293.6" r="8.07"/><circle cx="1586.2" cy="1276.2" r="8.07"/><circle cx="1308.6" cy="1274.0" r="8.07"/><circle cx="1371.1" cy="1238.0" r="8.07"/><circle cx="1451.4" cy="1227.8" r="8.07"/><circle cx="1427.7" cy="1276.3" r="8.07"/><circle cx="1544.7" cy="1188.6" r="8.07"/>
<circle cx="1502.3" cy="1276.5" r="8.07"/><circle cx="1562.4" cy="1269.9" r="8.07"/><circle cx="1369.8" cy="1252.5" r="8.07"/><circle cx="1462.2" cy="1335.1" r="8.07"/><circle cx="1556.3" cy="1158.2" r="8.07"/><circle cx="1541.8" cy="1359.2" r="8.07"/><circle cx="1594.2" cy="1303.8" r="8.07"/><circle cx="1561.5" cy="1222.4" r="8.07"/>
<circle cx="1539.0" cy="1163.7" r="8.07"/><circle cx="1527.9" cy="1239.6" r="8.07"/><circle cx="1548.0" cy="1209.7" r="8.07"/><circle cx="1400.5" cy="1217.7" r="8.07"/><circle cx="1546.6" cy="1276.4" r="8.07"/><circle cx="1592.3" cy="1207.7" r="8.07"/><circle cx="1420.7" cy="1306.2" r="8.07"/><circle cx="1275.1" cy="1349.7" r="8.07"/>
<circle cx="1492.8" cy="1352.9" r="8.07"/><circle cx="1324.5" cy="1224.8" r="8.07"/><circle cx="1572.0" cy="1235.2" r="8.07"/><circle cx="1552.3" cy="1187.6" r="8.07"/><circle cx="1486.7" cy="1280.5" r="8.07"/><circle cx="1428.1" cy="1345.5" r="8.07"/><circle cx="1500.4" cy="1410.8" r="8.07"/><circle cx="1525.1" cy="1306.2" r="8.07"/>
<circle cx="1576.0" cy="1247.0" r="8.07"/><circle cx="1580.6" cy="1292.5" r="8.07"/><circle cx="1552.5" cy="1339.8" r="8.07"/><circle cx="1508.7" cy="1269.6" r="8.07"/><circle cx="1427.1" cy="1330.0" r="8.07"/><circle cx="1479.6" cy="1325.1" r="8.07"/><circle cx="1523.4" cy="1350.5" r="8.07"/><circle cx="1487.5" cy="1366.8" r="8.07"/>
<circle cx="1483.8" cy="1346.7" r="8.07"/><circle cx="1511.0" cy="1263.1" r="8.07"/><circle cx="1571.7" cy="1300.3" r="8.07"/><circle cx="1588.4" cy="1281.9" r="8.07"/><circle cx="1479.7" cy="1164.4" r="8.07"/><circle cx="1582.7" cy="1231.3" r="8.07"/><circle cx="1494.8" cy="1204.1" r="8.07"/><circle cx="1497.8" cy="1300.2" r="8.07"/>
<circle cx="1442.1" cy="1309.6" r="8.07"/><circle cx="1498.5" cy="1272.9" r="8.07"/><circle cx="1500.1" cy="1247.4" r="8.07"/><circle cx="1524.1" cy="1179.0" r="8.07"/><circle cx="1559.7" cy="1244.6" r="8.07"/><circle cx="1511.1" cy="1313.3" r="8.07"/><circle cx="1513.7" cy="1288.2" r="8.07"/><circle cx="1360.0" cy="1395.0" r="8.07"/>
<circle cx="1518.1" cy="1258.6" r="8.07"/><circle cx="1479.2" cy="1264.6" r="8.07"/><circle cx="1515.3" cy="1230.9" r="8.07"/><circle cx="1426.9" cy="1290.4" r="8.07"/><circle cx="1412.0" cy="1311.5" r="8.07"/><circle cx="1421.4" cy="1243.6" r="8.07"/><circle cx="1452.8" cy="1313.2" r="8.07"/><circle cx="1584.7" cy="1232.2" r="8.07"/>
<circle cx="1552.7" cy="1364.9" r="8.07"/><circle cx="1502.0" cy="1269.0" r="8.07"/><circle cx="1462.3" cy="1309.7" r="8.07"/><circle cx="1434.4" cy="1349.1" r="8.07"/><circle cx="1531.9" cy="1261.4" r="8.07"/><circle cx="1556.6" cy="1174.8" r="8.07"/><circle cx="1511.8" cy="1270.3" r="8.07"/><circle cx="1537.2" cy="1237.3" r="8.07"/>
<circle cx="1419.4" cy="1320.4" r="8.07"/><circle cx="1502.5" cy="1295.1" r="8.07"/><circle cx="1593.8" cy="1245.8" r="8.07"/><circle cx="1477.6" cy="1382.9" r="8.07"/><circle cx="1434.8" cy="1220.4" r="8.07"/><circle cx="1506.0" cy="1166.0" r="8.07"/><circle cx="1555.4" cy="1122.1" r="8.07"/><circle cx="1580.5" cy="1245.3" r="8.07"/>
<circle cx="1465.9" cy="1260.7" r="8.07"/><circle cx="1416.0" cy="1228.5" r="8.07"/><circle cx="1499.6" cy="1250.1" r="8.07"/><circle cx="1588.4" cy="1243.0" r="8.07"/><circle cx="1421.2" cy="1297.0" r="8.07"/><circle cx="1301.4" cy="1211.5" r="8.07"/><circle cx="1572.8" cy="1228.0" r="8.07"/><circle cx="1505.5" cy="1375.0" r="8.07"/>
<circle cx="1462.0" cy="1396.2" r="8.07"/><circle cx="1538.0" cy="1332.2" r="8.07"/><circle cx="1546.4" cy="1278.2" r="8.07"/><circle cx="1502.0" cy="1217.3" r="8.07"/><circle cx="1487.7" cy="1190.7" r="8.07"/><circle cx="1399.7" cy="1231.3" r="8.07"/><circle cx="1541.1" cy="1204.5" r="8.07"/><circle cx="1401.7" cy="1238.5" r="8.07"/>
<circle cx="1473.6" cy="1274.2" r="8.07"/><circle cx="1454.8" cy="1332.4" r="8.07"/><circle cx="1398.4" cy="1261.1" r="8.07"/><circle cx="1496.5" cy="1194.2" r="8.07"/><circle cx="1445.9" cy="1378.4" r="8.07"/><circle cx="1518.0" cy="1255.0" r="8.07"/><circle cx="1518.8" cy="1163.4" r="8.07"/><circle cx="1463.0" cy="1271.7" r="8.07"/>
<circle cx="1585.0" cy="1279.2" r="8.07"/><circle cx="1421.9" cy="1265.3" r="8.07"/><circle cx="1455.5" cy="1326.8" r="8.07"/><circle cx="1511.2" cy="1255.3" r="8.07"/><circle cx="1373.3" cy="1375.1" r="8.07"/><circle cx="1583.2" cy="1254.7" r="8.07"/><circle cx="1537.7" cy="1295.6" r="8.07"/><circle cx="1431.7" cy="1268.7" r="8.07"/>
<circle cx="1564.0" cy="1200.4" r="8.07"/><circle cx="1500.9" cy="1225.7" r="8.07"/><circle cx="1496.2" cy="1177.5" r="8.07"/><circle cx="1467.2" cy="1216.5" r="8.07"/><circle cx="1425.3" cy="1146.2" r="8.07"/><circle cx="1598.5" cy="1326.2" r="8.07"/><circle cx="1471.7" cy="1324.0" r="8.07"/><circle cx="1498.3" cy="1256.5" r="8.07"/>
<circle cx="1559.9" cy="1294.6" r="8.07"/><circle cx="1409.4" cy="1310.7" r="8.07"/><circle cx="1416.5" cy="1316.3" r="8.07"/><circle cx="1444.0" cy="1324.9" r="8.07"/><circle cx="1352.2" cy="1328.7" r="8.07"/><circle cx="1406.7" cy="1293.0" r="8.07"/><circle cx="1560.4" cy="1256.3" r="8.07"/><circle cx="1571.6" cy="1232.7" r="8.07"/>
<circle cx="1491.7" cy="1397.2" r="8.07"/><circle cx="1584.6" cy="1259.3" r="8.07"/><circle cx="1483.6" cy="1248.6" r="8.07"/><circle cx="1477.6" cy="1300.6" r="8.07"/><circle cx="1596.5" cy="1272.1" r="8.07"/><circle cx="1360.9" cy="1312.1" r="8.07"/><circle cx="1550.8" cy="1221.8" r="8.07"/><circle cx="1507.0" cy="1250.4" r="8.07"/>
<circle cx="1582.7" cy="1233.5" r="8.07"/><circle cx="1449.0" cy="1313.8" r="8.07"/><circle cx="1477.5" cy="1218.7" r="8.07"/><circle cx="1541.2" cy="1223.6" r="8.07"/><circle cx="1464.5" cy="1312.4" r="8.07"/><circle cx="1375.5" cy="1119.0" r="8.07"/><circle cx="1469.9" cy="1311.0" r="8.07"/><circle cx="1397.9" cy="1301.4" r="8.07"/>
<circle cx="1527.0" cy="1206.9" r="8.07"/><circle cx="1517.9" cy="1323.7" r="8.07"/><circle cx="1514.7" cy="1168.6" r="8.07"/><circle cx="1537.4" cy="1278.8" r="8.07"/><circle cx="1413.1" cy="1257.7" r="8.07"/><circle cx="1322.3" cy="1320.4" r="8.07"/><circle cx="1511.9" cy="1315.4" r="8.07"/><circle cx="1585.4" cy="1247.5" r="8.07"/>
<circle cx="1576.9" cy="1191.6" r="8.07"/><circle cx="1362.0" cy="1365.8" r="8.07"/><circle cx="1522.6" cy="1276.6" r="8.07"/><circle cx="1460.5" cy="1230.4" r="8.07"/><circle cx="1559.9" cy="1267.2" r="8.07"/><circle cx="1592.3" cy="1228.9" r="8.07"/><circle cx="1561.6" cy="1158.2" r="8.07"/><circle cx="1486.1" cy="1211.0" r="8.07"/>
<circle cx="1509.9" cy="1362.2" r="8.07"/><circle cx="1413.0" cy="1305.9" r="8.07"/><circle cx="1455.5" cy="1291.8" r="8.07"/><circle cx="1508.3" cy="1177.7" r="8.07"/><circle cx="1512.2" cy="1269.0" r="8.07"/><circle cx="1443.2" cy="1209.8" r="8.07"/><circle cx="1482.3" cy="1345.4" r="8.07"/><circle cx="1507.0" cy="1266.5" r="8.07"/>
<circle cx="1440.3" cy="1274.1" r="8.07"/><circle cx="1539.5" cy="1262.5" r="8.07"/><circle cx="1561.1" cy="1329.5" r="8.07"/><circle cx="1467.0" cy="1272.8" r="8.07"/><circle cx="1543.4" cy="1283.8" r="8.07"/><circle cx="1551.7" cy="1168.1" r="8.07"/><circle cx="1383.0" cy="1318.1" r="8.07"/><circle cx="1403.8" cy="1284.7" r="8.07"/>
<circle cx="1468.2" cy="1221.6" r="8.07"/><circle cx="1375.1" cy="1217.9" r="8.07"/><circle cx="1440.5" cy="1389.0" r="8.07"/><circle cx="1361.4" cy="1356.8" r="8.07"/><circle cx="1524.3" cy="1197.5" r="8.07"/><circle cx="1500.5" cy="1271.1" r="8.07"/><circle cx="1567.3" cy="1136.2" r="8.07"/><circle cx="1316.7" cy="1131.1" r="8.07"/>
<circle cx="1404.4" cy="1235.3" r="8.07"/><circle cx="1588.2" cy="1213.1" r="8.07"/><circle cx="1253.1" cy="1140.4" r="8.07"/><circle cx="1492.6" cy="1138.3" r="8.07"/><circle cx="1198.8" cy="1213.6" r="8.07"/><circle cx="1463.2" cy="1282.3" r="8.07"/><circle cx="1420.2" cy="1218.3" r="8.07"/><circle cx="1430.0" cy="1123.3" r="8.07"/>
<circle cx="1534.9" cy="1133.8" r="8.07"/><circle cx="1514.4" cy="1310.0" r="8.07"/><circle cx="1471.4" cy="1238.7" r="8.07"/><circle cx="1365.3" cy="1202.8" r="8.07"/><circle cx="1461.8" cy="1177.8" r="8.07"/><circle cx="1594.3" cy="1126.4" r="8.07"/><circle cx="1485.9" cy="1100.9" r="8.07"/><circle cx="1475.3" cy="1161.7" r="8.07"/>
<circle cx="1401.9" cy="1101.4" r="8.07"/><circle cx="1305.5" cy="1129.4" r="8.07"/><circle cx="1337.2" cy="1257.1" r="8.07"/><circle cx="1520.1" cy="1148.7" r="8.07"/><circle cx="1599.0" cy="1133.2" r="8.07"/><circle cx="1450.7" cy="1245.4" r="8.07"/><circle cx="1275.2" cy="1229.3" r="8.07"/><circle cx="1441.9" cy="1299.3" r="8.07"/>
<circle cx="1312.9" cy="1167.3" r="8.07"/><circle cx="1365.5" cy="1102.6" r="8.07"/><circle cx="1422.7" cy="1198.5" r="8.07"/><circle cx="1461.8" cy="1128.4" r="8.07"/><circle cx="1532.7" cy="1247.4" r="8.07"/><circle cx="1562.9" cy="1128.9" r="8.07"/><circle cx="1293.3" cy="1140.8" r="8.07"/><circle cx="1414.5" cy="1202.1" r="8.07"/>
<circle cx="1463.6" cy="1199.7" r="8.07"/><circle cx="1531.2" cy="1170.2" r="8.07"/><circle cx="1567.8" cy="1264.7" r="8.07"/><circle cx="1351.4" cy="1265.9" r="8.07"/><circle cx="1503.9" cy="1109.8" r="8.07"/><circle cx="1410.0" cy="1167.5" r="8.07"/><circle cx="1285.0" cy="1226.9" r="8.07"/><circle cx="1561.3" cy="1208.2" r="8.07"/>
<circle cx="1460.4" cy="1122.0" r="8.07"/><circle cx="1401.2" cy="1213.2" r="8.07"/><circle cx="1400.2" cy="1336.5" r="8.07"/><circle cx="1333.0" cy="1334.0" r="8.07"/><circle cx="1278.8" cy="1329.3" r="8.07"/><circle cx="1397.6" cy="1398.0" r="8.07"/><circle cx="1393.7" cy="1368.4" r="8.07"/><circle cx="1384.0" cy="1355.7" r="8.07"/>
<circle cx="1428.2" cy="1321.0" r="8.07"/><circle cx="1434.7" cy="1342.1" r="8.07"/><circle cx="1361.4" cy="1321.0" r="8.07"/><circle cx="1360.3" cy="1351.5" r="8.07"/><circle cx="1390.5" cy="1395.0" r="8.07"/><circle cx="1432.6" cy="1322.7" r="8.07"/><circle cx="1288.3" cy="1345.1" r="8.07"/><circle cx="1361.1" cy="1292.2" r="8.07"/>
<circle cx="1465.7" cy="1315.7" r="8.07"/><circle cx="1298.6" cy="1381.4" r="8.07"/><circle cx="1320.8" cy="1397.3" r="8.07"/><circle cx="1321.0" cy="1385.5" r="8.07"/><circle cx="1330.6" cy="1326.4" r="8.07"/><circle cx="1382.0" cy="1283.5" r="8.07"/><circle cx="1468.4" cy="1356.3" r="8.07"/><circle cx="1386.6" cy="1364.0" r="8.07"/>
<circle cx="1444.8" cy="1347.2" r="8.07"/><circle cx="1352.3" cy="1347.2" r="8.07"/><circle cx="1376.2" cy="1377.9" r="8.07"/><circle cx="1461.8" cy="1365.5" r="8.07"/><circle cx="1296.0" cy="1377.0" r="8.07"/><circle cx="1265.8" cy="1393.2" r="8.07"/><circle cx="1389.3" cy="1263.1" r="8.07"/><circle cx="1449.0" cy="1321.1" r="8.07"/>
<circle cx="1495.3" cy="1409.1" r="8.07"/><circle cx="1322.6" cy="1332.7" r="8.07"/><circle cx="1448.0" cy="1353.7" r="8.07"/><circle cx="1350.4" cy="1369.6" r="8.07"/><circle cx="1275.7" cy="1379.4" r="8.07"/><circle cx="1339.0" cy="1358.6" r="8.07"/><circle cx="1292.3" cy="1351.0" r="8.07"/><circle cx="1370.1" cy="1344.9" r="8.07"/>
<circle cx="1361.7" cy="1368.9" r="8.07"/><circle cx="1374.3" cy="1385.8" r="8.07"/><circle cx="1405.7" cy="1320.5" r="8.07"/><circle cx="1343.0" cy="1376.2" r="8.07"/><circle cx="1393.3" cy="1308.7" r="8.07"/><circle cx="1385.3" cy="1367.7" r="8.07"/><circle cx="1326.7" cy="1354.3" r="8.07"/><circle cx="1797.7" cy="722.6" r="8.07"/>
<circle cx="1726.1" cy="779.1" r="8.07"/><circle cx="1745.1" cy="808.0" r="8.07"/><circle cx="1698.1" cy="834.9" r="8.07"/><circle cx="1842.4" cy="830.1" r="8.07"/><circle cx="1861.0" cy="833.3" r="8.07"/><circle cx="1645.5" cy="864.9" r="8.07"/><circle cx="1683.0" cy="866.1" r="8.07"/><circle cx="1681.9" cy="876.0" r="8.07"/>
<circle cx="1725.4" cy="898.5" r="8.07"/><circle cx="1783.1" cy="913.6" r="8.07"/><circle cx="1796.5" cy="918.3" r="8.07"/><circle cx="1812.4" cy="918.3" r="8.07"/><circle cx="1872.9" cy="913.2" r="8.07"/><circle cx="1859.8" cy="942.0" r="8.07"/><circle cx="1604.7" cy="944.8" r="8.07"/><circle cx="1631.6" cy="961.3" r="8.07"/>
<circle cx="1676.3" cy="976.3" r="8.07"/><circle cx="1614.6" cy="994.1" r="8.07"/><circle cx="1681.9" cy="1000.8" r="8.07"/><circle cx="1760.2" cy="1006.8" r="8.07"/><circle cx="1610.7" cy="1014.7" r="8.07"/><circle cx="1607.9" cy="1038.4" r="8.07"/><circle cx="1618.6" cy="1043.2" r="8.07"/><circle cx="1633.6" cy="1035.2" r="8.07"/>
<circle cx="1659.3" cy="1028.5" r="8.07"/><circle cx="1663.3" cy="1037.2" r="8.07"/><circle cx="1712.7" cy="1047.1" r="8.07"/><circle cx="1721.8" cy="1040.4" r="8.07"/><circle cx="1842.4" cy="1059.0" r="8.07"/><circle cx="1742.4" cy="1074.0" r="8.07"/><circle cx="1600.0" cy="1060.2" r="8.07"/><circle cx="1697.7" cy="1088.6" r="8.07"/>
<circle cx="1669.2" cy="1091.0" r="8.07"/><circle cx="1646.3" cy="1095.7" r="8.07"/><circle cx="1631.6" cy="1097.7" r="8.07"/><circle cx="1615.8" cy="1097.7" r="8.07"/><circle cx="1650.6" cy="1104.4" r="8.07"/><circle cx="1624.5" cy="1110.8" r="8.07"/><circle cx="1604.0" cy="1111.6" r="8.07"/><circle cx="1679.1" cy="1111.6" r="8.07"/>
<circle cx="1660.1" cy="1122.6" r="8.07"/><circle cx="1613.8" cy="1130.1" r="8.07"/><circle cx="1639.5" cy="1143.2" r="8.07"/><circle cx="1646.3" cy="1143.2" r="8.07"/><circle cx="1642.3" cy="1149.1" r="8.07"/><circle cx="1685.0" cy="1147.2" r="8.07"/><circle cx="1716.7" cy="1143.2" r="8.07"/><circle cx="1720.6" cy="1147.2" r="8.07"/>
<circle cx="1756.2" cy="1153.9" r="8.07"/><circle cx="1748.3" cy="1167.3" r="8.07"/><circle cx="1624.5" cy="1161.0" r="8.07"/><circle cx="1642.3" cy="1162.2" r="8.07"/><circle cx="1613.8" cy="1168.9" r="8.07"/><circle cx="1602.0" cy="1170.1" r="8.07"/><circle cx="1663.3" cy="1172.9" r="8.07"/><circle cx="1701.6" cy="1168.9" r="8.07"/>
<circle cx="1691.7" cy="1173.6" r="8.07"/><circle cx="1661.3" cy="1181.6" r="8.07"/><circle cx="1694.9" cy="1188.7" r="8.07"/><circle cx="1701.6" cy="1192.6" r="8.07"/><circle cx="1600.0" cy="1184.7" r="8.07"/><circle cx="1625.7" cy="1192.6" r="8.07"/><circle cx="1636.4" cy="1188.7" r="8.07"/><circle cx="1655.4" cy="1197.4" r="8.07"/>
<circle cx="1677.1" cy="1197.4" r="8.07"/><circle cx="1685.0" cy="1199.4" r="8.07"/><circle cx="1793.0" cy="1204.9" r="8.07"/><circle cx="1619.8" cy="1206.5" r="8.07"/><circle cx="1607.9" cy="1212.4" r="8.07"/><circle cx="1629.7" cy="1212.4" r="8.07"/><circle cx="1641.5" cy="1214.4" r="8.07"/><circle cx="1673.2" cy="1219.1" r="8.07"/>
<circle cx="1664.5" cy="1225.5" r="8.07"/><circle cx="1687.8" cy="1229.4" r="8.07"/><circle cx="1611.9" cy="1232.2" r="8.07"/><circle cx="1631.6" cy="1240.1" r="8.07"/><circle cx="1642.3" cy="1245.2" r="8.07"/><circle cx="1706.0" cy="1244.8" r="8.07"/><circle cx="1700.8" cy="1250.0" r="8.07"/><circle cx="1781.9" cy="1248.0" r="8.07"/>
<circle cx="1600.0" cy="1248.0" r="8.07"/><circle cx="1608.7" cy="1253.1" r="8.07"/><circle cx="1624.5" cy="1257.9" r="8.07"/><circle cx="1748.3" cy="1260.6" r="8.07"/><circle cx="1755.0" cy="1270.1" r="8.07"/><circle cx="1642.3" cy="1267.8" r="8.07"/><circle cx="1619.8" cy="1275.7" r="8.07"/><circle cx="1604.0" cy="1281.6" r="8.07"/>
<circle cx="1639.5" cy="1275.7" r="8.07"/><circle cx="1631.6" cy="1285.6" r="8.07"/><circle cx="1684.2" cy="1276.9" r="8.07"/><circle cx="1804.8" cy="1275.7" r="8.07"/><circle cx="1689.0" cy="1292.3" r="8.07"/><circle cx="1645.5" cy="1295.4" r="8.07"/><circle cx="1646.7" cy="1302.2" r="8.07"/><circle cx="1613.0" cy="1305.3" r="8.07"/>
<circle cx="1622.5" cy="1313.2" r="8.07"/><circle cx="1647.5" cy="1309.3" r="8.07"/><circle cx="1675.1" cy="1311.3" r="8.07"/><circle cx="1779.9" cy="1321.9" r="8.07"/><circle cx="1889.9" cy="1239.3" r="8.07"/><circle cx="1641.5" cy="1330.2" r="8.07"/><circle cx="1623.7" cy="1336.2" r="8.07"/><circle cx="1630.4" cy="1348.0" r="8.07"/>
<circle cx="1691.0" cy="1340.5" r="8.07"/><circle cx="1677.1" cy="1381.3" r="8.07"/><circle cx="1692.9" cy="1406.2" r="8.07"/><circle cx="1618.6" cy="1420.0" r="8.07"/><circle cx="1643.5" cy="1474.2" r="8.07"/><circle cx="1579.4" cy="946.2" r="8.07"/><circle cx="1599.2" cy="944.3" r="8.07"/><circle cx="1497.2" cy="962.1" r="8.07"/>
<circle cx="1510.2" cy="966.8" r="8.07"/><circle cx="1530.0" cy="969.2" r="8.07"/><circle cx="1535.9" cy="977.1" r="8.07"/><circle cx="1517.0" cy="989.0" r="8.07"/><circle cx="1563.6" cy="986.6" r="8.07"/><circle cx="1578.6" cy="989.7" r="8.07"/><circle cx="1579.4" cy="995.7" r="8.07"/><circle cx="1457.6" cy="1001.6" r="8.07"/>
<circle cx="1358.0" cy="1001.6" r="8.07"/><circle cx="1515.8" cy="1414.9" r="8.07"/><circle cx="1542.2" cy="1482.3" r="8.07"/><circle cx="1469.9" cy="1494.7" r="8.07"/><circle cx="1449.1" cy="1487.9" r="8.07"/><circle cx="1436.6" cy="1466.8" r="8.07"/><circle cx="1473.9" cy="1407.8" r="8.07"/><circle cx="1446.0" cy="1415.5" r="8.07"/>
<circle cx="1453.7" cy="1430.1" r="8.07"/><circle cx="1442.9" cy="1435.7" r="8.07"/><circle cx="1432.6" cy="1443.5" r="8.07"/><circle cx="1407.1" cy="1434.2" r="8.07"/><circle cx="1404.0" cy="1449.7" r="8.07"/><circle cx="1400.9" cy="1457.5" r="8.07"/><circle cx="1217.7" cy="1603.4" r="8.07"/><circle cx="1224.5" cy="1611.2" r="8.07"/>
<circle cx="1182.9" cy="1630.4" r="8.07"/><circle cx="1175.2" cy="1663.4" r="8.07"/><circle cx="1358.3" cy="1007.9" r="8.07"/><circle cx="1567.8" cy="1040.0" r="8.07"/><circle cx="1545.6" cy="1049.1" r="8.07"/><circle cx="1524.7" cy="1041.3" r="8.07"/><circle cx="1516.9" cy="1046.5" r="8.07"/><circle cx="1496.8" cy="1062.7" r="8.07"/>
<circle cx="1464.7" cy="1066.1" r="8.07"/><circle cx="1472.6" cy="1068.7" r="8.07"/><circle cx="1515.6" cy="1068.7" r="8.07"/><circle cx="1506.5" cy="1073.9" r="8.07"/><circle cx="1524.7" cy="1077.8" r="8.07"/><circle cx="1549.0" cy="1072.6" r="8.07"/><circle cx="1591.8" cy="1084.3" r="8.07"/><circle cx="1577.7" cy="1094.8" r="8.07"/>
<circle cx="1373.4" cy="1060.9" r="8.07"/><circle cx="1400.3" cy="1066.8" r="8.07"/><circle cx="1418.6" cy="1077.8" r="8.07"/><circle cx="1431.6" cy="1084.3" r="8.07"/><circle cx="1457.7" cy="1080.4" r="8.07"/><circle cx="1471.3" cy="1084.3" r="8.07"/><circle cx="1486.9" cy="1093.5" r="8.07"/><circle cx="1501.3" cy="1084.3" r="8.07"/>
<circle cx="1374.8" cy="1102.6" r="8.07"/><circle cx="1472.0" cy="1107.8" r="8.07"/><circle cx="1488.2" cy="1103.9" r="8.07"/><circle cx="1278.6" cy="1401.6" r="8.07"/><circle cx="1306.5" cy="1412.4" r="8.07"/><circle cx="1222.7" cy="1434.2" r="8.07"/><circle cx="1284.8" cy="1431.1" r="8.07"/><circle cx="1303.4" cy="1433.4" r="8.07"/>
<circle cx="1322.0" cy="1435.7" r="8.07"/><circle cx="1354.7" cy="1426.4" r="8.07"/><circle cx="1351.6" cy="1435.7" r="8.07"/><circle cx="1255.3" cy="1451.2" r="8.07"/><circle cx="1263.0" cy="1446.6" r="8.07"/><circle cx="1270.8" cy="1445.0" r="8.07"/><circle cx="1281.7" cy="1455.9" r="8.07"/><circle cx="1145.8" cy="1459.0" r="8.07"/>
<circle cx="1156.7" cy="1479.2" r="8.07"/><circle cx="1331.4" cy="1452.8" r="8.07"/><circle cx="1334.5" cy="1460.6" r="8.07"/><circle cx="1351.6" cy="1454.3" r="8.07"/><circle cx="1391.9" cy="1452.8" r="8.07"/><circle cx="1277.0" cy="1478.4" r="8.07"/><circle cx="1287.9" cy="1479.2" r="8.07"/><circle cx="1285.6" cy="1491.6" r="8.07"/>
<circle cx="1343.0" cy="1491.6" r="8.07"/><circle cx="1356.2" cy="1487.0" r="8.07"/><circle cx="1362.4" cy="1489.3" r="8.07"/><circle cx="1379.5" cy="1481.5" r="8.07"/><circle cx="1393.5" cy="1485.4" r="8.07"/><circle cx="1200.9" cy="1504.8" r="8.07"/><circle cx="1241.3" cy="1502.5" r="8.07"/><circle cx="1304.2" cy="1505.6" r="8.07"/>
<circle cx="1349.2" cy="1511.0" r="8.07"/><circle cx="1387.3" cy="1515.7" r="8.07"/><circle cx="1207.1" cy="1518.8" r="8.07"/><circle cx="1162.9" cy="1520.3" r="8.07"/><circle cx="1249.1" cy="1521.9" r="8.07"/><circle cx="1325.2" cy="1522.7" r="8.07"/><circle cx="1329.8" cy="1532.0" r="8.07"/><circle cx="1326.7" cy="1536.6" r="8.07"/>
<circle cx="1214.1" cy="1585.6" r="8.07"/><circle cx="1356.2" cy="1401.6" r="8.07"/><circle cx="1370.2" cy="1400.8" r="8.07"/><circle cx="1625.3" cy="1213.1" r="8.07"/><circle cx="1623.4" cy="1217.0" r="8.07"/><circle cx="1636.9" cy="1211.2" r="8.07"/><circle cx="1628.2" cy="1221.4" r="8.07"/><circle cx="1627.3" cy="1238.3" r="8.07"/>
<circle cx="1631.2" cy="1243.1" r="8.07"/><circle cx="1638.4" cy="1244.2" r="8.07"/><circle cx="1631.5" cy="1250.8" r="8.07"/><circle cx="1631.6" cy="1284.1" r="8.07"/><circle cx="1634.7" cy="1289.0" r="8.07"/><circle cx="1620.6" cy="1183.9" r="8.07"/><circle cx="1611.3" cy="1171.6" r="8.07"/>
</g>
<rect x="310.3" y="285.9" width="1324.3" height="392.8" rx="16.67" fill="#fff" fill-opacity=".8" stroke="#ccc" stroke-opacity=".8" stroke-width="4.17"/>
<g stroke-width="4.17" fill-opacity=".6" stroke-opacity=".6"><circle cx="427.3" cy="361.3" r="8.07" fill="#1f77b4" stroke="#1f77b4"/><circle cx="427.3" cy="484.5" r="8.07" fill="#2ca02c" stroke="#2ca02c"/><circle cx="427.3" cy="607.7" r="8.07" fill="#9467bd" stroke="#9467bd"/><circle cx="1139.3" cy="361.3" r="8.07" fill="#e377c2" stroke="#e377c2"/><circle cx="1139.3" cy="484.5" r="8.07" fill="#bcbd22" stroke="#bcbd22"/><circle cx="1139.3" cy="607.7" r="8.07" fill="#17becf" stroke="#17becf"/></g>
<text x="576.0" y="384.5" font-size="83.33">Layer 1</text>
<text x="576.0" y="507.3" font-size="83.33">Layer 2</text>
<text x="576.0" y="629.9" font-size="83.33">Layer 3</text>
<text x="1288.9" y="384.5" font-size="83.33">Layer 4</text>
<text x="1288.9" y="507.3" font-size="83.33">Layer 5</text>
<text x="1288.9" y="629.9" font-size="83.33">Layer 6</text>
</svg>
</body></html>
